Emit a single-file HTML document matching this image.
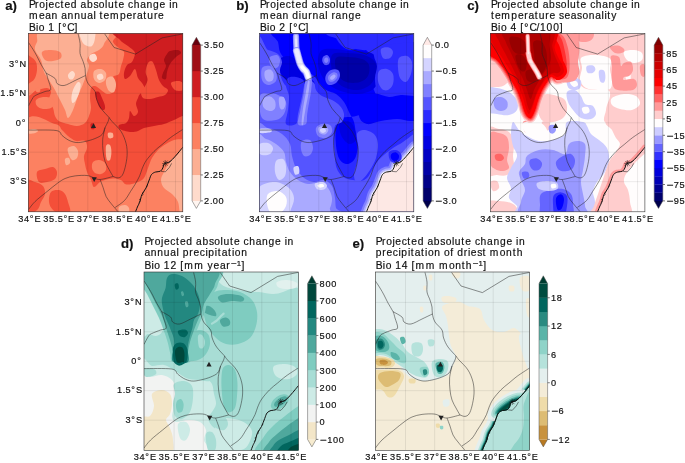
<!DOCTYPE html>
<html lang="en"><head><meta charset="utf-8"><title>Projected absolute change in bioclimatic variables</title>
<style>html,body{margin:0;padding:0;background:#fff}svg{display:block;will-change:transform}text{font-family:"Liberation Sans",Arial,Helvetica,sans-serif;fill:#111;stroke:#111;stroke-width:0.18px}.ttl{font-size:10.28px}.tk{font-size:9.2px}.lab{font-size:13.2px;font-weight:bold}.mn{font-family:"DejaVu Sans","Liberation Sans",sans-serif}</style></head><body>
<svg width="685" height="463" viewBox="0 0 685 463">
<defs><clipPath id="clipmap"><rect x="28.5" y="33.5" width="154.3" height="178.3"/></clipPath><filter id="b1" x="-10%" y="-10%" width="120%" height="120%"><feGaussianBlur stdDeviation="0.6"/></filter></defs>
<rect width="685" height="463" fill="#fff"/>
<g transform="translate(0.0,0.0)">
<g clip-path="url(#clipmap)">
<rect x="28" y="33" width="156" height="180" fill="#f44f39"/>
<path d="M25.0 30.0C39.3 19.7 96.3 28.0 111.0 30.0C125.7 32.0 111.7 39.0 113.0 42.0C114.3 45.0 117.2 46.3 119.0 48.0C120.8 49.7 123.3 50.0 124.0 52.0C124.7 54.0 123.5 57.7 123.0 60.0C122.5 62.3 121.7 63.7 121.0 66.0C120.3 68.3 120.3 72.2 119.0 74.0C117.7 75.8 113.7 75.3 113.0 77.0C112.3 78.7 115.0 81.5 115.0 84.0C115.0 86.5 114.3 90.3 113.0 92.0C111.7 93.7 109.0 94.3 107.0 94.0C105.0 93.7 103.0 91.3 101.0 90.0C99.0 88.7 96.7 86.3 95.0 86.0C93.3 85.7 91.8 86.0 91.0 88.0C90.2 90.0 90.0 94.7 90.0 98.0C90.0 101.3 91.2 105.0 91.0 108.0C90.8 111.0 90.0 113.5 89.0 116.0C88.0 118.5 87.0 121.3 85.0 123.0C83.0 124.7 79.8 125.8 77.0 126.0C74.2 126.2 71.0 124.8 68.0 124.0C65.0 123.2 61.2 122.3 59.0 121.0C56.8 119.7 56.0 118.2 55.0 116.0C54.0 113.8 54.0 110.7 53.0 108.0C52.0 105.3 49.3 102.7 49.0 100.0C48.7 97.3 51.3 94.0 51.0 92.0C50.7 90.0 49.3 88.3 47.0 88.0C44.7 87.7 40.7 89.3 37.0 90.0C33.3 90.7 27.0 102.0 25.0 92.0C23.0 82.0 10.7 40.3 25.0 30.0Z" fill="#fc8161"/>
<path d="M36.0 100.0C37.0 98.5 40.5 97.3 43.0 97.0C45.5 96.7 49.1 97.0 51.0 98.0C52.9 99.0 54.6 101.3 54.6 103.0C54.6 104.7 52.9 107.0 51.0 108.0C49.1 109.0 45.3 109.3 43.0 109.0C40.7 108.7 38.2 107.5 37.0 106.0C35.8 104.5 35.0 101.5 36.0 100.0Z" fill="#fc8161"/>
<ellipse cx="38.0" cy="90.0" rx="2.4" ry="2.4" fill="#fc8161"/>
<path d="M25.0 123.0C30.0 107.7 48.8 122.8 55.0 124.0C61.2 125.2 59.8 128.0 62.0 130.0C64.2 132.0 65.7 134.2 68.0 136.0C70.3 137.8 73.2 140.2 76.0 141.0C78.8 141.8 83.2 139.8 85.0 141.0C86.8 142.2 87.2 145.5 87.0 148.0C86.8 150.5 84.3 153.3 84.0 156.0C83.7 158.7 84.5 161.3 85.0 164.0C85.5 166.7 86.0 169.3 87.0 172.0C88.0 174.7 89.8 177.5 91.0 180.0C92.2 182.5 92.5 186.7 94.0 187.0C95.5 187.3 98.2 183.2 100.0 182.0C101.8 180.8 102.8 180.6 105.0 180.0C107.2 179.4 110.3 178.4 113.0 178.4C115.7 178.4 119.0 179.1 121.0 180.0C123.0 180.9 123.5 183.3 125.0 184.0C126.5 184.7 127.8 184.7 130.0 184.4C132.2 184.1 135.7 183.1 138.0 182.0C140.3 180.9 142.3 180.3 144.0 178.0C145.7 175.7 146.7 171.3 148.0 168.0C149.3 164.7 150.3 161.0 152.0 158.0C153.7 155.0 155.7 152.3 158.0 150.0C160.3 147.7 163.3 145.7 166.0 144.0C168.7 142.3 171.2 140.8 174.0 140.0C176.8 139.2 179.9 139.3 182.6 139.0C185.3 138.7 188.8 125.2 190.0 138.0C191.2 150.8 217.5 203.0 190.0 216.0C162.5 229.0 52.5 231.5 25.0 216.0C-2.5 200.5 20.0 138.3 25.0 123.0Z" fill="#fc8161"/>
<path d="M93.0 162.0C94.2 160.7 97.0 159.8 99.0 160.0C101.0 160.2 103.8 161.3 105.0 163.0C106.2 164.7 106.7 168.2 106.0 170.0C105.3 171.8 102.8 173.5 101.0 174.0C99.2 174.5 96.5 174.0 95.0 173.0C93.5 172.0 92.3 169.8 92.0 168.0C91.7 166.2 91.8 163.3 93.0 162.0Z" fill="#fc8161"/>
<path d="M25.0 56.0C26.0 51.7 29.2 56.0 31.0 57.0C32.8 58.0 35.0 59.8 36.0 62.0C37.0 64.2 37.2 67.3 37.0 70.0C36.8 72.7 36.0 76.0 35.0 78.0C34.0 80.0 32.7 81.2 31.0 82.0C29.3 82.8 26.0 87.3 25.0 83.0C24.0 78.7 24.0 60.3 25.0 56.0Z" fill="#f44f39"/>
<path d="M37.0 172.0C38.0 169.8 42.3 169.8 45.0 169.0C47.7 168.2 51.0 166.5 53.0 167.0C55.0 167.5 56.7 170.0 57.0 172.0C57.3 174.0 56.7 177.3 55.0 179.0C53.3 180.7 49.7 181.5 47.0 182.0C44.3 182.5 40.7 183.7 39.0 182.0C37.3 180.3 36.0 174.2 37.0 172.0Z" fill="#f44f39"/>
<path d="M25.0 182.0C26.7 176.7 32.0 181.3 35.0 182.0C38.0 182.7 41.3 184.0 43.0 186.0C44.7 188.0 45.3 191.3 45.0 194.0C44.7 196.7 42.3 199.3 41.0 202.0C39.7 204.7 39.7 208.0 37.0 210.0C34.3 212.0 27.0 218.7 25.0 214.0C23.0 209.3 23.3 187.3 25.0 182.0Z" fill="#f44f39"/>
<path d="M51.0 192.0C52.7 190.0 56.7 189.7 59.0 190.0C61.3 190.3 63.5 192.0 65.0 194.0C66.5 196.0 67.2 199.0 68.0 202.0C68.8 205.0 71.2 210.0 70.0 212.0C68.8 214.0 63.8 214.3 61.0 214.0C58.2 213.7 55.0 212.0 53.0 210.0C51.0 208.0 49.3 205.0 49.0 202.0C48.7 199.0 49.3 194.0 51.0 192.0Z" fill="#f44f39"/>
<path d="M44.0 30.0C32.7 32.0 38.5 38.7 37.0 42.0C35.5 45.3 34.3 47.0 35.0 50.0C35.7 53.0 39.5 56.3 41.0 60.0C42.5 63.7 42.7 68.7 44.0 72.0C45.3 75.3 47.2 77.0 49.0 80.0C50.8 83.0 53.3 87.0 55.0 90.0C56.7 93.0 57.3 94.7 59.0 98.0C60.7 101.3 63.5 106.7 65.0 110.0C66.5 113.3 66.7 118.0 68.0 118.0C69.3 118.0 71.3 113.7 73.0 110.0C74.7 106.3 76.3 100.3 78.0 96.0C79.7 91.7 81.7 87.3 83.0 84.0C84.3 80.7 85.0 79.0 86.0 76.0C87.0 73.0 88.8 68.7 89.0 66.0C89.2 63.3 86.7 62.0 87.0 60.0C87.3 58.0 89.0 55.7 91.0 54.0C93.0 52.3 96.8 51.7 99.0 50.0C101.2 48.3 103.0 47.3 104.0 44.0C105.0 40.7 115.0 32.3 105.0 30.0C95.0 27.7 55.3 28.0 44.0 30.0Z" fill="#fcaf93"/>
<path d="M42.0 52.0C43.0 50.3 48.0 50.0 51.0 50.0C54.0 50.0 58.3 50.7 60.0 52.0C61.7 53.3 62.2 56.5 61.0 58.0C59.8 59.5 55.7 60.7 53.0 61.0C50.3 61.3 46.8 61.5 45.0 60.0C43.2 58.5 41.0 53.7 42.0 52.0Z" fill="#fc8161"/>
<path d="M94.0 71.0C95.2 69.3 99.0 68.7 101.0 69.0C103.0 69.3 105.3 71.2 106.0 73.0C106.7 74.8 106.2 78.3 105.0 80.0C103.8 81.7 100.8 83.2 99.0 83.0C97.2 82.8 94.8 81.0 94.0 79.0C93.2 77.0 92.8 72.7 94.0 71.0Z" fill="#fcaf93"/>
<path d="M107.0 78.0C108.2 76.8 111.5 76.0 113.0 77.0C114.5 78.0 115.8 81.5 116.0 84.0C116.2 86.5 115.2 90.8 114.0 92.0C112.8 93.2 110.3 92.3 109.0 91.0C107.7 89.7 106.3 86.2 106.0 84.0C105.7 81.8 105.8 79.2 107.0 78.0Z" fill="#fcaf93"/>
<path d="M68.0 148.0C68.9 146.7 72.3 145.5 74.0 146.0C75.7 146.5 77.5 149.0 78.0 151.0C78.5 153.0 78.0 156.5 77.0 158.0C76.0 159.5 73.4 160.7 72.0 160.0C70.6 159.3 69.3 156.0 68.6 154.0C67.9 152.0 67.1 149.3 68.0 148.0Z" fill="#fcaf93"/>
<path d="M65.0 159.0C65.5 157.8 68.2 157.3 69.0 158.0C69.8 158.7 70.5 161.8 70.0 163.0C69.5 164.2 66.8 165.7 66.0 165.0C65.2 164.3 64.5 160.2 65.0 159.0Z" fill="#fcaf93"/>
<path d="M106.0 146.0C106.6 143.7 109.1 144.0 110.0 145.0C110.9 146.0 111.4 149.5 111.4 152.0C111.4 154.5 110.8 158.8 110.0 160.0C109.2 161.2 107.3 161.3 106.6 159.0C105.9 156.7 105.4 148.3 106.0 146.0Z" fill="#fcaf93"/>
<path d="M108.0 133.0C108.7 132.2 111.8 132.2 112.6 133.0C113.4 133.8 113.7 136.8 113.0 137.6C112.3 138.4 109.4 138.8 108.6 138.0C107.8 137.2 107.3 133.8 108.0 133.0Z" fill="#fcaf93"/>
<path d="M119.0 207.0C119.8 205.7 123.3 204.8 125.0 205.0C126.7 205.2 128.5 206.7 129.0 208.0C129.5 209.3 129.5 212.2 128.0 213.0C126.5 213.8 121.5 214.0 120.0 213.0C118.5 212.0 118.2 208.3 119.0 207.0Z" fill="#fcaf93"/>
<path d="M28.4 130.0C29.7 129.3 34.4 128.9 36.0 129.2C37.6 129.5 38.3 130.9 37.8 131.6C37.3 132.3 34.6 133.3 33.0 133.6C31.4 133.9 29.2 133.8 28.4 133.2C27.6 132.6 27.1 130.7 28.4 130.0Z" fill="#fcaf93"/>
<path d="M190.0 146.0C188.8 134.7 184.6 146.7 182.6 148.0C180.6 149.3 180.1 151.7 178.0 154.0C175.9 156.3 172.3 159.0 170.0 162.0C167.7 165.0 165.5 169.0 164.0 172.0C162.5 175.0 161.0 177.3 161.0 180.0C161.0 182.7 162.2 185.7 164.0 188.0C165.8 190.3 169.7 191.7 172.0 194.0C174.3 196.3 176.5 198.3 178.0 202.0C179.5 205.7 179.0 213.7 181.0 216.0C183.0 218.3 188.5 227.7 190.0 216.0C191.5 204.3 191.2 157.3 190.0 146.0Z" fill="#fcaf93"/>
<path d="M80.0 30.0C82.2 28.5 91.5 28.7 94.0 30.0C96.5 31.3 95.3 35.3 95.0 38.0C94.7 40.7 93.7 44.8 92.0 46.0C90.3 47.2 86.8 46.2 85.0 45.0C83.2 43.8 81.8 41.5 81.0 39.0C80.2 36.5 77.8 31.5 80.0 30.0Z" fill="#fedbcc"/>
<path d="M90.0 55.0C90.9 54.2 93.8 53.3 95.0 54.0C96.2 54.7 97.3 57.7 97.0 59.0C96.7 60.3 94.3 62.0 93.0 62.0C91.7 62.0 89.9 60.2 89.4 59.0C88.9 57.8 89.1 55.8 90.0 55.0Z" fill="#fedbcc"/>
<path d="M68.0 75.0C68.4 73.7 70.8 71.2 72.0 71.0C73.2 70.8 74.8 72.7 75.0 74.0C75.2 75.3 73.9 78.2 73.0 79.0C72.1 79.8 70.2 79.7 69.4 79.0C68.6 78.3 67.6 76.3 68.0 75.0Z" fill="#fedbcc"/>
<path d="M73.0 90.0C74.0 87.4 76.1 83.4 77.4 82.4C78.7 81.4 80.3 82.4 80.6 84.0C80.9 85.6 80.2 89.3 79.4 92.0C78.6 94.7 77.1 98.2 76.0 100.0C74.9 101.8 73.4 103.3 72.6 103.0C71.8 102.7 71.3 100.2 71.4 98.0C71.5 95.8 72.0 92.6 73.0 90.0Z" fill="#fedbcc"/>
<path d="M97.4 75.0C98.2 74.3 101.0 73.5 102.0 74.0C103.0 74.5 103.7 77.0 103.4 78.0C103.1 79.0 101.0 79.9 100.0 80.0C99.0 80.1 97.8 79.2 97.4 78.4C97.0 77.6 96.6 75.7 97.4 75.0Z" fill="#fedbcc"/>
<path d="M117.0 30.0C105.3 31.7 118.2 37.3 120.0 40.0C121.8 42.7 125.8 44.3 128.0 46.0C130.2 47.7 131.8 48.7 133.0 50.0C134.2 51.3 135.2 52.0 135.0 54.0C134.8 56.0 133.3 60.2 132.0 62.0C130.7 63.8 128.3 63.2 127.0 65.0C125.7 66.8 124.3 70.7 124.0 73.0C123.7 75.3 124.0 78.5 125.0 79.0C126.0 79.5 128.3 77.7 130.0 76.0C131.7 74.3 133.7 68.7 135.0 69.0C136.3 69.3 136.8 75.7 138.0 78.0C139.2 80.3 140.8 81.3 142.0 83.0C143.2 84.7 144.3 86.8 145.0 88.0C145.7 89.2 146.8 89.0 146.0 90.0C145.2 91.0 141.3 92.7 140.0 94.0C138.7 95.3 138.7 96.3 138.0 98.0C137.3 99.7 136.0 101.7 136.0 104.0C136.0 106.3 138.3 110.0 138.0 112.0C137.7 114.0 135.3 116.2 134.0 116.0C132.7 115.8 130.8 110.7 130.0 111.0C129.2 111.3 129.7 116.0 129.0 118.0C128.3 120.0 127.7 121.8 126.0 123.0C124.3 124.2 120.0 124.0 119.0 125.0C118.0 126.0 118.2 127.8 120.0 129.0C121.8 130.2 127.0 131.7 130.0 132.0C133.0 132.3 135.7 131.7 138.0 131.0C140.3 130.3 141.3 128.8 144.0 128.0C146.7 127.2 150.7 126.7 154.0 126.0C157.3 125.3 160.7 125.0 164.0 124.0C167.3 123.0 170.9 121.3 174.0 120.0C177.1 118.7 179.9 116.8 182.6 116.0C185.3 115.2 188.8 129.3 190.0 115.0C191.2 100.7 202.2 44.2 190.0 30.0C177.8 15.8 128.7 28.3 117.0 30.0Z" fill="#cf1d20"/>
<path d="M148.0 63.0C149.1 61.3 151.1 60.4 152.4 61.6C153.7 62.8 154.9 66.9 156.0 70.0C157.1 73.1 157.8 77.3 159.0 80.0C160.2 82.7 161.5 84.3 163.0 86.0C164.5 87.7 167.7 88.5 168.0 90.0C168.3 91.5 166.7 93.8 165.0 95.0C163.3 96.2 160.5 96.3 158.0 97.0C155.5 97.7 152.5 98.8 150.0 99.0C147.5 99.2 144.5 99.2 143.0 98.0C141.5 96.8 140.8 93.7 141.0 92.0C141.2 90.3 142.9 90.0 144.0 88.0C145.1 86.0 147.3 82.7 147.6 80.0C147.9 77.3 145.5 74.8 145.6 72.0C145.7 69.2 146.9 64.7 148.0 63.0Z" fill="#f44f39"/>
<path d="M171.0 83.0C171.5 81.5 176.1 81.0 178.0 81.0C179.9 81.0 181.8 81.5 182.6 83.0C183.4 84.5 183.9 88.8 182.6 90.0C181.3 91.2 176.9 91.2 175.0 90.0C173.1 88.8 170.5 84.5 171.0 83.0Z" fill="#f44f39"/>
<path d="M170.0 51.0C171.8 50.3 176.2 49.7 178.0 50.0C179.8 50.3 181.3 51.8 181.0 53.0C180.7 54.2 177.8 55.2 176.0 57.0C174.2 58.8 171.5 61.5 170.0 64.0C168.5 66.5 167.7 69.5 167.0 72.0C166.3 74.5 166.8 78.0 166.0 79.0C165.2 80.0 162.5 79.0 162.0 78.0C161.5 77.0 162.3 75.0 163.0 73.0C163.7 71.0 165.8 68.2 166.0 66.0C166.2 63.8 163.8 62.0 164.0 60.0C164.2 58.0 166.0 55.5 167.0 54.0C168.0 52.5 168.2 51.7 170.0 51.0Z" fill="#a50f15"/>
<path d="M95.0 93.0C95.3 91.5 97.8 91.2 99.0 92.0C100.2 92.8 101.0 95.7 102.0 98.0C103.0 100.3 104.7 104.0 105.0 106.0C105.3 108.0 104.8 109.7 104.0 110.0C103.2 110.3 101.2 109.5 100.0 108.0C98.8 106.5 97.8 103.5 97.0 101.0C96.2 98.5 94.7 94.5 95.0 93.0Z" fill="#cf1d20"/>
<path d="M90.6 124.0C91.0 123.1 93.3 122.9 94.0 123.6C94.7 124.3 95.0 127.5 94.6 128.4C94.2 129.3 92.1 129.7 91.4 129.0C90.7 128.3 90.2 124.9 90.6 124.0Z" fill="#cf1d20"/>
<line x1="58.6" y1="33.5" x2="58.6" y2="211.8" stroke="#000" stroke-opacity="0.16" stroke-width="0.5"/>
<line x1="87.8" y1="33.5" x2="87.8" y2="211.8" stroke="#000" stroke-opacity="0.16" stroke-width="0.5"/>
<line x1="117.0" y1="33.5" x2="117.0" y2="211.8" stroke="#000" stroke-opacity="0.16" stroke-width="0.5"/>
<line x1="146.3" y1="33.5" x2="146.3" y2="211.8" stroke="#000" stroke-opacity="0.16" stroke-width="0.5"/>
<line x1="175.5" y1="33.5" x2="175.5" y2="211.8" stroke="#000" stroke-opacity="0.16" stroke-width="0.5"/>
<line x1="28.5" y1="63.9" x2="182.8" y2="63.9" stroke="#000" stroke-opacity="0.16" stroke-width="0.5"/>
<line x1="28.5" y1="93.3" x2="182.8" y2="93.3" stroke="#000" stroke-opacity="0.16" stroke-width="0.5"/>
<line x1="28.5" y1="122.8" x2="182.8" y2="122.8" stroke="#000" stroke-opacity="0.16" stroke-width="0.5"/>
<line x1="28.5" y1="152.2" x2="182.8" y2="152.2" stroke="#000" stroke-opacity="0.16" stroke-width="0.5"/>
<line x1="28.5" y1="181.7" x2="182.8" y2="181.7" stroke="#000" stroke-opacity="0.16" stroke-width="0.5"/>
<path d="M28.5 42.5C29.3 43.7 31.7 47.2 33.1 49.5C34.5 51.8 35.8 54.0 37.1 56.5C38.4 59.0 39.6 61.7 41.1 64.5C42.6 67.3 44.9 70.6 46.1 73.1C47.3 75.6 47.3 76.8 48.1 79.5C48.9 82.2 51.2 87.5 50.7 89.5C50.2 91.5 47.5 90.6 45.1 91.5C42.7 92.4 38.1 94.1 36.1 95.1C34.1 96.1 34.4 95.7 33.1 97.5C31.8 99.3 29.3 104.5 28.5 105.9" fill="none" stroke="#222" stroke-width="0.5"/>
<path d="M46.1 73.1C47.6 74.0 53.3 76.8 55.1 78.5C56.9 80.2 55.6 82.3 57.1 83.5C58.6 84.7 61.1 86.0 64.1 85.5C67.1 85.0 71.5 82.2 75.1 80.5C78.7 78.8 83.8 76.3 85.5 75.5" fill="none" stroke="#222" stroke-width="0.5"/>
<path d="M78.1 33.9C78.4 35.5 79.8 40.2 80.1 43.5C80.4 46.8 79.6 50.5 80.1 53.5C80.6 56.5 82.3 59.0 83.1 61.5C83.9 64.0 84.7 66.2 85.1 68.5C85.5 70.8 85.0 73.0 85.5 75.5C86.0 78.0 86.5 80.8 88.1 83.5C89.7 86.2 93.7 88.8 95.1 91.5C96.5 94.2 95.7 96.7 96.7 99.5C97.7 102.3 99.0 105.5 101.1 108.5C103.2 111.5 107.8 116.0 109.1 117.5" fill="none" stroke="#222" stroke-width="0.5"/>
<path d="M109.1 117.5C108.9 118.2 108.8 119.8 108.1 121.5C107.4 123.2 106.1 125.3 105.1 127.5C104.1 129.7 103.8 132.7 102.1 134.5C100.4 136.3 97.9 137.3 95.1 138.5C92.3 139.7 88.3 140.8 85.1 141.5C81.9 142.2 78.9 142.8 76.1 142.5C73.3 142.2 70.4 141.1 68.1 139.9C65.8 138.7 64.1 137.1 62.1 135.5C60.1 133.9 61.7 131.4 56.1 130.5C50.5 129.6 33.1 130.2 28.5 130.1" fill="none" stroke="#222" stroke-width="0.5"/>
<path d="M109.1 117.5C109.6 118.2 110.1 119.2 112.1 121.5C114.1 123.8 118.8 127.8 121.1 131.5C123.4 135.2 125.1 139.5 126.1 143.5C127.1 147.5 127.3 151.5 127.1 155.5C126.9 159.5 125.9 164.2 125.1 167.5C124.3 170.8 123.3 173.8 122.1 175.5C120.9 177.2 119.6 177.7 118.1 177.9C116.6 178.1 113.9 176.7 113.1 176.5" fill="none" stroke="#222" stroke-width="0.5"/>
<path d="M105.1 127.5C104.7 129.5 103.0 135.5 102.7 139.5C102.4 143.5 102.7 147.8 103.1 151.5C103.5 155.2 104.1 158.5 105.1 161.5C106.1 164.5 107.8 167.0 109.1 169.5C110.4 172.0 112.4 175.3 113.1 176.5" fill="none" stroke="#222" stroke-width="0.5"/>
<path d="M28.5 209.5C29.6 208.2 32.0 204.5 35.1 201.5C38.2 198.5 43.4 194.5 47.1 191.5C50.8 188.5 54.1 185.7 57.1 183.5C60.1 181.3 62.1 179.8 65.1 178.5C68.1 177.2 71.4 176.4 75.1 175.9C78.8 175.4 83.9 175.2 87.1 175.5C90.3 175.8 91.9 177.2 94.1 177.9C96.3 178.6 96.9 179.7 100.1 179.5C103.3 179.3 110.9 177.0 113.1 176.5" fill="none" stroke="#222" stroke-width="0.5"/>
<path d="M100.1 179.5C100.6 180.8 102.1 184.7 103.1 187.5C104.1 190.3 104.8 193.8 106.1 196.5C107.4 199.2 109.4 201.3 111.1 203.5C112.8 205.7 114.9 208.1 116.1 209.5C117.3 210.9 117.8 211.5 118.1 211.9" fill="none" stroke="#222" stroke-width="0.5"/>
<path d="M115.1 207.5C116.7 206.3 121.9 203.2 124.5 200.5C127.1 197.8 128.8 194.2 130.5 191.5C132.2 188.8 133.5 187.1 135.0 184.5C136.5 181.9 138.4 178.7 139.6 176.0C140.8 173.3 141.1 171.2 142.2 168.6C143.3 166.0 144.2 163.5 146.2 160.6C148.2 157.7 151.4 154.1 154.0 151.4C156.6 148.7 159.2 146.9 162.0 144.6C164.8 142.3 167.1 140.1 170.5 137.6C173.9 135.1 180.7 130.8 182.7 129.5" fill="none" stroke="#222" stroke-width="0.5"/>
<path d="M104.7 33.9 L114.1 47.5 L135.5 54.1 L162.1 37.9 L182.7 33.9" fill="none" stroke="#222" stroke-width="0.5"/>
<path d="M135.2 212.5C135.6 211.6 136.7 208.7 137.4 207.0C138.1 205.3 138.8 204.5 139.6 202.4C140.4 200.3 140.9 196.8 142.0 194.4C143.1 192.0 144.8 190.4 146.0 188.0C147.2 185.6 148.3 182.3 149.2 180.0C150.1 177.7 150.5 175.7 151.6 174.4C152.7 173.1 154.1 172.5 155.6 172.0C157.1 171.5 159.2 171.9 160.4 171.2C161.6 170.5 162.1 169.2 162.8 168.0C163.5 166.8 163.2 165.1 164.4 164.0C165.6 162.9 168.3 162.8 170.0 161.6C171.7 160.4 173.2 158.5 174.8 156.8C176.4 155.1 178.2 152.9 179.6 151.2C181.0 149.5 182.6 147.5 183.2 146.8" fill="none" stroke="#111" stroke-width="1.0"/>
<path d="M162.6 165.8L167.6 160.6M163.4 161.2L167.4 165.6M162.2 163.6L168.6 162.8M165.2 160.2L165.4 166.4M168.6 162.8L170.6 161.0" fill="none" stroke="#111" stroke-width="0.55"/>
<path d="M138.6 203.4L140.4 200.6L139.4 199.4L141.2 198.2M141.6 196.0L143.0 194.6L142.6 193.0L144.0 191.4M146.6 187.0L147.6 185.4M161.0 171.4L165.4 171.8L169.4 167.4L171.6 163.4" fill="none" stroke="#111" stroke-width="0.5"/>
<polygon points="90.9,128.0 96.1,128.0 93.5,123.2" fill="#222"/>
<polygon points="91.6,177.3 96.8,177.3 94.2,182.1" fill="#222"/>
</g>
<rect x="28.5" y="33.5" width="154.3" height="178.3" fill="none" stroke="#333" stroke-width="0.6"/>
<text x="5.2" y="10.2" class="lab">a)</text>
<text x="28.90 35.10 39.33 45.62 48.47 54.80 60.45 64.48 70.80 77.33 80.60 86.90 93.42 98.78 105.07 107.92 114.44 118.47 124.79 128.06 133.71 140.23 146.53 153.04 159.57 165.89 169.16 172.02" y="7.9" class="ttl">Projected absolute change in</text>
<text x="28.90 38.91 45.24 51.54 58.05 61.32 67.62 74.14 80.65 87.17 93.47 96.32 99.59 103.62 109.95 119.96 126.48 132.81 137.04 143.34 147.37 153.88 158.11" y="19.2" class="ttl">mean annual temperature</text>
<text x="28.90 35.95 38.81 45.10 48.37 54.91 58.17 62.18 67.32 74.50" y="30.7" class="ttl">Bio 1 [°C]</text>
<text x="18.26 24.05 29.84 34.39" y="221.9" class="tk">34°E</text>
<text x="43.22 49.01 54.80 57.69 63.48 68.03" y="221.9" class="tk">35.5°E</text>
<text x="76.86 82.65 88.44 92.99" y="221.9" class="tk">37°E</text>
<text x="101.72 107.51 113.30 116.19 121.98 126.53" y="221.9" class="tk">38.5°E</text>
<text x="135.26 141.05 146.84 151.39" y="221.9" class="tk">40°E</text>
<text x="160.02 165.81 171.60 174.49 180.28 184.83" y="221.9" class="tk">41.5°E</text>
<text x="9.05 14.84 19.39" y="66.6" class="tk">3°N</text>
<text x="0.37 6.16 9.05 14.84 19.39" y="96.0" class="tk">1.5°N</text>
<text x="15.86 21.65" y="125.5" class="tk">0°</text>
<text x="1.40 7.19 10.08 15.87 20.42" y="154.9" class="tk">1.5°S</text>
<text x="10.08 15.87 20.42" y="184.3" class="tk">3°S</text>
<polygon points="192.1,45.1 200.7,45.1 196.4,37.3" fill="#67000d"/>
<polygon points="192.1,200.9 200.7,200.9 196.4,208.4" fill="#fff5f0"/>
<rect x="192.1" y="174.83" width="8.6" height="26.17" fill="#fedbcc"/>
<rect x="192.1" y="148.87" width="8.6" height="26.17" fill="#fcaf93"/>
<rect x="192.1" y="122.90" width="8.6" height="26.17" fill="#fc8161"/>
<rect x="192.1" y="96.93" width="8.6" height="26.17" fill="#f44f39"/>
<rect x="192.1" y="70.97" width="8.6" height="26.17" fill="#cf1d20"/>
<rect x="192.1" y="45.00" width="8.6" height="26.17" fill="#a00e15"/>
<polygon points="192.1,45.1 196.4,37.3 200.7,45.1 200.7,200.9 196.4,208.4 192.1,200.9" fill="none" stroke="#555" stroke-width="0.5"/>
<line x1="200.7" y1="200.90" x2="202.9" y2="200.90" stroke="#222" stroke-width="0.6"/>
<text x="204.10 209.89 212.78 218.57" y="204.2" class="tk">2.00</text>
<line x1="200.7" y1="174.93" x2="202.9" y2="174.93" stroke="#222" stroke-width="0.6"/>
<text x="204.10 209.89 212.78 218.57" y="178.2" class="tk">2.25</text>
<line x1="200.7" y1="148.97" x2="202.9" y2="148.97" stroke="#222" stroke-width="0.6"/>
<text x="204.10 209.89 212.78 218.57" y="152.3" class="tk">2.50</text>
<line x1="200.7" y1="123.00" x2="202.9" y2="123.00" stroke="#222" stroke-width="0.6"/>
<text x="204.10 209.89 212.78 218.57" y="126.3" class="tk">2.75</text>
<line x1="200.7" y1="97.03" x2="202.9" y2="97.03" stroke="#222" stroke-width="0.6"/>
<text x="204.10 209.89 212.78 218.57" y="100.3" class="tk">3.00</text>
<line x1="200.7" y1="71.07" x2="202.9" y2="71.07" stroke="#222" stroke-width="0.6"/>
<text x="204.10 209.89 212.78 218.57" y="74.4" class="tk">3.25</text>
<line x1="200.7" y1="45.10" x2="202.9" y2="45.10" stroke="#222" stroke-width="0.6"/>
<text x="204.10 209.89 212.78 218.57" y="48.4" class="tk">3.50</text>
</g>
<g transform="translate(231.0,0.0)">
<g clip-path="url(#clipmap)">
<rect x="28" y="33" width="156" height="180" fill="#2b2bff"/>
<path d="M43.0 30.0C33.7 32.0 46.0 38.3 47.0 42.0C48.0 45.7 47.7 49.0 49.0 52.0C50.3 55.0 52.7 57.7 55.0 60.0C57.3 62.3 60.0 64.3 63.0 66.0C66.0 67.7 69.7 68.3 73.0 70.0C76.3 71.7 80.3 73.7 83.0 76.0C85.7 78.3 87.0 81.7 89.0 84.0C91.0 86.3 92.3 88.3 95.0 90.0C97.7 91.7 102.0 92.0 105.0 94.0C108.0 96.0 110.7 98.7 113.0 102.0C115.3 105.3 117.3 110.7 119.0 114.0C120.7 117.3 122.0 118.7 123.0 122.0C124.0 125.3 124.4 130.0 125.0 134.0C125.6 138.0 126.6 142.3 126.6 146.0C126.6 149.7 125.9 153.3 125.0 156.0C124.1 158.7 122.7 160.7 121.0 162.0C119.3 163.3 117.0 164.3 115.0 164.0C113.0 163.7 110.5 162.0 109.0 160.0C107.5 158.0 106.7 155.3 106.0 152.0C105.3 148.7 104.8 144.0 104.6 140.0C104.4 136.0 104.6 131.0 105.0 128.0C105.4 125.0 106.3 123.7 107.0 122.0C107.7 120.3 106.0 119.0 109.0 118.0C112.0 117.0 120.3 117.3 125.0 116.0C129.7 114.7 133.7 112.7 137.0 110.0C140.3 107.3 144.0 103.3 145.0 100.0C146.0 96.7 144.3 93.3 143.0 90.0C141.7 86.7 137.7 84.0 137.0 80.0C136.3 76.0 139.0 70.7 139.0 66.0C139.0 61.3 138.7 55.0 137.0 52.0C135.3 49.0 132.0 48.3 129.0 48.0C126.0 47.7 122.0 50.3 119.0 50.0C116.0 49.7 113.3 48.0 111.0 46.0C108.7 44.0 106.3 40.7 105.0 38.0C103.7 35.3 113.3 31.3 103.0 30.0C92.7 28.7 52.3 28.0 43.0 30.0Z" fill="#0000ff"/>
<path d="M91.0 50.0C94.0 48.2 100.3 48.8 105.0 49.0C109.7 49.2 113.7 50.5 119.0 51.0C124.3 51.5 132.0 50.5 137.0 52.0C142.0 53.5 147.0 56.3 149.0 60.0C151.0 63.7 149.7 69.7 149.0 74.0C148.3 78.3 147.0 83.0 145.0 86.0C143.0 89.0 140.3 90.7 137.0 92.0C133.7 93.3 129.0 94.0 125.0 94.0C121.0 94.0 116.7 93.0 113.0 92.0C109.3 91.0 106.0 89.7 103.0 88.0C100.0 86.3 97.3 84.7 95.0 82.0C92.7 79.3 90.3 75.7 89.0 72.0C87.7 68.3 86.7 63.7 87.0 60.0C87.3 56.3 88.0 51.8 91.0 50.0Z" fill="#0000e1"/>
<path d="M47.0 60.0C48.5 57.7 54.0 56.0 57.0 56.0C60.0 56.0 63.2 58.0 65.0 60.0C66.8 62.0 66.7 65.3 68.0 68.0C69.3 70.7 70.8 74.0 73.0 76.0C75.2 78.0 79.3 78.7 81.0 80.0C82.7 81.3 84.3 83.2 83.0 84.0C81.7 84.8 76.7 85.0 73.0 85.0C69.3 85.0 64.3 85.2 61.0 84.0C57.7 82.8 55.2 80.3 53.0 78.0C50.8 75.7 49.0 73.0 48.0 70.0C47.0 67.0 45.5 62.3 47.0 60.0Z" fill="#0000e1"/>
<path d="M109.0 122.0C110.7 120.3 116.5 120.7 119.0 122.0C121.5 123.3 123.0 127.0 124.0 130.0C125.0 133.0 125.8 137.7 125.0 140.0C124.2 142.3 121.0 144.0 119.0 144.0C117.0 144.0 114.7 142.0 113.0 140.0C111.3 138.0 109.7 135.0 109.0 132.0C108.3 129.0 107.3 123.7 109.0 122.0Z" fill="#0000e1"/>
<path d="M102.0 54.0C104.5 52.3 109.8 52.8 115.0 53.0C120.2 53.2 128.2 53.5 133.0 55.0C137.8 56.5 142.0 58.8 144.0 62.0C146.0 65.2 145.8 70.2 145.0 74.0C144.2 77.8 142.0 82.3 139.0 85.0C136.0 87.7 131.0 89.5 127.0 90.0C123.0 90.5 118.3 89.2 115.0 88.0C111.7 86.8 109.2 85.3 107.0 83.0C104.8 80.7 103.2 77.3 102.0 74.0C100.8 70.7 100.0 66.3 100.0 63.0C100.0 59.7 99.5 55.7 102.0 54.0Z" fill="#0000c4"/>
<path d="M105.0 58.0C107.0 55.8 112.7 56.8 117.0 57.0C121.3 57.2 127.5 57.7 131.0 59.0C134.5 60.3 137.0 62.2 138.0 65.0C139.0 67.8 138.5 73.2 137.0 76.0C135.5 78.8 132.3 80.9 129.0 82.0C125.7 83.1 120.3 83.1 117.0 82.4C113.7 81.7 111.0 80.1 109.0 78.0C107.0 75.9 105.7 73.3 105.0 70.0C104.3 66.7 103.0 60.2 105.0 58.0Z" fill="#0000a6"/>
<path d="M96.0 35.0C98.0 36.7 106.0 37.9 110.0 40.0C114.0 42.1 115.7 45.9 120.0 47.6C124.3 49.3 131.0 50.6 136.0 50.0C141.0 49.4 146.3 46.0 150.0 44.0C153.7 42.0 156.0 40.3 158.0 38.0C160.0 35.7 166.7 31.3 162.0 30.0C157.3 28.7 138.7 30.0 130.0 30.0C121.3 30.0 115.3 30.0 110.0 30.0C104.7 30.0 100.3 29.2 98.0 30.0C95.7 30.8 94.0 33.3 96.0 35.0Z" fill="#2b2bff"/>
<path d="M144.0 46.0C147.2 44.0 155.6 44.7 162.0 44.0C168.4 43.3 177.9 42.3 182.6 42.0C187.3 41.7 188.8 33.0 190.0 42.0C191.2 51.0 192.0 87.0 190.0 96.0C188.0 105.0 182.0 96.3 178.0 96.0C174.0 95.7 170.0 94.0 166.0 94.0C162.0 94.0 157.3 96.7 154.0 96.0C150.7 95.3 147.7 93.0 146.0 90.0C144.3 87.0 144.0 82.0 144.0 78.0C144.0 74.0 146.2 69.7 146.0 66.0C145.8 62.3 143.3 59.3 143.0 56.0C142.7 52.7 140.8 48.0 144.0 46.0Z" fill="#2b2bff"/>
<path d="M130.0 96.0C132.7 92.3 139.3 93.4 144.0 93.6C148.7 93.8 153.7 96.8 158.0 97.0C162.3 97.2 165.9 95.2 170.0 95.0C174.1 94.8 179.3 95.8 182.6 96.0C185.9 96.2 188.8 92.3 190.0 96.0C191.2 99.7 191.7 113.8 190.0 118.0C188.3 122.2 184.0 120.8 180.0 121.0C176.0 121.2 171.0 119.0 166.0 119.0C161.0 119.0 155.0 120.2 150.0 121.0C145.0 121.8 139.7 124.8 136.0 124.0C132.3 123.2 129.0 120.7 128.0 116.0C127.0 111.3 127.3 99.7 130.0 96.0Z" fill="#0000ff"/>
<path d="M148.0 71.0C149.5 69.0 153.7 68.5 156.0 69.0C158.3 69.5 161.0 71.5 162.0 74.0C163.0 76.5 162.8 81.3 162.0 84.0C161.2 86.7 158.8 89.2 157.0 90.0C155.2 90.8 152.7 90.5 151.0 89.0C149.3 87.5 147.5 84.0 147.0 81.0C146.5 78.0 146.5 73.0 148.0 71.0Z" fill="#5555ff"/>
<path d="M168.0 58.0C169.5 56.0 173.8 55.3 176.0 56.0C178.2 56.7 180.3 59.0 181.0 62.0C181.7 65.0 181.0 70.7 180.0 74.0C179.0 77.3 176.8 81.3 175.0 82.0C173.2 82.7 170.3 80.3 169.0 78.0C167.7 75.7 167.2 71.3 167.0 68.0C166.8 64.7 166.5 60.0 168.0 58.0Z" fill="#5555ff"/>
<path d="M150.0 49.0C151.0 47.3 156.0 47.1 158.0 47.6C160.0 48.1 161.8 50.3 162.0 52.0C162.2 53.7 160.7 57.0 159.0 58.0C157.3 59.0 153.5 59.5 152.0 58.0C150.5 56.5 149.0 50.7 150.0 49.0Z" fill="#5555ff"/>
<path d="M92.0 57.0C92.8 55.9 94.8 54.7 96.0 55.0C97.2 55.3 98.7 57.5 99.0 59.0C99.3 60.5 98.8 63.0 98.0 64.0C97.2 65.0 95.1 65.4 94.0 65.0C92.9 64.6 91.7 62.9 91.4 61.6C91.1 60.3 91.2 58.1 92.0 57.0Z" fill="#5555ff"/>
<path d="M93.6 58.4C94.1 57.7 95.6 57.3 96.2 57.6C96.8 57.9 97.5 59.5 97.4 60.4C97.3 61.3 96.1 62.8 95.4 63.0C94.7 63.2 93.7 62.4 93.4 61.6C93.1 60.8 93.1 59.1 93.6 58.4Z" fill="#8080ff"/>
<path d="M95.0 75.0C95.9 73.2 98.0 70.8 100.0 70.0C102.0 69.2 105.5 69.0 107.0 70.0C108.5 71.0 109.3 73.8 109.0 76.0C108.7 78.2 106.8 81.5 105.0 83.0C103.2 84.5 99.7 85.3 98.0 85.0C96.3 84.7 95.1 82.7 94.6 81.0C94.1 79.3 94.1 76.8 95.0 75.0Z" fill="#5555ff"/>
<path d="M97.4 76.0C98.1 74.6 100.6 72.8 102.0 72.4C103.4 72.0 105.3 72.7 106.0 73.6C106.7 74.5 106.7 76.7 106.0 78.0C105.3 79.3 103.3 81.1 102.0 81.6C100.7 82.1 98.8 81.9 98.0 81.0C97.2 80.1 96.7 77.4 97.4 76.0Z" fill="#8080ff"/>
<path d="M99.4 77.0C100.0 76.2 102.1 74.5 103.0 74.4C103.9 74.3 104.8 75.5 104.6 76.4C104.4 77.3 102.8 79.1 102.0 79.6C101.2 80.1 100.0 79.8 99.6 79.4C99.2 79.0 98.8 77.8 99.4 77.0Z" fill="#aaaaff"/>
<path d="M25.0 48.0C27.0 20.3 33.3 49.0 37.0 50.0C40.7 51.0 44.7 52.0 47.0 54.0C49.3 56.0 50.7 59.3 51.0 62.0C51.3 64.7 49.0 67.0 49.0 70.0C49.0 73.0 49.7 77.0 51.0 80.0C52.3 83.0 54.7 86.0 57.0 88.0C59.3 90.0 62.7 92.0 65.0 92.0C67.3 92.0 69.2 90.0 71.0 88.0C72.8 86.0 74.0 80.8 76.0 80.0C78.0 79.2 81.5 81.3 83.0 83.0C84.5 84.7 83.7 87.8 85.0 90.0C86.3 92.2 88.3 94.3 91.0 96.0C93.7 97.7 98.0 98.3 101.0 100.0C104.0 101.7 107.0 103.7 109.0 106.0C111.0 108.3 112.7 111.3 113.0 114.0C113.3 116.7 112.5 120.0 111.0 122.0C109.5 124.0 105.4 123.0 104.0 126.0C102.6 129.0 102.6 135.3 102.6 140.0C102.6 144.7 103.6 149.7 104.0 154.0C104.4 158.3 104.2 162.7 105.0 166.0C105.8 169.3 107.3 171.9 109.0 174.0C110.7 176.1 112.8 177.4 115.0 178.4C117.2 179.4 119.5 179.6 122.0 180.0C124.5 180.4 127.7 181.3 130.0 181.0C132.3 180.7 134.3 179.5 136.0 178.0C137.7 176.5 138.3 174.7 140.0 172.0C141.7 169.3 143.7 165.0 146.0 162.0C148.3 159.0 151.3 156.3 154.0 154.0C156.7 151.7 159.0 150.0 162.0 148.0C165.0 146.0 168.6 144.3 172.0 142.0C175.4 139.7 179.6 136.0 182.6 134.0C185.6 132.0 188.8 116.3 190.0 130.0C191.2 143.7 217.5 201.7 190.0 216.0C162.5 230.3 52.5 244.0 25.0 216.0C-2.5 188.0 23.0 75.7 25.0 48.0Z" fill="#5555ff"/>
<path d="M25.0 130.0C27.0 115.3 32.7 127.3 37.0 128.0C41.3 128.7 47.3 131.3 51.0 134.0C54.7 136.7 57.3 140.3 59.0 144.0C60.7 147.7 60.0 152.0 61.0 156.0C62.0 160.0 63.0 164.3 65.0 168.0C67.0 171.7 70.0 175.7 73.0 178.0C76.0 180.3 79.7 181.7 83.0 182.0C86.3 182.3 90.0 179.3 93.0 180.0C96.0 180.7 99.2 183.0 101.0 186.0C102.8 189.0 103.3 194.3 104.0 198.0C104.7 201.7 104.2 205.0 105.0 208.0C105.8 211.0 122.3 214.7 109.0 216.0C95.7 217.3 39.0 230.3 25.0 216.0C11.0 201.7 23.0 144.7 25.0 130.0Z" fill="#8080ff"/>
<path d="M29.0 96.0C30.3 91.9 36.0 93.8 39.0 93.6C42.0 93.4 44.3 93.6 47.0 95.0C49.7 96.4 54.0 98.8 55.0 102.0C56.0 105.2 54.7 111.0 53.0 114.0C51.3 117.0 48.7 119.3 45.0 120.0C41.3 120.7 33.7 122.0 31.0 118.0C28.3 114.0 27.7 100.1 29.0 96.0Z" fill="#8080ff"/>
<path d="M31.0 68.0C32.3 65.7 36.7 65.3 39.0 66.0C41.3 66.7 44.0 69.5 45.0 72.0C46.0 74.5 46.3 78.8 45.0 81.0C43.7 83.2 39.3 85.2 37.0 85.0C34.7 84.8 32.0 82.8 31.0 80.0C30.0 77.2 29.7 70.3 31.0 68.0Z" fill="#8080ff"/>
<path d="M39.0 57.0C40.2 55.7 44.3 54.5 46.0 55.0C47.7 55.5 48.8 58.0 49.0 60.0C49.2 62.0 48.2 65.7 47.0 67.0C45.8 68.3 43.4 68.7 42.0 68.0C40.6 67.3 39.1 64.8 38.6 63.0C38.1 61.2 37.8 58.3 39.0 57.0Z" fill="#8080ff"/>
<path d="M71.0 141.0C72.5 139.5 77.2 138.8 79.0 140.0C80.8 141.2 82.0 145.5 82.0 148.0C82.0 150.5 80.5 153.7 79.0 155.0C77.5 156.3 74.5 157.0 73.0 156.0C71.5 155.0 70.3 151.5 70.0 149.0C69.7 146.5 69.5 142.5 71.0 141.0Z" fill="#8080ff"/>
<path d="M85.0 128.0C85.7 126.0 88.7 124.5 91.0 124.0C93.3 123.5 97.3 123.7 99.0 125.0C100.7 126.3 101.7 129.8 101.0 132.0C100.3 134.2 97.3 137.3 95.0 138.0C92.7 138.7 88.7 137.7 87.0 136.0C85.3 134.3 84.3 130.0 85.0 128.0Z" fill="#8080ff"/>
<path d="M25.0 140.0C26.7 127.2 31.7 138.3 35.0 139.0C38.3 139.7 42.0 141.8 45.0 144.0C48.0 146.2 51.3 149.0 53.0 152.0C54.7 155.0 54.0 158.7 55.0 162.0C56.0 165.3 57.0 169.0 59.0 172.0C61.0 175.0 64.0 178.0 67.0 180.0C70.0 182.0 73.3 183.5 77.0 184.0C80.7 184.5 85.7 182.3 89.0 183.0C92.3 183.7 95.0 185.5 97.0 188.0C99.0 190.5 100.7 194.7 101.0 198.0C101.3 201.3 100.3 205.0 99.0 208.0C97.7 211.0 105.3 214.7 93.0 216.0C80.7 217.3 36.3 228.7 25.0 216.0C13.7 203.3 23.3 152.8 25.0 140.0Z" fill="#aaaaff"/>
<path d="M32.0 99.0C33.1 97.1 37.0 96.1 39.0 96.4C41.0 96.7 43.2 99.0 44.0 101.0C44.8 103.0 44.9 106.7 44.0 108.4C43.1 110.1 40.5 111.1 38.6 111.0C36.7 110.9 33.7 109.6 32.6 107.6C31.5 105.6 30.9 100.9 32.0 99.0Z" fill="#aaaaff"/>
<path d="M48.0 98.0C48.6 96.2 51.5 96.2 52.6 97.0C53.7 97.8 54.6 101.0 54.6 103.0C54.6 105.0 53.5 108.2 52.6 109.0C51.7 109.8 49.8 109.8 49.0 108.0C48.2 106.2 47.4 99.8 48.0 98.0Z" fill="#aaaaff"/>
<path d="M34.0 71.0C34.9 69.7 38.0 69.1 39.4 69.6C40.8 70.1 42.2 72.3 42.6 74.0C43.0 75.7 42.7 78.7 41.8 80.0C40.9 81.3 38.3 82.0 37.0 81.6C35.7 81.2 34.3 79.4 33.8 77.6C33.3 75.8 33.1 72.3 34.0 71.0Z" fill="#aaaaff"/>
<path d="M87.4 127.6C88.3 126.5 92.3 126.0 94.0 126.4C95.7 126.8 97.4 128.7 97.4 130.0C97.4 131.3 95.5 133.9 94.0 134.4C92.5 134.9 89.7 134.1 88.6 133.0C87.5 131.9 86.5 128.7 87.4 127.6Z" fill="#aaaaff"/>
<path d="M89.4 129.0C90.1 128.5 92.5 128.1 93.4 128.4C94.3 128.7 95.2 130.2 95.0 131.0C94.8 131.8 92.9 132.9 92.0 133.0C91.1 133.1 89.8 132.3 89.4 131.6C89.0 130.9 88.7 129.5 89.4 129.0Z" fill="#d4d4ff"/>
<path d="M57.0 78.0C58.7 76.5 62.3 76.5 65.0 77.0C67.7 77.5 71.8 78.8 73.0 81.0C74.2 83.2 72.7 86.5 72.2 90.0C71.7 93.5 70.7 98.0 69.8 102.0C68.9 106.0 67.8 110.3 67.0 114.0C66.2 117.7 67.0 122.3 65.0 124.0C63.0 125.7 56.3 126.3 55.0 124.0C53.7 121.7 56.5 114.7 57.0 110.0C57.5 105.3 58.3 100.0 58.0 96.0C57.7 92.0 55.2 89.0 55.0 86.0C54.8 83.0 55.3 79.5 57.0 78.0Z" fill="#2b2bff"/>
<path d="M75.0 79.0C76.3 76.5 79.7 77.2 80.6 79.0C81.5 80.8 80.6 86.2 80.2 90.0C79.8 93.8 78.9 98.0 78.2 102.0C77.5 106.0 76.7 110.3 76.2 114.0C75.7 117.7 76.5 122.3 75.0 124.0C73.5 125.7 67.9 126.3 67.0 124.0C66.1 121.7 68.5 115.0 69.4 110.0C70.3 105.0 71.7 99.2 72.6 94.0C73.5 88.8 73.7 81.5 75.0 79.0Z" fill="#8080ff"/>
<path d="M77.0 81.6C77.7 79.5 78.5 79.5 78.6 81.6C78.7 83.7 78.0 89.9 77.4 94.0C76.8 98.1 75.7 102.0 75.0 106.0C74.3 110.0 73.5 115.0 73.0 118.0C72.5 121.0 72.6 123.0 72.2 124.0C71.8 125.0 70.7 126.3 70.6 124.0C70.5 121.7 71.1 115.0 71.8 110.0C72.5 105.0 73.7 98.7 74.6 94.0C75.5 89.3 76.3 83.7 77.0 81.6Z" fill="#aaaaff"/>
<path d="M28.4 144.0C30.1 142.7 34.7 142.3 37.0 143.0C39.3 143.7 41.7 146.2 42.0 148.0C42.3 149.8 40.8 152.8 39.0 154.0C37.2 155.2 33.0 155.5 31.0 155.0C29.0 154.5 27.4 152.8 27.0 151.0C26.6 149.2 26.7 145.3 28.4 144.0Z" fill="#d4d4ff"/>
<path d="M45.0 161.0C46.3 158.8 50.3 158.2 52.0 159.0C53.7 159.8 54.7 163.2 55.0 166.0C55.3 168.8 55.2 173.7 54.0 176.0C52.8 178.3 49.7 180.7 48.0 180.0C46.3 179.3 44.5 175.2 44.0 172.0C43.5 168.8 43.7 163.2 45.0 161.0Z" fill="#d4d4ff"/>
<path d="M31.0 185.0C33.8 183.3 40.5 181.5 45.0 182.0C49.5 182.5 55.0 185.3 58.0 188.0C61.0 190.7 62.7 194.5 63.0 198.0C63.3 201.5 61.3 206.0 60.0 209.0C58.7 212.0 60.2 214.8 55.0 216.0C49.8 217.2 33.4 220.0 29.0 216.0C24.6 212.0 28.1 197.2 28.4 192.0C28.7 186.8 28.2 186.7 31.0 185.0Z" fill="#d4d4ff"/>
<path d="M84.0 183.6C85.0 182.4 90.0 181.7 92.0 182.0C94.0 182.3 95.8 184.3 96.0 185.6C96.2 186.9 94.7 189.0 93.0 189.6C91.3 190.2 87.5 190.0 86.0 189.0C84.5 188.0 83.0 184.8 84.0 183.6Z" fill="#d4d4ff"/>
<path d="M62.6 167.6C63.2 166.3 66.5 165.5 67.4 166.4C68.3 167.3 68.8 171.7 68.2 173.0C67.6 174.3 64.9 175.3 64.0 174.4C63.1 173.5 62.0 168.9 62.6 167.6Z" fill="#d4d4ff"/>
<path d="M28.4 129.0C30.1 128.3 37.1 128.5 39.0 129.0C40.9 129.5 41.7 131.3 40.0 132.0C38.3 132.7 30.9 133.5 29.0 133.0C27.1 132.5 26.7 129.7 28.4 129.0Z" fill="#d4d4ff"/>
<path d="M37.0 194.0C38.8 191.8 44.0 190.5 47.0 191.0C50.0 191.5 53.7 194.5 55.0 197.0C56.3 199.5 56.0 203.3 55.0 206.0C54.0 208.7 51.5 211.8 49.0 213.0C46.5 214.2 42.2 214.5 40.0 213.0C37.8 211.5 36.5 207.2 36.0 204.0C35.5 200.8 35.2 196.2 37.0 194.0Z" fill="#fffdfd"/>
<path d="M86.6 185.0C87.1 184.4 90.3 183.8 91.4 184.0C92.5 184.2 93.5 185.8 93.0 186.4C92.5 187.0 89.7 187.8 88.6 187.6C87.5 187.4 86.1 185.6 86.6 185.0Z" fill="#fffdfd"/>
<path d="M126.0 134.0C126.9 131.0 130.2 130.0 133.0 130.0C135.8 130.0 140.7 131.7 143.0 134.0C145.3 136.3 146.7 140.0 147.0 144.0C147.3 148.0 146.3 153.7 145.0 158.0C143.7 162.3 141.3 166.3 139.0 170.0C136.7 173.7 133.3 178.0 131.0 180.0C128.7 182.0 126.3 183.0 125.0 182.0C123.7 181.0 122.8 177.3 123.0 174.0C123.2 170.7 125.3 166.3 126.0 162.0C126.7 157.7 127.4 152.7 127.4 148.0C127.4 143.3 125.1 137.0 126.0 134.0Z" fill="#5555ff"/>
<path d="M135.2 212.5C135.6 211.6 136.7 208.7 137.4 207.0C138.1 205.3 138.8 204.5 139.6 202.4C140.4 200.3 140.9 196.8 142.0 194.4C143.1 192.0 144.8 190.4 146.0 188.0C147.2 185.6 148.3 182.3 149.2 180.0C150.1 177.7 150.5 175.7 151.6 174.4C152.7 173.1 154.1 172.5 155.6 172.0C157.1 171.5 159.2 171.9 160.4 171.2C161.6 170.5 162.1 169.2 162.8 168.0C163.5 166.8 163.2 165.1 164.4 164.0C165.6 162.9 168.3 162.8 170.0 161.6C171.7 160.4 173.2 158.5 174.8 156.8C176.4 155.1 178.2 152.9 179.6 151.2C181.0 149.5 182.6 147.5 183.2 146.8" fill="none" stroke="#8080ff" stroke-width="11.00" stroke-linecap="round" stroke-linejoin="round"/>
<path d="M135.2 212.5C135.6 211.6 136.7 208.7 137.4 207.0C138.1 205.3 138.8 204.5 139.6 202.4C140.4 200.3 140.9 196.8 142.0 194.4C143.1 192.0 144.8 190.4 146.0 188.0C147.2 185.6 148.3 182.3 149.2 180.0C150.1 177.7 150.5 175.7 151.6 174.4C152.7 173.1 154.1 172.5 155.6 172.0C157.1 171.5 159.2 171.9 160.4 171.2C161.6 170.5 162.1 169.2 162.8 168.0C163.5 166.8 163.2 165.1 164.4 164.0C165.6 162.9 168.3 162.8 170.0 161.6C171.7 160.4 173.2 158.5 174.8 156.8C176.4 155.1 178.2 152.9 179.6 151.2C181.0 149.5 182.6 147.5 183.2 146.8" fill="none" stroke="#aaaaff" stroke-width="7.00" stroke-linecap="round" stroke-linejoin="round"/>
<path d="M135.2 212.5C135.6 211.6 136.7 208.7 137.4 207.0C138.1 205.3 138.8 204.5 139.6 202.4C140.4 200.3 140.9 196.8 142.0 194.4C143.1 192.0 144.8 190.4 146.0 188.0C147.2 185.6 148.3 182.3 149.2 180.0C150.1 177.7 150.5 175.7 151.6 174.4C152.7 173.1 154.1 172.5 155.6 172.0C157.1 171.5 159.2 171.9 160.4 171.2C161.6 170.5 162.1 169.2 162.8 168.0C163.5 166.8 163.2 165.1 164.4 164.0C165.6 162.9 168.3 162.8 170.0 161.6C171.7 160.4 173.2 158.5 174.8 156.8C176.4 155.1 178.2 152.9 179.6 151.2C181.0 149.5 182.6 147.5 183.2 146.8" fill="none" stroke="#d4d4ff" stroke-width="3.80" stroke-linecap="round" stroke-linejoin="round"/>
<path d="M135.2 212.5C135.6 211.6 136.7 208.7 137.4 207.0C138.1 205.3 138.8 204.5 139.6 202.4C140.4 200.3 140.9 196.8 142.0 194.4C143.1 192.0 144.8 190.4 146.0 188.0C147.2 185.6 148.3 182.3 149.2 180.0C150.1 177.7 150.5 175.7 151.6 174.4C152.7 173.1 154.1 172.5 155.6 172.0C157.1 171.5 159.2 171.9 160.4 171.2C161.6 170.5 162.1 169.2 162.8 168.0C163.5 166.8 163.2 165.1 164.4 164.0C165.6 162.9 168.3 162.8 170.0 161.6C171.7 160.4 173.2 158.5 174.8 156.8C176.4 155.1 178.2 152.9 179.6 151.2C181.0 149.5 182.6 147.5 183.2 146.8" fill="none" stroke="#fffdfd" stroke-width="1.80" stroke-linecap="round" stroke-linejoin="round"/>
<path d="M135.2 212.5C136.4 210.3 136.7 208.7 137.4 207.0C138.1 205.3 138.8 204.5 139.6 202.4C140.4 200.3 140.9 196.8 142.0 194.4C143.1 192.0 144.8 190.4 146.0 188.0C147.2 185.6 148.3 182.3 149.2 180.0C150.1 177.7 150.5 175.7 151.6 174.4C152.7 173.1 154.1 172.5 155.6 172.0C157.1 171.5 159.2 171.9 160.4 171.2C161.6 170.5 162.1 169.2 162.8 168.0C163.5 166.8 163.2 165.1 164.4 164.0C165.6 162.9 168.3 162.8 170.0 161.6C171.7 160.4 173.2 158.5 174.8 156.8C176.4 155.1 178.2 152.9 179.6 151.2C181.0 149.5 181.5 148.7 183.2 146.8C184.9 144.9 188.9 127.8 190.0 140.0C191.1 152.2 200.0 206.7 190.0 220.0C180.0 233.3 139.1 221.2 130.0 220.0C120.9 218.8 134.0 214.7 135.2 212.5Z" fill="#fde8e4"/>
<path d="M158.0 152.0C159.0 150.3 163.0 149.7 165.0 150.0C167.0 150.3 169.2 152.3 170.0 154.0C170.8 155.7 171.0 158.5 170.0 160.0C169.0 161.5 165.8 163.0 164.0 163.0C162.2 163.0 160.0 161.8 159.0 160.0C158.0 158.2 157.0 153.7 158.0 152.0Z" fill="#2b2bff"/>
<path d="M160.4 154.0C161.2 153.1 163.7 152.1 165.0 152.4C166.3 152.7 167.7 154.4 168.0 155.6C168.3 156.8 167.8 158.7 167.0 159.6C166.2 160.5 164.2 161.3 163.0 161.0C161.8 160.7 160.4 159.2 160.0 158.0C159.6 156.8 159.6 154.9 160.4 154.0Z" fill="#0000ff"/>
<path d="M65.0 36.4C65.0 37.7 65.1 41.5 65.2 44.0C65.3 46.5 65.5 50.3 65.6 51.6" fill="none" stroke="#8080ff" stroke-width="6.20" stroke-linecap="round" stroke-linejoin="round"/>
<path d="M65.0 36.4C65.0 37.7 65.1 41.5 65.2 44.0C65.3 46.5 65.5 50.3 65.6 51.6" fill="none" stroke="#aaaaff" stroke-width="4.60" stroke-linecap="round" stroke-linejoin="round"/>
<path d="M65.0 36.4C65.0 37.7 65.1 41.5 65.2 44.0C65.3 46.5 65.5 50.3 65.6 51.6" fill="none" stroke="#d4d4ff" stroke-width="2.80" stroke-linecap="round" stroke-linejoin="round"/>
<path d="M65.0 39.0 L65.4 50.0" fill="none" stroke="#ececff" stroke-width="1.20" stroke-linecap="round" stroke-linejoin="round"/>
<path d="M65.6 50.8C65.9 51.8 66.6 54.7 67.2 56.8C67.8 58.9 68.4 61.7 69.2 63.6C70.0 65.5 71.0 67.1 72.0 68.4C73.0 69.7 74.3 70.1 75.2 71.6C76.1 73.1 76.9 76.3 77.2 77.2" fill="none" stroke="#8080ff" stroke-width="7.40" stroke-linecap="round" stroke-linejoin="round"/>
<path d="M65.6 50.8C65.9 51.8 66.6 54.7 67.2 56.8C67.8 58.9 68.4 61.7 69.2 63.6C70.0 65.5 71.0 67.1 72.0 68.4C73.0 69.7 74.3 70.1 75.2 71.6C76.1 73.1 76.9 76.3 77.2 77.2" fill="none" stroke="#d4d4ff" stroke-width="6.00" stroke-linecap="round" stroke-linejoin="round"/>
<path d="M65.6 50.8C65.9 51.8 66.6 54.7 67.2 56.8C67.8 58.9 68.4 61.7 69.2 63.6C70.0 65.5 71.0 67.1 72.0 68.4C73.0 69.7 74.3 70.1 75.2 71.6C76.1 73.1 76.9 76.3 77.2 77.2" fill="none" stroke="#ececff" stroke-width="4.00" stroke-linecap="round" stroke-linejoin="round"/>
<path d="M71.0 67.0C71.7 67.8 74.2 70.0 75.2 71.6C76.2 73.2 76.9 75.9 77.2 76.8" fill="none" stroke="#ffffff" stroke-width="3.20" stroke-linecap="round" stroke-linejoin="round"/>
<line x1="58.6" y1="33.5" x2="58.6" y2="211.8" stroke="#000" stroke-opacity="0.16" stroke-width="0.5"/>
<line x1="87.8" y1="33.5" x2="87.8" y2="211.8" stroke="#000" stroke-opacity="0.16" stroke-width="0.5"/>
<line x1="117.0" y1="33.5" x2="117.0" y2="211.8" stroke="#000" stroke-opacity="0.16" stroke-width="0.5"/>
<line x1="146.3" y1="33.5" x2="146.3" y2="211.8" stroke="#000" stroke-opacity="0.16" stroke-width="0.5"/>
<line x1="175.5" y1="33.5" x2="175.5" y2="211.8" stroke="#000" stroke-opacity="0.16" stroke-width="0.5"/>
<line x1="28.5" y1="63.9" x2="182.8" y2="63.9" stroke="#000" stroke-opacity="0.16" stroke-width="0.5"/>
<line x1="28.5" y1="93.3" x2="182.8" y2="93.3" stroke="#000" stroke-opacity="0.16" stroke-width="0.5"/>
<line x1="28.5" y1="122.8" x2="182.8" y2="122.8" stroke="#000" stroke-opacity="0.16" stroke-width="0.5"/>
<line x1="28.5" y1="152.2" x2="182.8" y2="152.2" stroke="#000" stroke-opacity="0.16" stroke-width="0.5"/>
<line x1="28.5" y1="181.7" x2="182.8" y2="181.7" stroke="#000" stroke-opacity="0.16" stroke-width="0.5"/>
<path d="M28.5 42.5C29.3 43.7 31.7 47.2 33.1 49.5C34.5 51.8 35.8 54.0 37.1 56.5C38.4 59.0 39.6 61.7 41.1 64.5C42.6 67.3 44.9 70.6 46.1 73.1C47.3 75.6 47.3 76.8 48.1 79.5C48.9 82.2 51.2 87.5 50.7 89.5C50.2 91.5 47.5 90.6 45.1 91.5C42.7 92.4 38.1 94.1 36.1 95.1C34.1 96.1 34.4 95.7 33.1 97.5C31.8 99.3 29.3 104.5 28.5 105.9" fill="none" stroke="#222" stroke-width="0.5"/>
<path d="M46.1 73.1C47.6 74.0 53.3 76.8 55.1 78.5C56.9 80.2 55.6 82.3 57.1 83.5C58.6 84.7 61.1 86.0 64.1 85.5C67.1 85.0 71.5 82.2 75.1 80.5C78.7 78.8 83.8 76.3 85.5 75.5" fill="none" stroke="#222" stroke-width="0.5"/>
<path d="M78.1 33.9C78.4 35.5 79.8 40.2 80.1 43.5C80.4 46.8 79.6 50.5 80.1 53.5C80.6 56.5 82.3 59.0 83.1 61.5C83.9 64.0 84.7 66.2 85.1 68.5C85.5 70.8 85.0 73.0 85.5 75.5C86.0 78.0 86.5 80.8 88.1 83.5C89.7 86.2 93.7 88.8 95.1 91.5C96.5 94.2 95.7 96.7 96.7 99.5C97.7 102.3 99.0 105.5 101.1 108.5C103.2 111.5 107.8 116.0 109.1 117.5" fill="none" stroke="#222" stroke-width="0.5"/>
<path d="M109.1 117.5C108.9 118.2 108.8 119.8 108.1 121.5C107.4 123.2 106.1 125.3 105.1 127.5C104.1 129.7 103.8 132.7 102.1 134.5C100.4 136.3 97.9 137.3 95.1 138.5C92.3 139.7 88.3 140.8 85.1 141.5C81.9 142.2 78.9 142.8 76.1 142.5C73.3 142.2 70.4 141.1 68.1 139.9C65.8 138.7 64.1 137.1 62.1 135.5C60.1 133.9 61.7 131.4 56.1 130.5C50.5 129.6 33.1 130.2 28.5 130.1" fill="none" stroke="#222" stroke-width="0.5"/>
<path d="M109.1 117.5C109.6 118.2 110.1 119.2 112.1 121.5C114.1 123.8 118.8 127.8 121.1 131.5C123.4 135.2 125.1 139.5 126.1 143.5C127.1 147.5 127.3 151.5 127.1 155.5C126.9 159.5 125.9 164.2 125.1 167.5C124.3 170.8 123.3 173.8 122.1 175.5C120.9 177.2 119.6 177.7 118.1 177.9C116.6 178.1 113.9 176.7 113.1 176.5" fill="none" stroke="#222" stroke-width="0.5"/>
<path d="M105.1 127.5C104.7 129.5 103.0 135.5 102.7 139.5C102.4 143.5 102.7 147.8 103.1 151.5C103.5 155.2 104.1 158.5 105.1 161.5C106.1 164.5 107.8 167.0 109.1 169.5C110.4 172.0 112.4 175.3 113.1 176.5" fill="none" stroke="#222" stroke-width="0.5"/>
<path d="M28.5 209.5C29.6 208.2 32.0 204.5 35.1 201.5C38.2 198.5 43.4 194.5 47.1 191.5C50.8 188.5 54.1 185.7 57.1 183.5C60.1 181.3 62.1 179.8 65.1 178.5C68.1 177.2 71.4 176.4 75.1 175.9C78.8 175.4 83.9 175.2 87.1 175.5C90.3 175.8 91.9 177.2 94.1 177.9C96.3 178.6 96.9 179.7 100.1 179.5C103.3 179.3 110.9 177.0 113.1 176.5" fill="none" stroke="#222" stroke-width="0.5"/>
<path d="M100.1 179.5C100.6 180.8 102.1 184.7 103.1 187.5C104.1 190.3 104.8 193.8 106.1 196.5C107.4 199.2 109.4 201.3 111.1 203.5C112.8 205.7 114.9 208.1 116.1 209.5C117.3 210.9 117.8 211.5 118.1 211.9" fill="none" stroke="#222" stroke-width="0.5"/>
<path d="M115.1 207.5C116.7 206.3 121.9 203.2 124.5 200.5C127.1 197.8 128.8 194.2 130.5 191.5C132.2 188.8 133.5 187.1 135.0 184.5C136.5 181.9 138.4 178.7 139.6 176.0C140.8 173.3 141.1 171.2 142.2 168.6C143.3 166.0 144.2 163.5 146.2 160.6C148.2 157.7 151.4 154.1 154.0 151.4C156.6 148.7 159.2 146.9 162.0 144.6C164.8 142.3 167.1 140.1 170.5 137.6C173.9 135.1 180.7 130.8 182.7 129.5" fill="none" stroke="#222" stroke-width="0.5"/>
<path d="M104.7 33.9 L114.1 47.5 L135.5 54.1 L162.1 37.9 L182.7 33.9" fill="none" stroke="#222" stroke-width="0.5"/>
<path d="M135.2 212.5C135.6 211.6 136.7 208.7 137.4 207.0C138.1 205.3 138.8 204.5 139.6 202.4C140.4 200.3 140.9 196.8 142.0 194.4C143.1 192.0 144.8 190.4 146.0 188.0C147.2 185.6 148.3 182.3 149.2 180.0C150.1 177.7 150.5 175.7 151.6 174.4C152.7 173.1 154.1 172.5 155.6 172.0C157.1 171.5 159.2 171.9 160.4 171.2C161.6 170.5 162.1 169.2 162.8 168.0C163.5 166.8 163.2 165.1 164.4 164.0C165.6 162.9 168.3 162.8 170.0 161.6C171.7 160.4 173.2 158.5 174.8 156.8C176.4 155.1 178.2 152.9 179.6 151.2C181.0 149.5 182.6 147.5 183.2 146.8" fill="none" stroke="#111" stroke-width="1.0"/>
<path d="M162.6 165.8L167.6 160.6M163.4 161.2L167.4 165.6M162.2 163.6L168.6 162.8M165.2 160.2L165.4 166.4M168.6 162.8L170.6 161.0" fill="none" stroke="#111" stroke-width="0.55"/>
<path d="M138.6 203.4L140.4 200.6L139.4 199.4L141.2 198.2M141.6 196.0L143.0 194.6L142.6 193.0L144.0 191.4M146.6 187.0L147.6 185.4M161.0 171.4L165.4 171.8L169.4 167.4L171.6 163.4" fill="none" stroke="#111" stroke-width="0.5"/>
<polygon points="90.9,128.0 96.1,128.0 93.5,123.2" fill="#222"/>
<polygon points="91.6,177.3 96.8,177.3 94.2,182.1" fill="#222"/>
</g>
<rect x="28.5" y="33.5" width="154.3" height="178.3" fill="none" stroke="#333" stroke-width="0.6"/>
<text x="5.2" y="10.2" class="lab">b)</text>
<text x="28.90 35.10 39.33 45.62 48.47 54.80 60.45 64.48 70.80 77.33 80.60 86.90 93.42 98.78 105.07 107.92 114.44 118.47 124.79 128.06 133.71 140.23 146.53 153.04 159.57 165.89 169.16 172.02" y="7.9" class="ttl">Projected absolute change in</text>
<text x="28.90 38.91 45.24 51.54 58.05 61.32 67.85 70.70 77.22 81.44 87.96 94.26 97.12 100.38 104.61 110.91 117.42 123.95" y="19.2" class="ttl">mean diurnal range</text>
<text x="28.90 35.95 38.81 45.10 48.37 54.91 58.17 62.18 67.32 74.50" y="30.7" class="ttl">Bio 2 [°C]</text>
<text x="18.26 24.05 29.84 34.39" y="221.9" class="tk">34°E</text>
<text x="43.22 49.01 54.80 57.69 63.48 68.03" y="221.9" class="tk">35.5°E</text>
<text x="76.86 82.65 88.44 92.99" y="221.9" class="tk">37°E</text>
<text x="101.72 107.51 113.30 116.19 121.98 126.53" y="221.9" class="tk">38.5°E</text>
<text x="135.26 141.05 146.84 151.39" y="221.9" class="tk">40°E</text>
<text x="160.02 165.81 171.60 174.49 180.28 184.83" y="221.9" class="tk">41.5°E</text>
<polygon points="192.1,45.1 200.7,45.1 196.4,37.3" fill="#ffe9e6"/>
<polygon points="192.1,200.9 200.7,200.9 196.4,208.4" fill="#00004c"/>
<rect x="192.1" y="187.82" width="8.6" height="13.18" fill="#00006a"/>
<rect x="192.1" y="174.83" width="8.6" height="13.18" fill="#000088"/>
<rect x="192.1" y="161.85" width="8.6" height="13.18" fill="#0000a6"/>
<rect x="192.1" y="148.87" width="8.6" height="13.18" fill="#0000c4"/>
<rect x="192.1" y="135.88" width="8.6" height="13.18" fill="#0000e1"/>
<rect x="192.1" y="122.90" width="8.6" height="13.18" fill="#0000ff"/>
<rect x="192.1" y="109.92" width="8.6" height="13.18" fill="#2b2bff"/>
<rect x="192.1" y="96.93" width="8.6" height="13.18" fill="#5555ff"/>
<rect x="192.1" y="83.95" width="8.6" height="13.18" fill="#8080ff"/>
<rect x="192.1" y="70.97" width="8.6" height="13.18" fill="#aaaaff"/>
<rect x="192.1" y="57.98" width="8.6" height="13.18" fill="#d4d4ff"/>
<rect x="192.1" y="45.00" width="8.6" height="13.18" fill="#fffdfd"/>
<polygon points="192.1,45.1 196.4,37.3 200.7,45.1 200.7,200.9 196.4,208.4 192.1,200.9" fill="none" stroke="#555" stroke-width="0.5"/>
<line x1="200.7" y1="200.90" x2="202.9" y2="200.90" stroke="#222" stroke-width="0.6"/>
<text x="204.10 211.72 217.51 220.41" y="204.2" class="tk"><tspan class="mn">−</tspan>3.0</text>
<line x1="200.7" y1="174.93" x2="202.9" y2="174.93" stroke="#222" stroke-width="0.6"/>
<text x="204.10 211.72 217.51 220.41" y="178.2" class="tk"><tspan class="mn">−</tspan>2.5</text>
<line x1="200.7" y1="148.97" x2="202.9" y2="148.97" stroke="#222" stroke-width="0.6"/>
<text x="204.10 211.72 217.51 220.41" y="152.3" class="tk"><tspan class="mn">−</tspan>2.0</text>
<line x1="200.7" y1="123.00" x2="202.9" y2="123.00" stroke="#222" stroke-width="0.6"/>
<text x="204.10 211.72 217.51 220.41" y="126.3" class="tk"><tspan class="mn">−</tspan>1.5</text>
<line x1="200.7" y1="97.03" x2="202.9" y2="97.03" stroke="#222" stroke-width="0.6"/>
<text x="204.10 211.72 217.51 220.41" y="100.3" class="tk"><tspan class="mn">−</tspan>1.0</text>
<line x1="200.7" y1="71.07" x2="202.9" y2="71.07" stroke="#222" stroke-width="0.6"/>
<text x="204.10 211.72 217.51 220.41" y="74.4" class="tk"><tspan class="mn">−</tspan>0.5</text>
<line x1="200.7" y1="45.10" x2="202.9" y2="45.10" stroke="#222" stroke-width="0.6"/>
<text x="204.10 209.89 212.78" y="48.4" class="tk">0.0</text>
</g>
<g transform="translate(462.1,0.0)">
<g clip-path="url(#clipmap)">
<rect x="28" y="33" width="156" height="180" fill="#fffdfd"/>
<path d="M89.9 30.0C108.2 23.3 173.2 14.3 189.9 30.0C206.6 45.7 197.2 108.3 189.9 124.0C182.6 139.7 153.6 126.3 145.9 124.0C138.2 121.7 143.6 114.7 143.9 110.0C144.2 105.3 147.6 99.3 147.9 96.0C148.2 92.7 148.2 91.0 145.9 90.0C143.6 89.0 137.9 90.3 133.9 90.0C129.9 89.7 124.9 89.7 121.9 88.0C118.9 86.3 116.6 83.3 115.9 80.0C115.2 76.7 117.9 71.7 117.9 68.0C117.9 64.3 117.2 60.0 115.9 58.0C114.6 56.0 111.9 55.0 109.9 56.0C107.9 57.0 105.9 60.7 103.9 64.0C101.9 67.3 99.6 73.0 97.9 76.0C96.2 79.0 95.9 81.3 93.9 82.0C91.9 82.7 88.2 82.0 85.9 80.0C83.6 78.0 79.2 78.3 79.9 70.0C80.6 61.7 71.6 36.7 89.9 30.0Z" fill="#ffcdcd"/>
<path d="M118.9 58.0C120.6 55.8 126.1 55.3 129.9 55.0C133.7 54.7 138.7 55.2 141.9 56.0C145.1 56.8 147.9 57.7 148.9 60.0C149.9 62.3 147.7 66.7 147.9 70.0C148.1 73.3 149.9 76.8 149.9 80.0C149.9 83.2 150.2 87.3 147.9 89.0C145.6 90.7 139.9 90.2 135.9 90.0C131.9 89.8 126.9 89.7 123.9 88.0C120.9 86.3 118.6 83.3 117.9 80.0C117.2 76.7 119.7 71.7 119.9 68.0C120.1 64.3 117.2 60.2 118.9 58.0Z" fill="#fffdfd"/>
<path d="M161.9 52.0C163.1 50.3 168.9 49.8 171.9 50.0C174.9 50.2 178.6 51.3 179.9 53.0C181.2 54.7 181.2 58.3 179.9 60.0C178.6 61.7 174.4 63.0 171.9 63.0C169.4 63.0 166.6 61.8 164.9 60.0C163.2 58.2 160.7 53.7 161.9 52.0Z" fill="#fffdfd"/>
<path d="M163.5 73.0C164.1 71.7 167.1 71.3 167.9 72.4C168.7 73.5 168.9 78.3 168.3 79.6C167.7 80.9 165.1 81.1 164.3 80.0C163.5 78.9 162.9 74.3 163.5 73.0Z" fill="#fffdfd"/>
<path d="M149.9 98.0C151.9 96.2 157.9 94.3 161.9 94.0C165.9 93.7 171.2 94.3 173.9 96.0C176.6 97.7 178.6 101.7 177.9 104.0C177.2 106.3 173.2 109.2 169.9 110.0C166.6 110.8 161.2 109.8 157.9 109.0C154.6 108.2 151.2 106.8 149.9 105.0C148.6 103.2 147.9 99.8 149.9 98.0Z" fill="#fffdfd"/>
<path d="M111.9 30.0C114.4 28.3 126.7 28.7 129.9 30.0C133.1 31.3 131.9 36.0 130.9 38.0C129.9 40.0 126.6 41.7 123.9 42.0C121.2 42.3 116.9 42.0 114.9 40.0C112.9 38.0 109.4 31.7 111.9 30.0Z" fill="#ff9999"/>
<path d="M147.9 47.0C148.4 45.8 153.6 45.3 155.9 45.6C158.2 45.9 161.1 47.9 161.9 49.0C162.7 50.1 162.4 51.7 160.9 52.4C159.4 53.1 155.1 53.9 152.9 53.0C150.7 52.1 147.4 48.2 147.9 47.0Z" fill="#ff9999"/>
<path d="M148.9 56.0C150.1 54.5 155.2 55.3 156.9 57.0C158.6 58.7 158.1 65.0 158.9 66.0C159.7 67.0 160.2 63.7 161.9 63.0C163.6 62.3 167.4 60.8 168.9 62.0C170.4 63.2 171.2 67.7 170.9 70.0C170.6 72.3 168.4 74.8 166.9 76.0C165.4 77.2 162.7 76.3 161.9 77.0C161.1 77.7 160.2 79.7 161.9 80.0C163.6 80.3 169.7 78.2 171.9 79.0C174.1 79.8 175.1 83.2 174.9 85.0C174.7 86.8 173.6 89.1 170.9 90.0C168.2 90.9 162.1 90.7 158.9 90.4C155.7 90.1 153.5 90.1 151.9 88.0C150.3 85.9 149.8 81.7 149.5 78.0C149.2 74.3 150.0 69.7 149.9 66.0C149.8 62.3 147.7 57.5 148.9 56.0Z" fill="#ff9999"/>
<path d="M177.9 66.0C178.5 64.3 181.7 63.3 182.5 65.0C183.3 66.7 183.1 74.3 182.5 76.0C181.9 77.7 179.7 76.7 178.9 75.0C178.1 73.3 177.3 67.7 177.9 66.0Z" fill="#ff9999"/>
<path d="M24.9 50.0C26.2 44.3 30.6 50.3 32.9 52.0C35.2 53.7 36.9 57.0 38.9 60.0C40.9 63.0 43.6 66.7 44.9 70.0C46.2 73.3 47.6 77.3 46.9 80.0C46.2 82.7 43.2 84.8 40.9 86.0C38.6 87.2 35.6 87.0 32.9 87.0C30.2 87.0 26.2 92.2 24.9 86.0C23.6 79.8 23.6 55.7 24.9 50.0Z" fill="#ffcdcd"/>
<path d="M24.9 130.0C26.9 122.8 33.2 128.7 36.9 129.0C40.6 129.3 44.4 129.8 46.9 132.0C49.4 134.2 51.2 138.0 51.9 142.0C52.6 146.0 50.9 151.7 50.9 156.0C50.9 160.3 52.9 164.8 51.9 168.0C50.9 171.2 47.7 173.8 44.9 175.0C42.1 176.2 38.2 175.5 34.9 175.0C31.6 174.5 26.6 179.5 24.9 172.0C23.2 164.5 22.9 137.2 24.9 130.0Z" fill="#ffcdcd"/>
<path d="M27.9 134.0C29.4 129.2 34.1 132.5 36.9 133.0C39.7 133.5 43.2 134.5 44.9 137.0C46.6 139.5 46.9 144.2 46.9 148.0C46.9 151.8 44.9 156.7 44.9 160.0C44.9 163.3 47.6 166.2 46.9 168.0C46.2 169.8 43.2 170.8 40.9 171.0C38.6 171.2 35.1 170.5 32.9 169.0C30.7 167.5 28.7 167.8 27.9 162.0C27.1 156.2 26.4 138.8 27.9 134.0Z" fill="#ff9999"/>
<path d="M32.9 155.0C33.7 154.0 37.4 153.5 38.9 154.0C40.4 154.5 41.9 156.8 41.9 158.0C41.9 159.2 40.2 160.7 38.9 161.0C37.6 161.3 34.9 161.0 33.9 160.0C32.9 159.0 32.1 156.0 32.9 155.0Z" fill="#ff6565"/>
<path d="M24.9 202.0C26.9 199.5 32.9 200.8 36.9 201.0C40.9 201.2 45.9 201.8 48.9 203.0C51.9 204.2 53.6 205.8 54.9 208.0C56.2 210.2 61.9 214.7 56.9 216.0C51.9 217.3 30.2 218.3 24.9 216.0C19.6 213.7 22.9 204.5 24.9 202.0Z" fill="#ffcdcd"/>
<path d="M28.3 182.0C29.0 180.3 33.5 180.0 34.9 181.0C36.3 182.0 37.6 186.3 36.9 188.0C36.2 189.7 32.3 192.0 30.9 191.0C29.5 190.0 27.6 183.7 28.3 182.0Z" fill="#ffcdcd"/>
<path d="M74.9 98.0C76.4 95.0 81.6 94.3 84.9 94.0C88.2 93.7 91.9 95.0 94.9 96.0C97.9 97.0 101.2 97.7 102.9 100.0C104.6 102.3 105.2 107.0 104.9 110.0C104.6 113.0 103.2 116.0 100.9 118.0C98.6 120.0 94.2 121.5 90.9 122.0C87.6 122.5 83.4 122.7 80.9 121.0C78.4 119.3 76.9 115.8 75.9 112.0C74.9 108.2 73.4 101.0 74.9 98.0Z" fill="#ffcdcd"/>
<path d="M60.9 122.0C61.6 120.3 66.1 120.5 67.3 122.0C68.5 123.5 68.6 129.3 67.9 131.0C67.2 132.7 64.1 133.5 62.9 132.0C61.7 130.5 60.2 123.7 60.9 122.0Z" fill="#ff9999"/>
<path d="M79.9 122.0C80.9 120.7 86.1 120.7 87.3 122.0C88.5 123.3 87.9 128.3 86.9 129.6C85.9 130.9 82.5 131.3 81.3 130.0C80.1 128.7 78.9 123.3 79.9 122.0Z" fill="#ffcdcd"/>
<path d="M124.5 66.4C125.4 65.3 129.4 65.1 130.9 65.6C132.4 66.1 133.4 68.4 133.3 69.6C133.2 70.8 131.8 72.5 130.5 73.0C129.2 73.5 126.3 73.5 125.3 72.4C124.3 71.3 123.6 67.5 124.5 66.4Z" fill="#cdcdff"/>
<path d="M136.9 71.0C137.6 69.3 140.8 69.6 141.9 70.6C143.0 71.6 143.3 75.0 143.3 77.0C143.3 79.0 142.8 81.7 141.9 82.4C141.0 83.1 138.7 82.9 137.9 81.0C137.1 79.1 136.2 72.7 136.9 71.0Z" fill="#cdcdff"/>
<path d="M104.9 80.0C106.0 78.3 110.6 77.4 112.9 77.6C115.2 77.8 118.1 79.3 118.9 81.0C119.7 82.7 118.9 86.5 117.9 88.0C116.9 89.5 114.8 90.0 112.9 90.0C111.0 90.0 107.8 89.7 106.5 88.0C105.2 86.3 103.8 81.7 104.9 80.0Z" fill="#cdcdff"/>
<path d="M107.9 82.4C108.2 81.4 112.6 80.6 113.9 81.0C115.2 81.4 116.2 84.0 115.9 85.0C115.6 86.0 113.2 87.4 111.9 87.0C110.6 86.6 107.6 83.4 107.9 82.4Z" fill="#fffdfd"/>
<path d="M104.9 92.0C106.1 90.0 110.6 89.3 112.9 90.0C115.2 90.7 117.2 93.7 118.9 96.0C120.6 98.3 120.9 102.3 122.9 104.0C124.9 105.7 129.1 104.3 130.9 106.0C132.7 107.7 134.2 111.8 133.9 114.0C133.6 116.2 131.4 118.3 128.9 119.0C126.4 119.7 121.9 119.5 118.9 118.0C115.9 116.5 113.1 112.7 110.9 110.0C108.7 107.3 106.9 105.0 105.9 102.0C104.9 99.0 103.7 94.0 104.9 92.0Z" fill="#cdcdff"/>
<path d="M119.9 108.0C120.6 106.9 124.7 106.3 125.9 107.0C127.1 107.7 128.0 110.9 127.3 112.0C126.6 113.1 123.1 114.3 121.9 113.6C120.7 112.9 119.2 109.1 119.9 108.0Z" fill="#fffdfd"/>
<path d="M24.9 89.0C26.6 85.3 31.2 87.5 34.9 88.0C38.6 88.5 43.6 90.0 46.9 92.0C50.2 94.0 53.6 97.0 54.9 100.0C56.2 103.0 56.2 107.5 54.9 110.0C53.6 112.5 50.2 114.3 46.9 115.0C43.6 115.7 38.6 114.8 34.9 114.0C31.2 113.2 26.6 114.2 24.9 110.0C23.2 105.8 23.2 92.7 24.9 89.0Z" fill="#cdcdff"/>
<path d="M31.9 99.0C32.9 97.2 36.7 96.7 38.9 97.0C41.1 97.3 43.9 99.2 44.9 101.0C45.9 102.8 45.9 106.3 44.9 108.0C43.9 109.7 40.9 111.0 38.9 111.0C36.9 111.0 34.1 110.0 32.9 108.0C31.7 106.0 30.9 100.8 31.9 99.0Z" fill="#9999ff"/>
<path d="M50.9 122.0C49.6 122.7 48.9 130.0 48.9 134.0C48.9 138.0 49.9 142.3 50.9 146.0C51.9 149.7 55.2 152.3 54.9 156.0C54.6 159.7 50.6 164.3 48.9 168.0C47.2 171.7 44.9 174.7 44.9 178.0C44.9 181.3 48.6 184.7 48.9 188.0C49.2 191.3 45.9 195.0 46.9 198.0C47.9 201.0 52.9 203.0 54.9 206.0C56.9 209.0 46.2 214.3 58.9 216.0C71.6 217.7 118.6 218.3 130.9 216.0C143.2 213.7 132.9 206.0 132.9 202.0C132.9 198.0 130.6 195.3 130.9 192.0C131.2 188.7 132.9 185.3 134.9 182.0C136.9 178.7 140.9 175.7 142.9 172.0C144.9 168.3 146.6 164.0 146.9 160.0C147.2 156.0 146.6 151.3 144.9 148.0C143.2 144.7 139.6 142.3 136.9 140.0C134.2 137.7 130.9 136.3 128.9 134.0C126.9 131.7 126.2 128.0 124.9 126.0C123.6 124.0 124.2 122.7 120.9 122.0C117.6 121.3 107.9 120.0 104.9 122.0C101.9 124.0 105.2 131.0 102.9 134.0C100.6 137.0 95.2 138.8 90.9 140.0C86.6 141.2 81.2 141.7 76.9 141.0C72.6 140.3 68.2 137.8 64.9 136.0C61.6 134.2 59.2 132.3 56.9 130.0C54.6 127.7 52.2 121.3 50.9 122.0Z" fill="#cdcdff"/>
<path d="M60.9 123.0C63.2 121.3 72.9 120.8 76.9 122.0C80.9 123.2 84.2 127.5 84.9 130.0C85.6 132.5 83.2 135.7 80.9 137.0C78.6 138.3 73.9 138.8 70.9 138.0C67.9 137.2 64.6 134.5 62.9 132.0C61.2 129.5 58.6 124.7 60.9 123.0Z" fill="#fffdfd"/>
<path d="M64.9 156.0C67.2 153.7 72.6 151.0 76.9 150.0C81.2 149.0 86.6 149.3 90.9 150.0C95.2 150.7 100.2 155.0 102.9 154.0C105.6 153.0 104.9 146.2 106.9 144.0C108.9 141.8 112.2 141.0 114.9 141.0C117.6 141.0 121.6 141.5 122.9 144.0C124.2 146.5 123.2 151.7 122.9 156.0C122.6 160.3 121.6 165.7 120.9 170.0C120.2 174.3 118.9 178.0 118.9 182.0C118.9 186.0 120.2 190.0 120.9 194.0C121.6 198.0 122.9 202.3 122.9 206.0C122.9 209.7 131.2 214.3 120.9 216.0C110.6 217.7 71.2 218.3 60.9 216.0C50.6 213.7 58.6 206.3 58.9 202.0C59.2 197.7 62.9 193.7 62.9 190.0C62.9 186.3 59.9 183.0 58.9 180.0C57.9 177.0 56.2 174.7 56.9 172.0C57.6 169.3 61.6 166.7 62.9 164.0C64.2 161.3 62.6 158.3 64.9 156.0Z" fill="#9999ff"/>
<path d="M86.9 126.0C87.7 124.8 90.7 124.3 91.9 125.0C93.1 125.7 94.1 128.6 93.9 130.0C93.7 131.4 92.0 133.3 90.9 133.6C89.8 133.9 88.0 133.3 87.3 132.0C86.6 130.7 86.1 127.2 86.9 126.0Z" fill="#9999ff"/>
<path d="M67.9 160.0C69.1 158.7 72.9 157.9 74.9 158.4C76.9 158.9 79.4 161.2 79.9 163.0C80.4 164.8 79.2 167.8 77.9 169.0C76.6 170.2 73.6 170.9 71.9 170.4C70.2 169.9 68.6 167.7 67.9 166.0C67.2 164.3 66.7 161.3 67.9 160.0Z" fill="#6565ff"/>
<path d="M93.9 162.0C94.6 159.7 98.4 157.3 100.9 156.0C103.4 154.7 106.9 153.3 108.9 154.0C110.9 154.7 112.6 157.7 112.9 160.0C113.2 162.3 112.2 166.2 110.9 168.0C109.6 169.8 107.2 170.7 104.9 171.0C102.6 171.3 98.7 171.5 96.9 170.0C95.1 168.5 93.2 164.3 93.9 162.0Z" fill="#6565ff"/>
<path d="M59.9 172.4C60.6 171.3 64.7 171.2 65.9 172.0C67.1 172.8 67.6 175.9 66.9 177.0C66.2 178.1 63.1 179.2 61.9 178.4C60.7 177.6 59.2 173.5 59.9 172.4Z" fill="#6565ff"/>
<path d="M78.9 194.0C80.7 191.7 85.2 190.8 88.9 190.0C92.6 189.2 97.6 188.3 100.9 189.0C104.2 189.7 107.2 191.5 108.9 194.0C110.6 196.5 110.9 200.3 110.9 204.0C110.9 207.7 113.9 214.0 108.9 216.0C103.9 218.0 86.1 218.0 80.9 216.0C75.7 214.0 78.2 207.7 77.9 204.0C77.6 200.3 77.1 196.3 78.9 194.0Z" fill="#6565ff"/>
<path d="M91.9 195.0C93.2 193.1 96.7 192.2 98.9 192.4C101.1 192.6 103.9 193.7 104.9 196.0C105.9 198.3 105.4 202.7 104.9 206.0C104.4 209.3 103.9 214.3 101.9 216.0C99.9 217.7 94.7 218.0 92.9 216.0C91.1 214.0 91.1 207.5 90.9 204.0C90.7 200.5 90.6 196.9 91.9 195.0Z" fill="#3131ff"/>
<path d="M94.5 197.0C95.4 195.6 98.1 194.1 99.3 194.4C100.5 194.7 101.8 196.7 101.9 199.0C102.0 201.3 100.9 206.2 99.9 208.0C98.9 209.8 96.9 210.8 95.9 210.0C94.9 209.2 94.1 205.2 93.9 203.0C93.7 200.8 93.6 198.4 94.5 197.0Z" fill="#0101ff"/>
<path d="M74.9 183.0C76.2 181.7 81.6 181.0 84.9 181.0C88.2 181.0 93.2 181.7 94.9 183.0C96.6 184.3 96.6 187.7 95.3 189.0C94.0 190.3 90.0 191.0 86.9 191.0C83.8 191.0 78.9 190.3 76.9 189.0C74.9 187.7 73.6 184.3 74.9 183.0Z" fill="#cdcdff"/>
<path d="M88.9 184.4C89.5 183.7 92.4 183.5 93.3 184.0C94.2 184.5 94.7 186.9 94.1 187.6C93.5 188.3 90.6 188.7 89.7 188.2C88.8 187.7 88.3 185.1 88.9 184.4Z" fill="#fffdfd"/>
<path d="M145.9 122.0C139.2 123.3 148.6 127.3 149.9 130.0C151.2 132.7 152.6 135.7 153.9 138.0C155.2 140.3 157.9 141.7 157.9 144.0C157.9 146.3 155.6 149.3 153.9 152.0C152.2 154.7 149.6 157.0 147.9 160.0C146.2 163.0 145.2 166.3 143.9 170.0C142.6 173.7 141.2 178.0 139.9 182.0C138.6 186.0 137.2 190.0 135.9 194.0C134.6 198.0 132.9 202.3 131.9 206.0C130.9 209.7 124.1 214.3 129.9 216.0C135.7 217.7 160.6 218.3 166.9 216.0C173.2 213.7 168.1 206.3 167.9 202.0C167.7 197.7 166.9 193.3 165.9 190.0C164.9 186.7 162.2 184.7 161.9 182.0C161.6 179.3 162.2 177.0 163.9 174.0C165.6 171.0 168.8 167.3 171.9 164.0C175.0 160.7 179.5 156.0 182.5 154.0C185.5 152.0 188.7 157.3 189.9 152.0C191.1 146.7 197.2 127.0 189.9 122.0C182.6 117.0 152.6 120.7 145.9 122.0Z" fill="#ffcdcd"/>
<path d="M134.0 211.7C134.4 210.8 135.5 207.9 136.2 206.2C136.9 204.5 137.6 203.7 138.4 201.6C139.2 199.5 139.7 196.0 140.8 193.6C141.9 191.2 143.6 189.6 144.8 187.2C146.0 184.8 147.1 181.5 148.0 179.2C148.9 176.9 149.3 174.9 150.4 173.6C151.5 172.3 152.9 171.7 154.4 171.2C155.9 170.7 158.0 171.1 159.2 170.4C160.4 169.7 160.9 168.4 161.6 167.2C162.3 166.0 162.0 164.3 163.2 163.2C164.4 162.1 167.1 162.0 168.8 160.8C170.5 159.6 172.0 157.7 173.6 156.0C175.2 154.3 177.0 152.1 178.4 150.4C179.8 148.7 181.4 146.7 182.0 146.0" fill="none" stroke="#ff9999" stroke-width="2.80" stroke-linecap="round" stroke-linejoin="round"/>
<path d="M24.9 30.0C13.9 33.7 23.2 47.0 24.9 52.0C26.6 57.0 31.9 57.0 34.9 60.0C37.9 63.0 40.6 66.7 42.9 70.0C45.2 73.3 46.9 76.7 48.9 80.0C50.9 83.3 53.2 86.7 54.9 90.0C56.6 93.3 57.7 96.7 58.9 100.0C60.1 103.3 60.9 107.3 61.9 110.0C62.9 112.7 63.7 114.7 64.9 116.0C66.1 117.3 67.6 119.0 68.9 118.0C70.2 117.0 71.7 113.0 72.9 110.0C74.1 107.0 74.7 103.3 75.9 100.0C77.1 96.7 78.4 93.0 79.9 90.0C81.4 87.0 83.4 84.3 84.9 82.0C86.4 79.7 87.2 76.7 88.9 76.4C90.6 76.1 92.9 79.7 94.9 80.0C96.9 80.3 99.2 79.3 100.9 78.0C102.6 76.7 104.6 74.3 104.9 72.0C105.2 69.7 103.9 66.3 102.9 64.0C101.9 61.7 100.2 60.3 98.9 58.0C97.6 55.7 95.9 52.7 94.9 50.0C93.9 47.3 93.6 45.3 92.9 42.0C92.2 38.7 102.2 32.0 90.9 30.0C79.6 28.0 35.9 26.3 24.9 30.0Z" fill="#ffcdcd" stroke="#ffcdcd" stroke-width="9.0" stroke-linejoin="round"/>
<path d="M24.9 30.0C13.9 33.7 23.2 47.0 24.9 52.0C26.6 57.0 31.9 57.0 34.9 60.0C37.9 63.0 40.6 66.7 42.9 70.0C45.2 73.3 46.9 76.7 48.9 80.0C50.9 83.3 53.2 86.7 54.9 90.0C56.6 93.3 57.7 96.7 58.9 100.0C60.1 103.3 60.9 107.3 61.9 110.0C62.9 112.7 63.7 114.7 64.9 116.0C66.1 117.3 67.6 119.0 68.9 118.0C70.2 117.0 71.7 113.0 72.9 110.0C74.1 107.0 74.7 103.3 75.9 100.0C77.1 96.7 78.4 93.0 79.9 90.0C81.4 87.0 83.4 84.3 84.9 82.0C86.4 79.7 87.2 76.7 88.9 76.4C90.6 76.1 92.9 79.7 94.9 80.0C96.9 80.3 99.2 79.3 100.9 78.0C102.6 76.7 104.6 74.3 104.9 72.0C105.2 69.7 103.9 66.3 102.9 64.0C101.9 61.7 100.2 60.3 98.9 58.0C97.6 55.7 95.9 52.7 94.9 50.0C93.9 47.3 93.6 45.3 92.9 42.0C92.2 38.7 102.2 32.0 90.9 30.0C79.6 28.0 35.9 26.3 24.9 30.0Z" fill="#ff9999" stroke="#ff9999" stroke-width="6.6" stroke-linejoin="round"/>
<path d="M24.9 30.0C13.9 33.7 23.2 47.0 24.9 52.0C26.6 57.0 31.9 57.0 34.9 60.0C37.9 63.0 40.6 66.7 42.9 70.0C45.2 73.3 46.9 76.7 48.9 80.0C50.9 83.3 53.2 86.7 54.9 90.0C56.6 93.3 57.7 96.7 58.9 100.0C60.1 103.3 60.9 107.3 61.9 110.0C62.9 112.7 63.7 114.7 64.9 116.0C66.1 117.3 67.6 119.0 68.9 118.0C70.2 117.0 71.7 113.0 72.9 110.0C74.1 107.0 74.7 103.3 75.9 100.0C77.1 96.7 78.4 93.0 79.9 90.0C81.4 87.0 83.4 84.3 84.9 82.0C86.4 79.7 87.2 76.7 88.9 76.4C90.6 76.1 92.9 79.7 94.9 80.0C96.9 80.3 99.2 79.3 100.9 78.0C102.6 76.7 104.6 74.3 104.9 72.0C105.2 69.7 103.9 66.3 102.9 64.0C101.9 61.7 100.2 60.3 98.9 58.0C97.6 55.7 95.9 52.7 94.9 50.0C93.9 47.3 93.6 45.3 92.9 42.0C92.2 38.7 102.2 32.0 90.9 30.0C79.6 28.0 35.9 26.3 24.9 30.0Z" fill="#ff6565" stroke="#ff6565" stroke-width="4.4" stroke-linejoin="round"/>
<path d="M24.9 30.0C13.9 33.7 23.2 47.0 24.9 52.0C26.6 57.0 31.9 57.0 34.9 60.0C37.9 63.0 40.6 66.7 42.9 70.0C45.2 73.3 46.9 76.7 48.9 80.0C50.9 83.3 53.2 86.7 54.9 90.0C56.6 93.3 57.7 96.7 58.9 100.0C60.1 103.3 60.9 107.3 61.9 110.0C62.9 112.7 63.7 114.7 64.9 116.0C66.1 117.3 67.6 119.0 68.9 118.0C70.2 117.0 71.7 113.0 72.9 110.0C74.1 107.0 74.7 103.3 75.9 100.0C77.1 96.7 78.4 93.0 79.9 90.0C81.4 87.0 83.4 84.3 84.9 82.0C86.4 79.7 87.2 76.7 88.9 76.4C90.6 76.1 92.9 79.7 94.9 80.0C96.9 80.3 99.2 79.3 100.9 78.0C102.6 76.7 104.6 74.3 104.9 72.0C105.2 69.7 103.9 66.3 102.9 64.0C101.9 61.7 100.2 60.3 98.9 58.0C97.6 55.7 95.9 52.7 94.9 50.0C93.9 47.3 93.6 45.3 92.9 42.0C92.2 38.7 102.2 32.0 90.9 30.0C79.6 28.0 35.9 26.3 24.9 30.0Z" fill="#ff3131" stroke="#ff3131" stroke-width="2.2" stroke-linejoin="round"/>
<path d="M24.9 30.0C13.9 33.7 23.2 47.0 24.9 52.0C26.6 57.0 31.9 57.0 34.9 60.0C37.9 63.0 40.6 66.7 42.9 70.0C45.2 73.3 46.9 76.7 48.9 80.0C50.9 83.3 53.2 86.7 54.9 90.0C56.6 93.3 57.7 96.7 58.9 100.0C60.1 103.3 60.9 107.3 61.9 110.0C62.9 112.7 63.7 114.7 64.9 116.0C66.1 117.3 67.6 119.0 68.9 118.0C70.2 117.0 71.7 113.0 72.9 110.0C74.1 107.0 74.7 103.3 75.9 100.0C77.1 96.7 78.4 93.0 79.9 90.0C81.4 87.0 83.4 84.3 84.9 82.0C86.4 79.7 87.2 76.7 88.9 76.4C90.6 76.1 92.9 79.7 94.9 80.0C96.9 80.3 99.2 79.3 100.9 78.0C102.6 76.7 104.6 74.3 104.9 72.0C105.2 69.7 103.9 66.3 102.9 64.0C101.9 61.7 100.2 60.3 98.9 58.0C97.6 55.7 95.9 52.7 94.9 50.0C93.9 47.3 93.6 45.3 92.9 42.0C92.2 38.7 102.2 32.0 90.9 30.0C79.6 28.0 35.9 26.3 24.9 30.0Z" fill="#fe0000"/>
<path d="M90.9 30.0C94.2 25.0 106.7 28.7 110.9 30.0C115.1 31.3 114.8 34.7 115.9 38.0C117.0 41.3 117.3 46.0 117.3 50.0C117.3 54.0 115.9 58.3 115.9 62.0C115.9 65.7 117.6 69.1 117.3 72.0C117.0 74.9 115.5 77.9 113.9 79.6C112.3 81.3 110.1 81.5 107.9 82.0C105.7 82.5 103.4 82.7 100.9 82.4C98.4 82.1 94.6 83.7 92.9 80.0C91.2 76.3 91.2 68.3 90.9 60.0C90.6 51.7 87.6 35.0 90.9 30.0Z" fill="#ff9999"/>
<path d="M91.9 34.0C93.4 30.0 98.7 34.0 100.9 36.0C103.1 38.0 104.2 42.3 105.3 46.0C106.4 49.7 107.0 54.0 107.3 58.0C107.6 62.0 107.7 66.7 107.3 70.0C106.9 73.3 106.1 76.0 104.9 77.6C103.7 79.2 101.7 79.5 99.9 79.6C98.1 79.7 95.2 81.3 93.9 78.0C92.6 74.7 92.2 67.3 91.9 60.0C91.6 52.7 90.4 38.0 91.9 34.0Z" fill="#ff6565"/>
<path d="M91.9 34.0C93.1 29.7 97.1 35.3 98.9 38.0C100.7 40.7 101.6 46.0 102.5 50.0C103.4 54.0 104.2 58.3 104.5 62.0C104.8 65.7 104.7 69.8 104.1 72.4C103.5 75.0 102.4 76.6 100.9 77.6C99.4 78.6 96.4 80.9 94.9 78.6C93.4 76.3 92.4 71.4 91.9 64.0C91.4 56.6 90.7 38.3 91.9 34.0Z" fill="#ff3131"/>
<path d="M91.9 40.0C92.7 36.7 95.3 41.8 96.5 44.0C97.7 46.2 98.5 49.8 99.3 53.0C100.1 56.2 101.0 59.9 101.3 63.0C101.6 66.1 101.4 69.4 100.9 71.6C100.4 73.8 99.2 75.1 98.1 76.0C97.0 76.9 95.5 78.8 94.5 76.8C93.5 74.8 92.3 70.1 91.9 64.0C91.5 57.9 91.1 43.3 91.9 40.0Z" fill="#fe0000"/>
<path d="M24.9 30.0C13.9 33.7 23.2 47.0 24.9 52.0C26.6 57.0 31.9 57.0 34.9 60.0C37.9 63.0 40.6 66.7 42.9 70.0C45.2 73.3 46.9 76.7 48.9 80.0C50.9 83.3 53.2 86.7 54.9 90.0C56.6 93.3 57.7 96.7 58.9 100.0C60.1 103.3 60.9 107.3 61.9 110.0C62.9 112.7 63.7 114.7 64.9 116.0C66.1 117.3 67.6 119.0 68.9 118.0C70.2 117.0 71.7 113.0 72.9 110.0C74.1 107.0 74.7 103.3 75.9 100.0C77.1 96.7 78.4 93.0 79.9 90.0C81.4 87.0 83.4 84.3 84.9 82.0C86.4 79.7 87.2 76.7 88.9 76.4C90.6 76.1 92.9 79.7 94.9 80.0C96.9 80.3 99.2 79.3 100.9 78.0C102.6 76.7 104.6 74.3 104.9 72.0C105.2 69.7 103.9 66.3 102.9 64.0C101.9 61.7 100.2 60.3 98.9 58.0C97.6 55.7 95.9 52.7 94.9 50.0C93.9 47.3 93.6 45.3 92.9 42.0C92.2 38.7 102.2 32.0 90.9 30.0C79.6 28.0 35.9 26.3 24.9 30.0Z" fill="#fe0000"/>
<path d="M30.9 30.0C21.1 32.7 30.6 41.7 31.9 46.0C33.2 50.3 36.6 52.5 38.9 56.0C41.2 59.5 43.7 63.4 45.9 67.0C48.1 70.6 50.1 74.2 51.9 77.6C53.7 81.0 55.4 84.2 56.9 87.6C58.4 91.0 59.8 94.6 60.9 98.0C62.0 101.4 62.7 105.3 63.7 108.0C64.7 110.7 65.8 114.2 66.9 114.0C68.0 113.8 69.3 110.0 70.5 107.0C71.7 104.0 72.6 99.3 73.9 96.0C75.2 92.7 76.8 89.8 78.5 87.0C80.2 84.2 82.1 81.1 83.9 79.0C85.7 76.9 87.5 74.7 89.3 74.4C91.1 74.1 93.2 76.9 94.9 77.0C96.6 77.1 98.1 76.0 99.3 75.0C100.5 74.0 101.8 72.8 101.9 71.0C102.0 69.2 100.9 66.3 99.9 64.0C98.9 61.7 97.1 59.7 95.9 57.0C94.7 54.3 93.4 52.5 92.5 48.0C91.6 43.5 100.8 33.0 90.5 30.0C80.2 27.0 40.7 27.3 30.9 30.0Z" fill="#e60000"/>
<path d="M36.9 30.0C28.4 32.0 36.3 38.2 37.3 42.0C38.3 45.8 41.0 49.3 42.9 53.0C44.8 56.7 46.7 60.3 48.5 64.0C50.3 67.7 52.2 71.5 53.9 75.0C55.6 78.5 57.4 81.5 58.9 85.0C60.4 88.5 61.8 92.5 62.9 96.0C64.0 99.5 64.7 103.7 65.5 106.0C66.3 108.3 66.9 110.7 67.9 110.0C68.9 109.3 70.1 105.0 71.3 102.0C72.5 99.0 73.5 95.2 74.9 92.0C76.3 88.8 78.2 85.7 79.9 83.0C81.6 80.3 83.1 77.7 84.9 76.0C86.7 74.3 89.1 73.5 90.9 73.0C92.7 72.5 94.6 73.5 95.9 73.0C97.2 72.5 98.4 71.5 98.5 70.0C98.6 68.5 97.4 66.3 96.5 64.0C95.6 61.7 94.0 59.0 92.9 56.0C91.8 53.0 90.8 50.3 90.1 46.0C89.4 41.7 97.4 32.7 88.5 30.0C79.6 27.3 45.4 28.0 36.9 30.0Z" fill="#cc0000"/>
<path d="M42.9 32.0C36.1 33.8 42.5 37.8 43.3 41.0C44.1 44.2 46.4 47.7 47.9 51.0C49.4 54.3 51.0 57.7 52.5 61.0C54.0 64.3 55.4 67.8 56.9 71.0C58.4 74.2 60.0 76.8 61.3 80.0C62.6 83.2 63.7 86.8 64.9 90.0C66.1 93.2 67.3 99.0 68.5 99.0C69.7 99.0 70.7 92.8 71.9 90.0C73.1 87.2 74.4 85.1 75.9 82.4C77.4 79.7 79.2 76.6 80.9 74.0C82.6 71.4 84.6 69.7 85.9 67.0C87.2 64.3 88.7 61.5 88.9 58.0C89.1 54.5 88.1 50.7 87.3 46.0C86.5 41.3 91.3 32.3 83.9 30.0C76.5 27.7 49.7 30.2 42.9 32.0Z" fill="#b20000"/>
<path d="M47.3 38.0C48.0 35.8 52.3 36.3 54.9 37.0C57.5 37.7 61.4 39.5 62.9 42.0C64.4 44.5 64.9 50.0 63.9 52.0C62.9 54.0 59.1 54.3 56.9 54.0C54.7 53.7 52.1 52.7 50.5 50.0C48.9 47.3 46.6 40.2 47.3 38.0Z" fill="#980000"/>
<path d="M71.3 42.0C72.4 39.8 76.8 39.7 78.9 41.0C81.0 42.3 82.9 46.5 83.9 50.0C84.9 53.5 85.2 58.5 84.9 62.0C84.6 65.5 83.4 68.7 81.9 71.0C80.4 73.3 77.4 76.5 75.9 76.0C74.4 75.5 73.5 71.7 72.9 68.0C72.3 64.3 72.4 58.3 72.1 54.0C71.8 49.7 70.2 44.2 71.3 42.0Z" fill="#980000"/>
<path d="M63.9 71.0C65.1 69.3 69.9 69.0 71.9 70.0C73.9 71.0 76.1 74.9 75.9 77.0C75.7 79.1 72.7 81.9 70.9 82.4C69.1 82.9 66.1 81.9 64.9 80.0C63.7 78.1 62.7 72.7 63.9 71.0Z" fill="#980000"/>
<path d="M53.3 56.0C53.7 53.7 58.0 54.0 59.9 55.0C61.8 56.0 64.0 59.3 64.5 62.0C65.0 64.7 64.1 69.8 62.9 71.0C61.7 72.2 58.9 71.5 57.3 69.0C55.7 66.5 52.9 58.3 53.3 56.0Z" fill="#980000"/>
<path d="M65.5 36.0C65.6 37.7 65.8 43.0 65.9 46.0C66.0 49.0 66.2 52.7 66.3 54.0" fill="none" stroke="#ff6565" stroke-width="4.40" stroke-linecap="round" stroke-linejoin="round"/>
<path d="M66.3 53.6C66.5 54.7 67.1 58.2 67.7 60.0C68.3 61.8 69.2 62.9 70.1 64.4C71.0 65.9 72.0 67.6 72.9 69.0C73.8 70.4 74.6 71.6 75.3 73.0C76.0 74.4 77.0 76.5 77.3 77.2" fill="none" stroke="#ff6565" stroke-width="5.60" stroke-linecap="round" stroke-linejoin="round"/>
<path d="M65.5 36.0C65.6 37.7 65.8 43.0 65.9 46.0C66.0 49.0 66.2 52.7 66.3 54.0" fill="none" stroke="#ffcdcd" stroke-width="3.00" stroke-linecap="round" stroke-linejoin="round"/>
<path d="M66.3 53.6C66.5 54.7 67.1 58.2 67.7 60.0C68.3 61.8 69.2 62.9 70.1 64.4C71.0 65.9 72.0 67.6 72.9 69.0C73.8 70.4 74.6 71.6 75.3 73.0C76.0 74.4 77.0 76.5 77.3 77.2" fill="none" stroke="#ffcdcd" stroke-width="4.20" stroke-linecap="round" stroke-linejoin="round"/>
<path d="M65.5 37.2C65.6 38.7 65.8 43.3 65.9 46.0C66.0 48.7 66.2 52.3 66.3 53.6" fill="none" stroke="#ffeaea" stroke-width="1.30" stroke-linecap="round" stroke-linejoin="round"/>
<path d="M68.1 60.4C68.5 61.2 69.7 63.5 70.5 65.0C71.3 66.5 72.3 68.0 73.1 69.4C73.9 70.8 74.8 72.2 75.5 73.4C76.2 74.6 76.8 76.1 77.1 76.6" fill="none" stroke="#ffe6e6" stroke-width="2.40" stroke-linecap="round" stroke-linejoin="round"/>
<path d="M73.5 70.0C73.8 70.6 74.9 72.3 75.5 73.4C76.1 74.5 76.7 75.9 76.9 76.4" fill="none" stroke="#fffafa" stroke-width="1.40" stroke-linecap="round" stroke-linejoin="round"/>
<line x1="58.6" y1="33.5" x2="58.6" y2="211.8" stroke="#000" stroke-opacity="0.16" stroke-width="0.5"/>
<line x1="87.8" y1="33.5" x2="87.8" y2="211.8" stroke="#000" stroke-opacity="0.16" stroke-width="0.5"/>
<line x1="117.0" y1="33.5" x2="117.0" y2="211.8" stroke="#000" stroke-opacity="0.16" stroke-width="0.5"/>
<line x1="146.3" y1="33.5" x2="146.3" y2="211.8" stroke="#000" stroke-opacity="0.16" stroke-width="0.5"/>
<line x1="175.5" y1="33.5" x2="175.5" y2="211.8" stroke="#000" stroke-opacity="0.16" stroke-width="0.5"/>
<line x1="28.5" y1="63.9" x2="182.8" y2="63.9" stroke="#000" stroke-opacity="0.16" stroke-width="0.5"/>
<line x1="28.5" y1="93.3" x2="182.8" y2="93.3" stroke="#000" stroke-opacity="0.16" stroke-width="0.5"/>
<line x1="28.5" y1="122.8" x2="182.8" y2="122.8" stroke="#000" stroke-opacity="0.16" stroke-width="0.5"/>
<line x1="28.5" y1="152.2" x2="182.8" y2="152.2" stroke="#000" stroke-opacity="0.16" stroke-width="0.5"/>
<line x1="28.5" y1="181.7" x2="182.8" y2="181.7" stroke="#000" stroke-opacity="0.16" stroke-width="0.5"/>
<path d="M28.5 42.5C29.3 43.7 31.7 47.2 33.1 49.5C34.5 51.8 35.8 54.0 37.1 56.5C38.4 59.0 39.6 61.7 41.1 64.5C42.6 67.3 44.9 70.6 46.1 73.1C47.3 75.6 47.3 76.8 48.1 79.5C48.9 82.2 51.2 87.5 50.7 89.5C50.2 91.5 47.5 90.6 45.1 91.5C42.7 92.4 38.1 94.1 36.1 95.1C34.1 96.1 34.4 95.7 33.1 97.5C31.8 99.3 29.3 104.5 28.5 105.9" fill="none" stroke="#222" stroke-width="0.5"/>
<path d="M46.1 73.1C47.6 74.0 53.3 76.8 55.1 78.5C56.9 80.2 55.6 82.3 57.1 83.5C58.6 84.7 61.1 86.0 64.1 85.5C67.1 85.0 71.5 82.2 75.1 80.5C78.7 78.8 83.8 76.3 85.5 75.5" fill="none" stroke="#222" stroke-width="0.5"/>
<path d="M78.1 33.9C78.4 35.5 79.8 40.2 80.1 43.5C80.4 46.8 79.6 50.5 80.1 53.5C80.6 56.5 82.3 59.0 83.1 61.5C83.9 64.0 84.7 66.2 85.1 68.5C85.5 70.8 85.0 73.0 85.5 75.5C86.0 78.0 86.5 80.8 88.1 83.5C89.7 86.2 93.7 88.8 95.1 91.5C96.5 94.2 95.7 96.7 96.7 99.5C97.7 102.3 99.0 105.5 101.1 108.5C103.2 111.5 107.8 116.0 109.1 117.5" fill="none" stroke="#222" stroke-width="0.5"/>
<path d="M109.1 117.5C108.9 118.2 108.8 119.8 108.1 121.5C107.4 123.2 106.1 125.3 105.1 127.5C104.1 129.7 103.8 132.7 102.1 134.5C100.4 136.3 97.9 137.3 95.1 138.5C92.3 139.7 88.3 140.8 85.1 141.5C81.9 142.2 78.9 142.8 76.1 142.5C73.3 142.2 70.4 141.1 68.1 139.9C65.8 138.7 64.1 137.1 62.1 135.5C60.1 133.9 61.7 131.4 56.1 130.5C50.5 129.6 33.1 130.2 28.5 130.1" fill="none" stroke="#222" stroke-width="0.5"/>
<path d="M109.1 117.5C109.6 118.2 110.1 119.2 112.1 121.5C114.1 123.8 118.8 127.8 121.1 131.5C123.4 135.2 125.1 139.5 126.1 143.5C127.1 147.5 127.3 151.5 127.1 155.5C126.9 159.5 125.9 164.2 125.1 167.5C124.3 170.8 123.3 173.8 122.1 175.5C120.9 177.2 119.6 177.7 118.1 177.9C116.6 178.1 113.9 176.7 113.1 176.5" fill="none" stroke="#222" stroke-width="0.5"/>
<path d="M105.1 127.5C104.7 129.5 103.0 135.5 102.7 139.5C102.4 143.5 102.7 147.8 103.1 151.5C103.5 155.2 104.1 158.5 105.1 161.5C106.1 164.5 107.8 167.0 109.1 169.5C110.4 172.0 112.4 175.3 113.1 176.5" fill="none" stroke="#222" stroke-width="0.5"/>
<path d="M28.5 209.5C29.6 208.2 32.0 204.5 35.1 201.5C38.2 198.5 43.4 194.5 47.1 191.5C50.8 188.5 54.1 185.7 57.1 183.5C60.1 181.3 62.1 179.8 65.1 178.5C68.1 177.2 71.4 176.4 75.1 175.9C78.8 175.4 83.9 175.2 87.1 175.5C90.3 175.8 91.9 177.2 94.1 177.9C96.3 178.6 96.9 179.7 100.1 179.5C103.3 179.3 110.9 177.0 113.1 176.5" fill="none" stroke="#222" stroke-width="0.5"/>
<path d="M100.1 179.5C100.6 180.8 102.1 184.7 103.1 187.5C104.1 190.3 104.8 193.8 106.1 196.5C107.4 199.2 109.4 201.3 111.1 203.5C112.8 205.7 114.9 208.1 116.1 209.5C117.3 210.9 117.8 211.5 118.1 211.9" fill="none" stroke="#222" stroke-width="0.5"/>
<path d="M115.1 207.5C116.7 206.3 121.9 203.2 124.5 200.5C127.1 197.8 128.8 194.2 130.5 191.5C132.2 188.8 133.5 187.1 135.0 184.5C136.5 181.9 138.4 178.7 139.6 176.0C140.8 173.3 141.1 171.2 142.2 168.6C143.3 166.0 144.2 163.5 146.2 160.6C148.2 157.7 151.4 154.1 154.0 151.4C156.6 148.7 159.2 146.9 162.0 144.6C164.8 142.3 167.1 140.1 170.5 137.6C173.9 135.1 180.7 130.8 182.7 129.5" fill="none" stroke="#222" stroke-width="0.5"/>
<path d="M104.7 33.9 L114.1 47.5 L135.5 54.1 L162.1 37.9 L182.7 33.9" fill="none" stroke="#222" stroke-width="0.5"/>
<path d="M135.2 212.5C135.6 211.6 136.7 208.7 137.4 207.0C138.1 205.3 138.8 204.5 139.6 202.4C140.4 200.3 140.9 196.8 142.0 194.4C143.1 192.0 144.8 190.4 146.0 188.0C147.2 185.6 148.3 182.3 149.2 180.0C150.1 177.7 150.5 175.7 151.6 174.4C152.7 173.1 154.1 172.5 155.6 172.0C157.1 171.5 159.2 171.9 160.4 171.2C161.6 170.5 162.1 169.2 162.8 168.0C163.5 166.8 163.2 165.1 164.4 164.0C165.6 162.9 168.3 162.8 170.0 161.6C171.7 160.4 173.2 158.5 174.8 156.8C176.4 155.1 178.2 152.9 179.6 151.2C181.0 149.5 182.6 147.5 183.2 146.8" fill="none" stroke="#111" stroke-width="1.0"/>
<path d="M162.6 165.8L167.6 160.6M163.4 161.2L167.4 165.6M162.2 163.6L168.6 162.8M165.2 160.2L165.4 166.4M168.6 162.8L170.6 161.0" fill="none" stroke="#111" stroke-width="0.55"/>
<path d="M138.6 203.4L140.4 200.6L139.4 199.4L141.2 198.2M141.6 196.0L143.0 194.6L142.6 193.0L144.0 191.4M146.6 187.0L147.6 185.4M161.0 171.4L165.4 171.8L169.4 167.4L171.6 163.4" fill="none" stroke="#111" stroke-width="0.5"/>
<polygon points="90.9,128.0 96.1,128.0 93.5,123.2" fill="#222"/>
<polygon points="91.6,177.3 96.8,177.3 94.2,182.1" fill="#222"/>
</g>
<rect x="28.5" y="33.5" width="154.3" height="178.3" fill="none" stroke="#333" stroke-width="0.6"/>
<text x="5.2" y="10.2" class="lab">c)</text>
<text x="28.90 35.10 39.33 45.62 48.47 54.80 60.45 64.48 70.80 77.33 80.60 86.90 93.42 98.78 105.07 107.92 114.44 118.47 124.79 128.06 133.71 140.23 146.53 153.04 159.57 165.89 169.16 172.02" y="7.9" class="ttl">Projected absolute change in</text>
<text x="28.90 32.93 39.26 49.27 55.79 62.12 66.35 72.65 76.68 83.19 87.42 93.74 97.01 102.37 108.69 114.99 120.35 126.64 133.15 139.45 142.31 145.16 149.19" y="19.2" class="ttl">temperature seasonality</text>
<text x="28.90 35.95 38.81 45.10 48.37 54.91 58.17 62.18 67.32 74.50 77.97 84.51 91.05 97.59" y="30.7" class="ttl">Bio 4 [°C/100]</text>
<text x="18.26 24.05 29.84 34.39" y="221.9" class="tk">34°E</text>
<text x="43.22 49.01 54.80 57.69 63.48 68.03" y="221.9" class="tk">35.5°E</text>
<text x="76.86 82.65 88.44 92.99" y="221.9" class="tk">37°E</text>
<text x="101.72 107.51 113.30 116.19 121.98 126.53" y="221.9" class="tk">38.5°E</text>
<text x="135.26 141.05 146.84 151.39" y="221.9" class="tk">40°E</text>
<text x="160.02 165.81 171.60 174.49 180.28 184.83" y="221.9" class="tk">41.5°E</text>
<polygon points="192.1,45.1 200.7,45.1 196.4,37.3" fill="#800000"/>
<polygon points="192.1,200.9 200.7,200.9 196.4,208.4" fill="#00004c"/>
<rect x="192.1" y="192.60" width="8.6" height="8.40" fill="#00006e"/>
<rect x="192.1" y="184.40" width="8.6" height="8.40" fill="#000092"/>
<rect x="192.1" y="176.20" width="8.6" height="8.40" fill="#0000b7"/>
<rect x="192.1" y="168.00" width="8.6" height="8.40" fill="#0000db"/>
<rect x="192.1" y="159.80" width="8.6" height="8.40" fill="#0101ff"/>
<rect x="192.1" y="151.60" width="8.6" height="8.40" fill="#3131ff"/>
<rect x="192.1" y="143.40" width="8.6" height="8.40" fill="#6565ff"/>
<rect x="192.1" y="135.20" width="8.6" height="8.40" fill="#9999ff"/>
<rect x="192.1" y="127.00" width="8.6" height="8.40" fill="#cdcdff"/>
<rect x="192.1" y="118.80" width="8.6" height="8.40" fill="#fffdfd"/>
<rect x="192.1" y="110.60" width="8.6" height="8.40" fill="#ffcdcd"/>
<rect x="192.1" y="102.40" width="8.6" height="8.40" fill="#ff9999"/>
<rect x="192.1" y="94.20" width="8.6" height="8.40" fill="#ff6565"/>
<rect x="192.1" y="86.00" width="8.6" height="8.40" fill="#ff3131"/>
<rect x="192.1" y="77.80" width="8.6" height="8.40" fill="#fe0000"/>
<rect x="192.1" y="69.60" width="8.6" height="8.40" fill="#e60000"/>
<rect x="192.1" y="61.40" width="8.6" height="8.40" fill="#cc0000"/>
<rect x="192.1" y="53.20" width="8.6" height="8.40" fill="#b20000"/>
<rect x="192.1" y="45.00" width="8.6" height="8.40" fill="#980000"/>
<polygon points="192.1,45.1 196.4,37.3 200.7,45.1 200.7,200.9 196.4,208.4 192.1,200.9" fill="none" stroke="#555" stroke-width="0.5"/>
<line x1="200.7" y1="200.90" x2="202.9" y2="200.90" stroke="#222" stroke-width="0.6"/>
<text x="204.10 211.72 217.51" y="204.2" class="tk"><tspan class="mn">−</tspan>95</text>
<line x1="200.7" y1="184.50" x2="202.9" y2="184.50" stroke="#222" stroke-width="0.6"/>
<text x="204.10 211.72 217.51" y="187.8" class="tk"><tspan class="mn">−</tspan>75</text>
<line x1="200.7" y1="168.10" x2="202.9" y2="168.10" stroke="#222" stroke-width="0.6"/>
<text x="204.10 211.72 217.51" y="171.4" class="tk"><tspan class="mn">−</tspan>55</text>
<line x1="200.7" y1="151.70" x2="202.9" y2="151.70" stroke="#222" stroke-width="0.6"/>
<text x="204.10 211.72 217.51" y="155.0" class="tk"><tspan class="mn">−</tspan>35</text>
<line x1="200.7" y1="135.30" x2="202.9" y2="135.30" stroke="#222" stroke-width="0.6"/>
<text x="204.10 211.72 217.51" y="138.6" class="tk"><tspan class="mn">−</tspan>15</text>
<line x1="200.7" y1="118.90" x2="202.9" y2="118.90" stroke="#222" stroke-width="0.6"/>
<text x="204.10" y="122.2" class="tk">5</text>
<line x1="200.7" y1="102.50" x2="202.9" y2="102.50" stroke="#222" stroke-width="0.6"/>
<text x="204.10 209.89" y="105.8" class="tk">25</text>
<line x1="200.7" y1="86.10" x2="202.9" y2="86.10" stroke="#222" stroke-width="0.6"/>
<text x="204.10 209.89" y="89.4" class="tk">45</text>
<line x1="200.7" y1="69.70" x2="202.9" y2="69.70" stroke="#222" stroke-width="0.6"/>
<text x="204.10 209.89" y="73.0" class="tk">65</text>
<line x1="200.7" y1="53.30" x2="202.9" y2="53.30" stroke="#222" stroke-width="0.6"/>
<text x="204.10 209.89" y="56.6" class="tk">85</text>
</g>
<g transform="translate(115.5,238.5)">
<g clip-path="url(#clipmap)">
<rect x="28" y="33" width="156" height="180" fill="#a8ddd5"/>
<path d="M100.5 29.5C86.2 31.8 101.3 40.2 103.5 43.5C105.7 46.8 109.2 48.0 113.5 49.5C117.8 51.0 124.5 51.8 129.5 52.5C134.5 53.2 138.8 53.0 143.5 53.5C148.2 54.0 153.5 55.5 157.5 55.5C161.5 55.5 164.2 54.5 167.5 53.5C170.8 52.5 173.8 50.5 177.5 49.5C181.2 48.5 187.5 50.8 189.5 47.5C191.5 44.2 204.3 32.5 189.5 29.5C174.7 26.5 114.8 27.2 100.5 29.5Z" fill="#cdebe6"/>
<path d="M161.5 43.5C163.0 42.3 168.2 41.3 171.5 41.5C174.8 41.7 180.2 43.2 181.5 44.5C182.8 45.8 181.5 48.5 179.5 49.5C177.5 50.5 172.3 50.7 169.5 50.5C166.7 50.3 163.8 49.7 162.5 48.5C161.2 47.3 160.0 44.7 161.5 43.5Z" fill="#e2f1ee"/>
<path d="M24.5 47.5C25.8 39.5 30.2 47.5 32.5 49.5C34.8 51.5 36.5 55.8 38.5 59.5C40.5 63.2 42.8 67.5 44.5 71.5C46.2 75.5 48.2 79.8 48.5 83.5C48.8 87.2 47.8 91.2 46.5 93.5C45.2 95.8 42.8 97.2 40.5 97.5C38.2 97.8 35.2 95.5 32.5 95.5C29.8 95.5 25.8 105.5 24.5 97.5C23.2 89.5 23.2 55.5 24.5 47.5Z" fill="#cdebe6"/>
<path d="M24.5 125.5C26.5 110.8 32.5 127.3 36.5 127.5C40.5 127.7 44.8 125.8 48.5 126.5C52.2 127.2 54.8 129.3 58.5 131.5C62.2 133.7 66.5 137.8 70.5 139.5C74.5 141.2 79.2 141.3 82.5 141.5C85.8 141.7 88.2 139.8 90.5 140.5C92.8 141.2 95.2 143.0 96.5 145.5C97.8 148.0 97.8 152.2 98.5 155.5C99.2 158.8 100.8 162.5 100.5 165.5C100.2 168.5 97.8 171.2 96.5 173.5C95.2 175.8 92.5 177.2 92.5 179.5C92.5 181.8 94.5 185.2 96.5 187.5C98.5 189.8 101.8 191.2 104.5 193.5C107.2 195.8 110.2 197.8 112.5 201.5C114.8 205.2 133.2 213.2 118.5 215.5C103.8 217.8 40.2 230.5 24.5 215.5C8.8 200.5 22.5 140.2 24.5 125.5Z" fill="#cdebe6"/>
<path d="M158.5 127.5C160.3 126.0 166.0 125.3 169.5 125.5C173.0 125.7 177.5 126.8 179.5 128.5C181.5 130.2 182.5 133.5 181.5 135.5C180.5 137.5 176.5 139.8 173.5 140.5C170.5 141.2 166.0 140.5 163.5 139.5C161.0 138.5 159.3 136.5 158.5 134.5C157.7 132.5 156.7 129.0 158.5 127.5Z" fill="#cdebe6"/>
<path d="M100.5 181.5C102.0 178.2 106.0 179.6 109.5 179.5C113.0 179.4 118.0 180.2 121.5 181.1C125.0 182.0 128.0 183.2 130.5 185.1C133.0 187.0 135.8 189.6 136.5 192.5C137.2 195.4 135.8 199.5 134.5 202.5C133.2 205.5 131.7 208.8 128.5 210.5C125.3 212.2 119.2 212.7 115.5 212.5C111.8 212.3 109.0 211.7 106.5 209.5C104.0 207.3 101.5 204.2 100.5 199.5C99.5 194.8 99.0 184.8 100.5 181.5Z" fill="#cdebe6"/>
<path d="M24.5 137.5C26.2 124.7 30.8 138.7 34.5 138.5C38.2 138.3 42.8 136.0 46.5 136.5C50.2 137.0 54.2 139.0 56.5 141.5C58.8 144.0 60.0 147.5 60.5 151.5C61.0 155.5 60.2 161.2 59.5 165.5C58.8 169.8 56.3 174.5 56.5 177.5C56.7 180.5 57.8 182.8 60.5 183.5C63.2 184.2 68.5 181.5 72.5 181.5C76.5 181.5 81.5 181.8 84.5 183.5C87.5 185.2 89.8 188.5 90.5 191.5C91.2 194.5 88.5 197.5 88.5 201.5C88.5 205.5 101.2 213.2 90.5 215.5C79.8 217.8 35.5 228.5 24.5 215.5C13.5 202.5 22.8 150.3 24.5 137.5Z" fill="#f2f3f2"/>
<path d="M62.5 185.5C63.5 182.8 68.5 182.5 70.5 183.5C72.5 184.5 74.5 188.5 74.5 191.5C74.5 194.5 72.2 200.2 70.5 201.5C68.8 202.8 65.8 202.2 64.5 199.5C63.2 196.8 61.5 188.2 62.5 185.5Z" fill="#cdebe6"/>
<path d="M36.5 155.5C37.8 152.8 43.5 151.5 46.5 151.5C49.5 151.5 52.8 153.2 54.5 155.5C56.2 157.8 56.5 162.2 56.5 165.5C56.5 168.8 55.5 172.8 54.5 175.5C53.5 178.2 50.5 179.2 50.5 181.5C50.5 183.8 53.3 186.2 54.5 189.5C55.7 192.8 57.5 197.2 57.5 201.5C57.5 205.8 60.0 213.2 54.5 215.5C49.0 217.8 29.5 221.2 24.5 215.5C19.5 209.8 22.8 187.8 24.5 181.5C26.2 175.2 32.2 179.8 34.5 177.5C36.8 175.2 38.2 171.2 38.5 167.5C38.8 163.8 35.2 158.2 36.5 155.5Z" fill="#f3e6c8"/>
<path d="M58.5 145.5C60.0 143.3 65.5 142.2 68.5 142.5C71.5 142.8 75.0 144.7 76.5 147.5C78.0 150.3 77.8 155.2 77.5 159.5C77.2 163.8 76.3 170.0 74.5 173.5C72.7 177.0 69.0 179.8 66.5 180.5C64.0 181.2 61.0 180.0 59.5 177.5C58.0 175.0 57.5 169.2 57.5 165.5C57.5 161.8 59.3 158.8 59.5 155.5C59.7 152.2 57.0 147.7 58.5 145.5Z" fill="#a8ddd5"/>
<path d="M61.5 162.5C62.3 161.2 64.4 160.0 65.5 160.5C66.6 161.0 67.9 163.5 68.1 165.5C68.3 167.5 67.8 171.1 66.9 172.5C66.0 173.9 63.6 174.6 62.5 173.9C61.4 173.2 60.7 170.4 60.5 168.5C60.3 166.6 60.7 163.8 61.5 162.5Z" fill="#7fccc0"/>
<path d="M80.5 128.5C82.0 126.2 88.7 126.3 92.5 126.5C96.3 126.7 101.5 127.7 103.5 129.5C105.5 131.3 106.0 135.3 104.5 137.5C103.0 139.7 98.0 142.0 94.5 142.5C91.0 143.0 85.8 142.8 83.5 140.5C81.2 138.2 79.0 130.8 80.5 128.5Z" fill="#a8ddd5"/>
<path d="M28.5 130.5C30.2 129.5 36.5 129.7 38.5 130.5C40.5 131.3 41.5 134.2 40.5 135.5C39.5 136.8 34.5 138.3 32.5 138.5C30.5 138.7 29.2 137.8 28.5 136.5C27.8 135.2 26.8 131.5 28.5 130.5Z" fill="#a8ddd5"/>
<path d="M94.5 177.5C96.8 176.7 105.5 177.2 108.5 178.5C111.5 179.8 112.5 183.3 112.5 185.5C112.5 187.7 110.5 190.8 108.5 191.5C106.5 192.2 102.8 190.8 100.5 189.5C98.2 188.2 95.5 185.5 94.5 183.5C93.5 181.5 92.2 178.3 94.5 177.5Z" fill="#a8ddd5"/>
<path d="M90.5 195.5C91.2 192.5 94.8 192.5 96.5 193.5C98.2 194.5 100.0 198.5 100.5 201.5C101.0 204.5 100.8 209.8 99.5 211.5C98.2 213.2 94.0 214.2 92.5 211.5C91.0 208.8 89.8 198.5 90.5 195.5Z" fill="#a8ddd5"/>
<path d="M98.5 53.5C101.5 52.2 104.2 51.5 108.5 51.5C112.8 51.5 119.8 51.8 124.5 53.5C129.2 55.2 133.7 58.2 136.5 61.5C139.3 64.8 140.8 69.2 141.5 73.5C142.2 77.8 141.7 83.2 140.5 87.5C139.3 91.8 137.5 96.5 134.5 99.5C131.5 102.5 126.5 104.5 122.5 105.5C118.5 106.5 114.2 106.5 110.5 105.5C106.8 104.5 103.5 102.2 100.5 99.5C97.5 96.8 94.5 93.2 92.5 89.5C90.5 85.8 89.5 80.8 88.5 77.5C87.5 74.2 86.2 72.5 86.5 69.5C86.8 66.5 88.5 62.2 90.5 59.5C92.5 56.8 95.5 54.8 98.5 53.5Z" fill="#7fccc0"/>
<path d="M102.5 58.5C103.2 57.1 107.2 55.8 110.5 55.5C113.8 55.2 119.5 55.8 122.5 56.5C125.5 57.2 127.8 58.4 128.5 59.5C129.2 60.6 128.5 62.6 126.5 63.1C124.5 63.6 119.8 62.4 116.5 62.5C113.2 62.6 108.8 64.6 106.5 63.9C104.2 63.2 101.8 59.9 102.5 58.5Z" fill="#4fa89d"/>
<path d="M87.5 68.5C88.3 67.5 91.5 66.8 93.5 67.5C95.5 68.2 98.3 70.8 99.5 72.5C100.7 74.2 101.3 76.8 100.5 77.5C99.7 78.2 96.5 77.2 94.5 76.5C92.5 75.8 89.7 74.8 88.5 73.5C87.3 72.2 86.7 69.5 87.5 68.5Z" fill="#4fa89d"/>
<path d="M104.5 81.9C105.0 80.4 108.8 79.0 110.5 79.1C112.2 79.2 114.0 81.2 114.5 82.5C115.0 83.8 114.7 86.2 113.5 87.1C112.3 88.0 109.0 88.8 107.5 87.9C106.0 87.0 104.0 83.4 104.5 81.9Z" fill="#4fa89d"/>
<path d="M96.5 85.1C97.3 84.6 100.0 83.2 101.5 81.9C103.0 80.6 104.4 78.6 105.5 77.5C106.6 76.4 107.7 75.5 108.1 75.1" fill="none" stroke="#a8ddd5" stroke-width="2.20" stroke-linecap="round" stroke-linejoin="round"/>
<path d="M74.5 95.5C76.7 92.5 81.5 91.5 84.5 91.5C87.5 91.5 90.8 93.2 92.5 95.5C94.2 97.8 94.8 102.2 94.5 105.5C94.2 108.8 92.5 112.8 90.5 115.5C88.5 118.2 85.5 120.5 82.5 121.5C79.5 122.5 74.3 123.5 72.5 121.5C70.7 119.5 71.2 113.8 71.5 109.5C71.8 105.2 72.3 98.5 74.5 95.5Z" fill="#7fccc0"/>
<path d="M82.5 97.5C83.0 95.5 85.3 95.5 86.5 96.5C87.7 97.5 89.3 101.3 89.5 103.5C89.7 105.7 88.5 108.7 87.5 109.5C86.5 110.3 84.3 110.5 83.5 108.5C82.7 106.5 82.0 99.5 82.5 97.5Z" fill="#a8ddd5"/>
<path d="M107.5 129.5C108.8 127.0 111.5 126.2 113.5 126.5C115.5 126.8 118.1 128.7 119.5 131.5C120.9 134.3 121.6 139.2 121.9 143.5C122.2 147.8 121.9 153.2 121.5 157.5C121.1 161.8 120.8 166.8 119.5 169.5C118.2 172.2 115.3 174.1 113.5 173.9C111.7 173.7 109.7 171.6 108.5 168.5C107.3 165.4 106.9 160.0 106.5 155.5C106.1 151.0 105.7 145.8 105.9 141.5C106.1 137.2 106.2 132.0 107.5 129.5Z" fill="#7fccc0"/>
<path d="M24.5 29.5C11.7 31.8 23.3 39.2 24.5 43.5C25.7 47.8 29.3 51.5 31.5 55.5C33.7 59.5 35.5 63.5 37.5 67.5C39.5 71.5 41.7 75.5 43.5 79.5C45.3 83.5 46.7 87.5 48.1 91.5C49.5 95.5 51.0 99.5 52.1 103.5C53.2 107.5 54.0 112.2 54.9 115.5C55.8 118.8 54.2 122.2 57.5 123.5C60.8 124.8 71.5 125.2 74.5 123.5C77.5 121.8 75.0 116.8 75.5 113.5C76.0 110.2 76.5 107.2 77.5 103.5C78.5 99.8 80.2 95.2 81.5 91.5C82.8 87.8 84.2 84.5 85.5 81.5C86.8 78.5 88.5 76.2 89.5 73.5C90.5 70.8 90.2 68.5 91.5 65.5C92.8 62.5 95.7 58.8 97.5 55.5C99.3 52.2 101.8 49.8 102.5 45.5C103.2 41.2 114.5 32.2 101.5 29.5C88.5 26.8 37.3 27.2 24.5 29.5Z" fill="#7fccc0"/>
<path d="M28.5 29.5C16.8 31.5 27.5 37.5 28.5 41.5C29.5 45.5 32.5 49.5 34.5 53.5C36.5 57.5 38.5 61.5 40.5 65.5C42.5 69.5 44.8 73.5 46.5 77.5C48.2 81.5 49.2 85.5 50.5 89.5C51.8 93.5 53.3 97.5 54.5 101.5C55.7 105.5 56.7 109.8 57.5 113.5C58.3 117.2 57.2 121.8 59.5 123.5C61.8 125.2 69.3 125.2 71.5 123.5C73.7 121.8 72.0 116.8 72.5 113.5C73.0 110.2 73.5 107.2 74.5 103.5C75.5 99.8 77.2 95.2 78.5 91.5C79.8 87.8 81.2 84.5 82.5 81.5C83.8 78.5 85.5 76.2 86.5 73.5C87.5 70.8 87.2 68.5 88.5 65.5C89.8 62.5 92.7 58.8 94.5 55.5C96.3 52.2 98.8 49.8 99.5 45.5C100.2 41.2 110.3 32.2 98.5 29.5C86.7 26.8 40.2 27.5 28.5 29.5Z" fill="#4fa89d"/>
<path d="M51.5 39.5C52.6 37.2 54.0 35.8 56.5 35.5C59.0 35.2 63.2 35.8 66.5 37.5C69.8 39.2 73.8 42.5 76.5 45.5C79.2 48.5 81.2 52.2 82.5 55.5C83.8 58.8 84.5 62.2 84.5 65.5C84.5 68.8 83.5 72.8 82.5 75.5C81.5 78.2 79.4 79.2 78.5 81.5C77.6 83.8 77.6 86.8 76.9 89.5C76.2 92.2 75.3 94.2 74.5 97.5C73.7 100.8 72.4 105.2 72.1 109.5C71.8 113.8 74.8 121.2 72.5 123.5C70.2 125.8 61.2 124.5 58.5 123.5C55.8 122.5 56.5 119.8 56.5 117.5C56.5 115.2 58.2 112.5 58.5 109.5C58.8 106.5 58.8 102.8 58.1 99.5C57.4 96.2 55.9 93.2 54.5 89.5C53.1 85.8 50.8 81.2 49.5 77.5C48.2 73.8 47.4 70.5 46.9 67.5C46.4 64.5 46.0 62.5 46.5 59.5C47.0 56.5 49.3 52.8 50.1 49.5C50.9 46.2 50.4 41.8 51.5 39.5Z" fill="#238880"/>
<path d="M59.3 45.9C59.6 44.9 61.8 44.5 62.5 45.1C63.2 45.7 63.6 48.5 63.3 49.5C63.0 50.5 61.2 51.7 60.5 51.1C59.8 50.5 59.0 46.9 59.3 45.9Z" fill="#01665e"/>
<path d="M65.5 53.5C65.7 52.8 67.0 52.6 67.5 53.1C68.0 53.6 68.7 55.8 68.5 56.5C68.3 57.2 67.0 58.0 66.5 57.5C66.0 57.0 65.3 54.2 65.5 53.5Z" fill="#4fa89d"/>
<path d="M69.5 63.5C69.8 62.6 71.5 62.4 72.1 63.1C72.7 63.8 73.2 66.6 72.9 67.5C72.6 68.4 71.1 69.2 70.5 68.5C69.9 67.8 69.2 64.4 69.5 63.5Z" fill="#4fa89d"/>
<path d="M62.5 92.5C63.3 91.4 67.8 90.8 69.5 91.1C71.2 91.4 72.5 93.3 72.5 94.5C72.5 95.7 70.8 98.0 69.5 98.5C68.2 99.0 65.7 98.5 64.5 97.5C63.3 96.5 61.7 93.6 62.5 92.5Z" fill="#01665e"/>
<path d="M57.5 109.5C58.1 106.7 59.8 105.3 61.5 104.5C63.2 103.7 65.8 103.7 67.5 104.5C69.2 105.3 70.7 107.3 71.5 109.5C72.3 111.7 72.2 115.2 72.1 117.5C72.0 119.8 71.3 122.3 70.9 123.5C70.5 124.7 70.6 123.9 69.5 124.5C68.4 125.1 66.1 126.9 64.5 127.1C62.9 127.3 61.2 126.4 60.1 125.5C59.0 124.6 58.5 124.2 58.1 121.5C57.7 118.8 56.9 112.3 57.5 109.5Z" fill="#01665e"/>
<path d="M59.5 112.5C59.8 110.2 61.7 109.1 62.9 108.5C64.1 107.9 65.9 108.1 66.9 109.1C67.9 110.1 68.6 112.1 68.9 114.5C69.2 116.9 68.8 122.0 68.5 123.5C68.2 125.0 67.7 123.3 66.9 123.5C66.1 123.7 64.5 124.7 63.5 124.5C62.5 124.3 61.6 124.5 60.9 122.5C60.2 120.5 59.2 114.8 59.5 112.5Z" fill="#00483c"/>
<path d="M189.5 164.5C188.4 156.5 186.2 165.3 182.9 167.5C179.6 169.7 173.7 174.2 169.5 177.5C165.3 180.8 161.2 183.8 157.5 187.5C153.8 191.2 150.2 194.8 147.5 199.5C144.8 204.2 134.5 212.8 141.5 215.5C148.5 218.2 181.5 224.0 189.5 215.5C197.5 207.0 190.6 172.5 189.5 164.5Z" fill="#7fccc0"/>
<path d="M189.5 176.5C188.4 170.5 185.9 177.7 182.9 179.5C179.9 181.3 175.1 184.8 171.5 187.5C167.9 190.2 164.5 192.8 161.5 195.5C158.5 198.2 155.5 200.2 153.5 203.5C151.5 206.8 143.5 213.5 149.5 215.5C155.5 217.5 182.8 222.0 189.5 215.5C196.2 209.0 190.6 182.5 189.5 176.5Z" fill="#4fa89d"/>
<path d="M189.5 188.5C188.4 184.5 185.6 190.2 182.9 191.5C180.2 192.8 176.7 194.8 173.5 196.5C170.3 198.2 166.2 199.7 163.5 201.5C160.8 203.3 158.8 205.2 157.5 207.5C156.2 209.8 150.2 214.2 155.5 215.5C160.8 216.8 183.8 220.0 189.5 215.5C195.2 211.0 190.6 192.5 189.5 188.5Z" fill="#238880"/>
<path d="M189.5 197.5C188.4 194.8 185.6 198.5 182.9 199.5C180.2 200.5 176.4 202.2 173.5 203.5C170.6 204.8 167.3 205.5 165.5 207.5C163.7 209.5 158.5 214.2 162.5 215.5C166.5 216.8 185.0 218.5 189.5 215.5C194.0 212.5 190.6 200.2 189.5 197.5Z" fill="#01665e"/>
<path d="M189.5 203.5C188.4 201.8 185.2 204.7 182.9 205.5C180.6 206.3 177.4 206.8 175.5 208.5C173.6 210.2 169.2 214.3 171.5 215.5C173.8 216.7 186.5 217.5 189.5 215.5C192.5 213.5 190.6 205.2 189.5 203.5Z" fill="#00483c"/>
<ellipse cx="164.5" cy="163.5" rx="10.4" ry="6.0" fill="#7fccc0" transform="rotate(-35 164.5 163.5)"/>
<ellipse cx="165.1" cy="163.1" rx="7.6" ry="3.6" fill="#4fa89d" transform="rotate(-35 165.1 163.1)"/>
<line x1="58.6" y1="33.5" x2="58.6" y2="211.8" stroke="#000" stroke-opacity="0.16" stroke-width="0.5"/>
<line x1="87.8" y1="33.5" x2="87.8" y2="211.8" stroke="#000" stroke-opacity="0.16" stroke-width="0.5"/>
<line x1="117.0" y1="33.5" x2="117.0" y2="211.8" stroke="#000" stroke-opacity="0.16" stroke-width="0.5"/>
<line x1="146.3" y1="33.5" x2="146.3" y2="211.8" stroke="#000" stroke-opacity="0.16" stroke-width="0.5"/>
<line x1="175.5" y1="33.5" x2="175.5" y2="211.8" stroke="#000" stroke-opacity="0.16" stroke-width="0.5"/>
<line x1="28.5" y1="63.9" x2="182.8" y2="63.9" stroke="#000" stroke-opacity="0.16" stroke-width="0.5"/>
<line x1="28.5" y1="93.3" x2="182.8" y2="93.3" stroke="#000" stroke-opacity="0.16" stroke-width="0.5"/>
<line x1="28.5" y1="122.8" x2="182.8" y2="122.8" stroke="#000" stroke-opacity="0.16" stroke-width="0.5"/>
<line x1="28.5" y1="152.2" x2="182.8" y2="152.2" stroke="#000" stroke-opacity="0.16" stroke-width="0.5"/>
<line x1="28.5" y1="181.7" x2="182.8" y2="181.7" stroke="#000" stroke-opacity="0.16" stroke-width="0.5"/>
<path d="M28.5 42.5C29.3 43.7 31.7 47.2 33.1 49.5C34.5 51.8 35.8 54.0 37.1 56.5C38.4 59.0 39.6 61.7 41.1 64.5C42.6 67.3 44.9 70.6 46.1 73.1C47.3 75.6 47.3 76.8 48.1 79.5C48.9 82.2 51.2 87.5 50.7 89.5C50.2 91.5 47.5 90.6 45.1 91.5C42.7 92.4 38.1 94.1 36.1 95.1C34.1 96.1 34.4 95.7 33.1 97.5C31.8 99.3 29.3 104.5 28.5 105.9" fill="none" stroke="#222" stroke-width="0.5"/>
<path d="M46.1 73.1C47.6 74.0 53.3 76.8 55.1 78.5C56.9 80.2 55.6 82.3 57.1 83.5C58.6 84.7 61.1 86.0 64.1 85.5C67.1 85.0 71.5 82.2 75.1 80.5C78.7 78.8 83.8 76.3 85.5 75.5" fill="none" stroke="#222" stroke-width="0.5"/>
<path d="M78.1 33.9C78.4 35.5 79.8 40.2 80.1 43.5C80.4 46.8 79.6 50.5 80.1 53.5C80.6 56.5 82.3 59.0 83.1 61.5C83.9 64.0 84.7 66.2 85.1 68.5C85.5 70.8 85.0 73.0 85.5 75.5C86.0 78.0 86.5 80.8 88.1 83.5C89.7 86.2 93.7 88.8 95.1 91.5C96.5 94.2 95.7 96.7 96.7 99.5C97.7 102.3 99.0 105.5 101.1 108.5C103.2 111.5 107.8 116.0 109.1 117.5" fill="none" stroke="#222" stroke-width="0.5"/>
<path d="M109.1 117.5C108.9 118.2 108.8 119.8 108.1 121.5C107.4 123.2 106.1 125.3 105.1 127.5C104.1 129.7 103.8 132.7 102.1 134.5C100.4 136.3 97.9 137.3 95.1 138.5C92.3 139.7 88.3 140.8 85.1 141.5C81.9 142.2 78.9 142.8 76.1 142.5C73.3 142.2 70.4 141.1 68.1 139.9C65.8 138.7 64.1 137.1 62.1 135.5C60.1 133.9 61.7 131.4 56.1 130.5C50.5 129.6 33.1 130.2 28.5 130.1" fill="none" stroke="#222" stroke-width="0.5"/>
<path d="M109.1 117.5C109.6 118.2 110.1 119.2 112.1 121.5C114.1 123.8 118.8 127.8 121.1 131.5C123.4 135.2 125.1 139.5 126.1 143.5C127.1 147.5 127.3 151.5 127.1 155.5C126.9 159.5 125.9 164.2 125.1 167.5C124.3 170.8 123.3 173.8 122.1 175.5C120.9 177.2 119.6 177.7 118.1 177.9C116.6 178.1 113.9 176.7 113.1 176.5" fill="none" stroke="#222" stroke-width="0.5"/>
<path d="M105.1 127.5C104.7 129.5 103.0 135.5 102.7 139.5C102.4 143.5 102.7 147.8 103.1 151.5C103.5 155.2 104.1 158.5 105.1 161.5C106.1 164.5 107.8 167.0 109.1 169.5C110.4 172.0 112.4 175.3 113.1 176.5" fill="none" stroke="#222" stroke-width="0.5"/>
<path d="M28.5 209.5C29.6 208.2 32.0 204.5 35.1 201.5C38.2 198.5 43.4 194.5 47.1 191.5C50.8 188.5 54.1 185.7 57.1 183.5C60.1 181.3 62.1 179.8 65.1 178.5C68.1 177.2 71.4 176.4 75.1 175.9C78.8 175.4 83.9 175.2 87.1 175.5C90.3 175.8 91.9 177.2 94.1 177.9C96.3 178.6 96.9 179.7 100.1 179.5C103.3 179.3 110.9 177.0 113.1 176.5" fill="none" stroke="#222" stroke-width="0.5"/>
<path d="M100.1 179.5C100.6 180.8 102.1 184.7 103.1 187.5C104.1 190.3 104.8 193.8 106.1 196.5C107.4 199.2 109.4 201.3 111.1 203.5C112.8 205.7 114.9 208.1 116.1 209.5C117.3 210.9 117.8 211.5 118.1 211.9" fill="none" stroke="#222" stroke-width="0.5"/>
<path d="M115.1 207.5C116.7 206.3 121.9 203.2 124.5 200.5C127.1 197.8 128.8 194.2 130.5 191.5C132.2 188.8 133.5 187.1 135.0 184.5C136.5 181.9 138.4 178.7 139.6 176.0C140.8 173.3 141.1 171.2 142.2 168.6C143.3 166.0 144.2 163.5 146.2 160.6C148.2 157.7 151.4 154.1 154.0 151.4C156.6 148.7 159.2 146.9 162.0 144.6C164.8 142.3 167.1 140.1 170.5 137.6C173.9 135.1 180.7 130.8 182.7 129.5" fill="none" stroke="#222" stroke-width="0.5"/>
<path d="M104.7 33.9 L114.1 47.5 L135.5 54.1 L162.1 37.9 L182.7 33.9" fill="none" stroke="#222" stroke-width="0.5"/>
<path d="M135.2 212.5C135.6 211.6 136.7 208.7 137.4 207.0C138.1 205.3 138.8 204.5 139.6 202.4C140.4 200.3 140.9 196.8 142.0 194.4C143.1 192.0 144.8 190.4 146.0 188.0C147.2 185.6 148.3 182.3 149.2 180.0C150.1 177.7 150.5 175.7 151.6 174.4C152.7 173.1 154.1 172.5 155.6 172.0C157.1 171.5 159.2 171.9 160.4 171.2C161.6 170.5 162.1 169.2 162.8 168.0C163.5 166.8 163.2 165.1 164.4 164.0C165.6 162.9 168.3 162.8 170.0 161.6C171.7 160.4 173.2 158.5 174.8 156.8C176.4 155.1 178.2 152.9 179.6 151.2C181.0 149.5 182.6 147.5 183.2 146.8" fill="none" stroke="#111" stroke-width="1.0"/>
<path d="M162.6 165.8L167.6 160.6M163.4 161.2L167.4 165.6M162.2 163.6L168.6 162.8M165.2 160.2L165.4 166.4M168.6 162.8L170.6 161.0" fill="none" stroke="#111" stroke-width="0.55"/>
<path d="M138.6 203.4L140.4 200.6L139.4 199.4L141.2 198.2M141.6 196.0L143.0 194.6L142.6 193.0L144.0 191.4M146.6 187.0L147.6 185.4M161.0 171.4L165.4 171.8L169.4 167.4L171.6 163.4" fill="none" stroke="#111" stroke-width="0.5"/>
<polygon points="90.9,128.0 96.1,128.0 93.5,123.2" fill="#222"/>
<polygon points="91.6,177.3 96.8,177.3 94.2,182.1" fill="#222"/>
</g>
<rect x="28.5" y="33.5" width="154.3" height="178.3" fill="none" stroke="#333" stroke-width="0.6"/>
<text x="5.5" y="9.7" class="lab">d)</text>
<text x="28.90 35.10 39.33 45.62 48.47 54.80 60.45 64.48 70.80 77.33 80.60 86.90 93.42 98.78 105.07 107.92 114.44 118.47 124.79 128.06 133.71 140.23 146.53 153.04 159.57 165.89 169.16 172.02" y="6.6" class="ttl">Projected absolute change in</text>
<text x="28.90 35.20 41.71 48.23 54.75 61.05 63.90 67.17 73.69 77.92 84.25 89.90 92.75 99.28 102.13 106.17 112.47 116.50 119.35 125.64" y="17.6" class="ttl">annual precipitation</text>
<text x="28.90 35.95 38.81 45.10 48.37 54.91 61.45 64.71 68.72 78.74 88.75 92.02 98.10 104.43 110.73" y="30.7" class="ttl">Bio 12 [mm year</text><text x="114.95 121.24" y="27.2" class="ttl" style="font-size:7.8px"><tspan class="mn">−</tspan>1</text><text x="126.02" y="30.7" class="ttl">]</text>
<text x="18.26 24.05 29.84 34.39" y="221.9" class="tk">34°E</text>
<text x="43.22 49.01 54.80 57.69 63.48 68.03" y="221.9" class="tk">35.5°E</text>
<text x="76.86 82.65 88.44 92.99" y="221.9" class="tk">37°E</text>
<text x="101.72 107.51 113.30 116.19 121.98 126.53" y="221.9" class="tk">38.5°E</text>
<text x="135.26 141.05 146.84 151.39" y="221.9" class="tk">40°E</text>
<text x="160.02 165.81 171.60 174.49 180.28 184.83" y="221.9" class="tk">41.5°E</text>
<text x="9.05 14.84 19.39" y="66.6" class="tk">3°N</text>
<text x="0.37 6.16 9.05 14.84 19.39" y="96.0" class="tk">1.5°N</text>
<text x="15.86 21.65" y="125.5" class="tk">0°</text>
<text x="1.40 7.19 10.08 15.87 20.42" y="154.9" class="tk">1.5°S</text>
<text x="10.08 15.87 20.42" y="184.3" class="tk">3°S</text>
<polygon points="192.1,45.1 200.7,45.1 196.4,37.3" fill="#003c30"/>
<polygon points="192.1,200.9 200.7,200.9 196.4,208.4" fill="#f7ecd0"/>
<rect x="192.1" y="183.49" width="8.6" height="17.51" fill="#f3e6c8"/>
<rect x="192.1" y="166.18" width="8.6" height="17.51" fill="#f2f3f2"/>
<rect x="192.1" y="148.87" width="8.6" height="17.51" fill="#cdebe6"/>
<rect x="192.1" y="131.56" width="8.6" height="17.51" fill="#a8ddd5"/>
<rect x="192.1" y="114.24" width="8.6" height="17.51" fill="#7fccc0"/>
<rect x="192.1" y="96.93" width="8.6" height="17.51" fill="#4fa89d"/>
<rect x="192.1" y="79.62" width="8.6" height="17.51" fill="#238880"/>
<rect x="192.1" y="62.31" width="8.6" height="17.51" fill="#01665e"/>
<rect x="192.1" y="45.00" width="8.6" height="17.51" fill="#00483c"/>
<polygon points="192.1,45.1 196.4,37.3 200.7,45.1 200.7,200.9 196.4,208.4 192.1,200.9" fill="none" stroke="#555" stroke-width="0.5"/>
<line x1="200.7" y1="200.90" x2="202.9" y2="200.90" stroke="#222" stroke-width="0.6"/>
<text x="204.10 211.72 217.51 223.30" y="204.2" class="tk"><tspan class="mn">−</tspan>100</text>
<line x1="200.7" y1="183.59" x2="202.9" y2="183.59" stroke="#222" stroke-width="0.6"/>
<text x="204.10" y="186.9" class="tk">0</text>
<line x1="200.7" y1="166.28" x2="202.9" y2="166.28" stroke="#222" stroke-width="0.6"/>
<text x="204.10 209.89 215.68" y="169.6" class="tk">100</text>
<line x1="200.7" y1="148.97" x2="202.9" y2="148.97" stroke="#222" stroke-width="0.6"/>
<text x="204.10 209.89 215.68" y="152.3" class="tk">200</text>
<line x1="200.7" y1="131.66" x2="202.9" y2="131.66" stroke="#222" stroke-width="0.6"/>
<text x="204.10 209.89 215.68" y="135.0" class="tk">300</text>
<line x1="200.7" y1="114.34" x2="202.9" y2="114.34" stroke="#222" stroke-width="0.6"/>
<text x="204.10 209.89 215.68" y="117.6" class="tk">400</text>
<line x1="200.7" y1="97.03" x2="202.9" y2="97.03" stroke="#222" stroke-width="0.6"/>
<text x="204.10 209.89 215.68" y="100.3" class="tk">500</text>
<line x1="200.7" y1="79.72" x2="202.9" y2="79.72" stroke="#222" stroke-width="0.6"/>
<text x="204.10 209.89 215.68" y="83.0" class="tk">600</text>
<line x1="200.7" y1="62.41" x2="202.9" y2="62.41" stroke="#222" stroke-width="0.6"/>
<text x="204.10 209.89 215.68" y="65.7" class="tk">700</text>
<line x1="200.7" y1="45.10" x2="202.9" y2="45.10" stroke="#222" stroke-width="0.6"/>
<text x="204.10 209.89 215.68" y="48.4" class="tk">800</text>
</g>
<g transform="translate(346.9,238.5)">
<g clip-path="url(#clipmap)">
<rect x="28" y="33" width="156" height="180" fill="#f4ecd8"/>
<path d="M25.1 31.5C48.4 16.8 137.1 31.5 165.1 31.5C193.1 31.5 188.4 20.2 193.1 31.5C197.8 42.8 194.8 88.5 193.1 99.5C191.4 110.5 185.7 98.2 182.7 97.5C179.7 96.8 177.7 96.8 175.1 95.5C172.5 94.2 170.1 89.8 167.1 89.5C164.1 89.2 160.8 93.2 157.1 93.5C153.4 93.8 148.4 93.5 145.1 91.5C141.8 89.5 139.1 85.0 137.1 81.5C135.1 78.0 135.8 72.8 133.1 70.5C130.4 68.2 124.4 68.7 121.1 67.5C117.8 66.3 116.1 64.0 113.1 63.5C110.1 63.0 106.1 63.7 103.1 64.5C100.1 65.3 95.8 66.3 95.1 68.5C94.4 70.7 98.1 74.3 99.1 77.5C100.1 80.7 100.6 84.2 101.1 87.5C101.6 90.8 101.6 94.2 102.1 97.5C102.6 100.8 103.1 104.5 104.1 107.5C105.1 110.5 107.3 113.5 108.1 115.5C108.9 117.5 109.6 117.2 109.1 119.5C108.6 121.8 106.4 126.7 105.1 129.5C103.8 132.3 103.4 134.7 101.1 136.5C98.8 138.3 95.1 139.5 91.1 140.5C87.1 141.5 81.4 142.7 77.1 142.5C72.8 142.3 68.4 141.0 65.1 139.5C61.8 138.0 59.1 135.5 57.1 133.5C55.1 131.5 55.1 129.5 53.1 127.5C51.1 125.5 49.8 122.8 45.1 121.5C40.4 120.2 28.4 134.5 25.1 119.5C21.8 104.5 1.8 46.2 25.1 31.5Z" fill="#e4efee"/>
<path d="M173.1 95.5C170.1 98.5 174.1 108.5 175.1 113.5C176.1 118.5 177.8 122.5 179.1 125.5C180.4 128.5 180.4 130.2 182.7 131.5C185.0 132.8 191.4 139.5 193.1 133.5C194.8 127.5 196.4 101.8 193.1 95.5C189.8 89.2 176.1 92.5 173.1 95.5Z" fill="#e4efee"/>
<path d="M82.1 36.5C82.6 35.7 84.6 35.7 85.1 36.5C85.6 37.3 85.6 40.7 85.1 41.5C84.6 42.3 82.8 42.3 82.3 41.5C81.8 40.7 81.6 37.3 82.1 36.5Z" fill="#f4ecd8"/>
<path d="M105.1 33.9C106.1 33.0 111.9 33.0 113.1 33.9C114.3 34.8 113.1 38.6 112.1 39.5C111.1 40.4 108.3 40.0 107.1 39.1C105.9 38.2 104.1 34.8 105.1 33.9Z" fill="#f4ecd8"/>
<path d="M76.7 47.5C77.1 46.8 78.7 46.8 79.1 47.5C79.5 48.2 79.5 50.8 79.1 51.5C78.7 52.2 77.1 52.2 76.7 51.5C76.3 50.8 76.3 48.2 76.7 47.5Z" fill="#f4ecd8"/>
<path d="M73.1 68.5C73.5 67.7 75.6 67.7 76.1 68.5C76.6 69.3 76.5 72.7 76.1 73.5C75.7 74.3 74.0 74.3 73.5 73.5C73.0 72.7 72.7 69.3 73.1 68.5Z" fill="#f4ecd8"/>
<path d="M95.1 58.5C96.1 57.7 98.8 57.3 101.1 57.5C103.4 57.7 107.9 58.5 109.1 59.5C110.3 60.5 109.8 62.7 108.1 63.5C106.4 64.3 101.3 64.7 99.1 64.5C96.9 64.3 95.8 63.5 95.1 62.5C94.4 61.5 94.1 59.3 95.1 58.5Z" fill="#f4ecd8"/>
<path d="M173.1 39.5C174.4 37.3 181.1 36.5 182.7 38.5C184.3 40.5 184.0 49.3 182.7 51.5C181.4 53.7 176.7 53.5 175.1 51.5C173.5 49.5 171.8 41.7 173.1 39.5Z" fill="#f4ecd8"/>
<path d="M162.1 47.5C162.8 46.7 166.3 46.7 167.1 47.5C167.9 48.3 167.8 51.7 167.1 52.5C166.4 53.3 163.5 53.3 162.7 52.5C161.9 51.7 161.4 48.3 162.1 47.5Z" fill="#f4ecd8"/>
<path d="M179.1 61.5C179.6 59.0 182.4 58.8 183.1 61.5C183.8 64.2 183.6 75.0 183.1 77.5C182.6 80.0 180.8 79.2 180.1 76.5C179.4 73.8 178.6 64.0 179.1 61.5Z" fill="#f4ecd8"/>
<path d="M25.1 93.5C27.1 89.2 33.4 90.8 37.1 91.5C40.8 92.2 44.1 95.2 47.1 97.5C50.1 99.8 52.8 102.8 55.1 105.5C57.4 108.2 58.4 111.2 61.1 113.5C63.8 115.8 68.4 117.8 71.1 119.5C73.8 121.2 75.7 121.5 77.5 123.5C79.3 125.5 81.7 129.0 82.1 131.5C82.5 134.0 81.6 137.3 80.1 138.5C78.6 139.7 75.6 139.0 73.1 138.5C70.6 138.0 67.8 137.0 65.1 135.5C62.4 134.0 59.8 131.3 57.1 129.5C54.4 127.7 51.8 126.3 49.1 124.5C46.4 122.7 43.8 119.8 41.1 118.5C38.4 117.2 35.8 116.7 33.1 116.5C30.4 116.3 26.4 121.3 25.1 117.5C23.8 113.7 23.1 97.8 25.1 93.5Z" fill="#b5e2db"/>
<path d="M65.1 105.5C66.4 103.5 72.3 103.5 74.1 104.5C75.9 105.5 76.3 109.3 76.1 111.5C75.9 113.7 74.8 116.7 73.1 117.5C71.4 118.3 67.4 118.5 66.1 116.5C64.8 114.5 63.8 107.5 65.1 105.5Z" fill="#b5e2db"/>
<path d="M25.1 95.5C26.8 92.3 32.1 93.5 35.1 94.5C38.1 95.5 40.4 99.0 43.1 101.5C45.8 104.0 48.6 107.2 51.1 109.5C53.6 111.8 56.8 113.2 58.1 115.5C59.4 117.8 59.6 122.0 59.1 123.5C58.6 125.0 57.1 125.0 55.1 124.5C53.1 124.0 49.8 122.0 47.1 120.5C44.4 119.0 41.8 116.5 39.1 115.5C36.4 114.5 33.4 114.8 31.1 114.5C28.8 114.2 26.1 116.7 25.1 113.5C24.1 110.3 23.4 98.7 25.1 95.5Z" fill="#8fd3c8"/>
<path d="M27.1 98.5C28.4 96.8 32.8 96.7 35.1 97.5C37.4 98.3 39.9 101.3 41.1 103.5C42.3 105.7 42.8 108.8 42.1 110.5C41.4 112.2 39.1 113.2 37.1 113.5C35.1 113.8 31.8 113.5 30.1 112.5C28.4 111.5 27.6 109.8 27.1 107.5C26.6 105.2 25.8 100.2 27.1 98.5Z" fill="#5ab4a8"/>
<path d="M29.5 101.5C30.2 99.8 33.7 99.8 35.1 100.5C36.5 101.2 37.9 103.8 38.1 105.5C38.3 107.2 37.3 109.7 36.1 110.5C34.9 111.3 32.2 112.0 31.1 110.5C30.0 109.0 28.8 103.2 29.5 101.5Z" fill="#2a8a80"/>
<path d="M31.1 103.1C31.7 102.0 34.2 101.9 35.1 102.5C36.0 103.1 36.8 105.3 36.7 106.5C36.6 107.7 35.6 109.5 34.7 109.9C33.8 110.3 32.1 110.2 31.5 109.1C30.9 108.0 30.5 104.2 31.1 103.1Z" fill="#01665e"/>
<path d="M53.1 99.5C53.4 98.3 56.2 97.8 57.1 98.5C58.0 99.2 59.0 102.3 58.7 103.5C58.4 104.7 56.0 106.2 55.1 105.5C54.2 104.8 52.8 100.7 53.1 99.5Z" fill="#5ab4a8"/>
<path d="M44.1 113.5C45.0 113.0 48.6 114.3 50.1 115.5C51.6 116.7 53.3 119.5 53.1 120.5C52.9 121.5 50.5 121.8 49.1 121.5C47.7 121.2 45.5 119.8 44.7 118.5C43.9 117.2 43.2 114.0 44.1 113.5Z" fill="#5ab4a8"/>
<path d="M73.1 129.5C74.1 128.3 78.6 127.7 80.1 128.5C81.6 129.3 82.4 132.8 82.1 134.5C81.8 136.2 79.4 138.3 78.1 138.5C76.8 138.7 74.9 137.0 74.1 135.5C73.3 134.0 72.1 130.7 73.1 129.5Z" fill="#8fd3c8"/>
<path d="M76.1 131.5C76.5 130.6 78.8 130.5 79.5 131.1C80.2 131.7 80.7 134.2 80.3 135.1C79.9 136.0 77.8 137.3 77.1 136.7C76.4 136.1 75.7 132.4 76.1 131.5Z" fill="#2a8a80"/>
<path d="M81.1 101.5C81.9 100.5 86.2 100.6 87.1 101.5C88.0 102.4 87.5 106.1 86.7 107.1C85.9 108.1 83.0 108.4 82.1 107.5C81.2 106.6 80.3 102.5 81.1 101.5Z" fill="#b5e2db"/>
<path d="M85.1 123.5C86.3 120.8 91.4 120.5 94.1 120.5C96.8 120.5 100.1 121.3 101.1 123.5C102.1 125.7 101.3 131.0 100.1 133.5C98.9 136.0 96.3 138.0 94.1 138.5C91.9 139.0 88.6 139.0 87.1 136.5C85.6 134.0 83.9 126.2 85.1 123.5Z" fill="#b5e2db"/>
<path d="M88.7 125.1C89.4 123.3 93.6 122.9 95.1 123.5C96.6 124.1 97.4 126.7 97.5 128.5C97.6 130.3 96.6 133.5 95.5 134.5C94.4 135.5 91.8 136.1 90.7 134.5C89.6 132.9 88.0 126.9 88.7 125.1Z" fill="#5ab4a8"/>
<path d="M90.1 127.1C90.8 126.0 93.7 125.4 94.7 125.9C95.7 126.4 96.2 128.6 96.1 129.9C96.0 131.2 95.0 133.1 94.1 133.5C93.2 133.9 91.4 133.6 90.7 132.5C90.0 131.4 89.4 128.2 90.1 127.1Z" fill="#01665e"/>
<path d="M25.1 118.5C26.8 116.7 31.8 117.6 35.1 117.9C38.4 118.2 42.9 119.3 45.1 120.5C47.3 121.7 48.3 123.7 48.1 125.1C47.9 126.5 46.6 128.4 44.1 129.1C41.6 129.8 36.3 129.2 33.1 129.1C29.9 129.0 26.4 130.3 25.1 128.5C23.8 126.7 23.4 120.3 25.1 118.5Z" fill="#efdcaa"/>
<path d="M29.1 120.5C30.4 119.5 34.6 119.6 37.1 119.9C39.6 120.2 43.1 121.3 44.1 122.5C45.1 123.7 44.6 126.3 43.1 127.1C41.6 127.9 37.4 127.7 35.1 127.5C32.8 127.3 30.5 127.1 29.5 125.9C28.5 124.7 27.8 121.5 29.1 120.5Z" fill="#ddbc73"/>
<path d="M33.1 121.9C33.9 121.2 36.8 121.2 38.1 121.5C39.4 121.8 41.1 123.1 41.1 123.9C41.1 124.7 39.4 126.0 38.1 126.3C36.8 126.6 34.3 126.2 33.5 125.5C32.7 124.8 32.3 122.6 33.1 121.9Z" fill="#c8923e"/>
<path d="M25.1 133.5C27.1 130.5 32.8 131.8 37.1 131.5C41.4 131.2 47.8 130.5 51.1 131.5C54.4 132.5 56.8 134.8 57.1 137.5C57.4 140.2 54.8 144.2 53.1 147.5C51.4 150.8 49.1 155.7 47.1 157.5C45.1 159.3 43.1 159.5 41.1 158.5C39.1 157.5 37.8 153.0 35.1 151.5C32.4 150.0 26.8 152.5 25.1 149.5C23.4 146.5 23.1 136.5 25.1 133.5Z" fill="#efdcaa"/>
<path d="M33.1 134.5C35.1 133.3 39.8 132.5 43.1 132.5C46.4 132.5 51.6 133.0 53.1 134.5C54.6 136.0 53.4 139.5 52.1 141.5C50.8 143.5 47.3 145.3 45.1 146.5C42.9 147.7 40.9 148.8 39.1 148.5C37.3 148.2 35.4 146.0 34.1 144.5C32.8 143.0 31.3 141.2 31.1 139.5C30.9 137.8 31.1 135.7 33.1 134.5Z" fill="#ddbc73"/>
<path d="M62.1 140.5C63.0 139.8 67.1 139.8 68.1 140.5C69.1 141.2 69.0 143.8 68.1 144.5C67.2 145.2 63.7 145.2 62.7 144.5C61.7 143.8 61.2 141.2 62.1 140.5Z" fill="#efdcaa"/>
<path d="M96.1 161.9C96.9 160.8 101.1 160.2 102.1 161.1C103.1 162.0 102.9 166.0 102.1 167.1C101.3 168.2 98.1 168.8 97.1 167.9C96.1 167.0 95.3 163.0 96.1 161.9Z" fill="#e4efee"/>
<path d="M89.1 185.5C89.6 184.9 92.1 184.9 92.7 185.5C93.3 186.1 93.2 188.5 92.7 189.1C92.2 189.7 90.1 189.7 89.5 189.1C88.9 188.5 88.6 186.1 89.1 185.5Z" fill="#efdcaa"/>
<path d="M93.1 187.5C93.5 187.0 95.6 187.0 96.1 187.5C96.6 188.0 96.5 190.0 96.1 190.5C95.7 191.0 94.0 191.0 93.5 190.5C93.0 190.0 92.7 188.0 93.1 187.5Z" fill="#8fd3c8"/>
<path d="M135.2 212.5C135.6 211.6 136.7 208.7 137.4 207.0C138.1 205.3 138.8 204.5 139.6 202.4C140.4 200.3 140.9 196.8 142.0 194.4C143.1 192.0 144.8 190.4 146.0 188.0C147.2 185.6 148.3 182.3 149.2 180.0C150.1 177.7 150.5 175.7 151.6 174.4C152.7 173.1 154.1 172.5 155.6 172.0C157.1 171.5 159.2 171.9 160.4 171.2C161.6 170.5 162.1 169.2 162.8 168.0C163.5 166.8 163.2 165.1 164.4 164.0C165.6 162.9 168.3 162.8 170.0 161.6C171.7 160.4 173.2 158.5 174.8 156.8C176.4 155.1 178.2 152.9 179.6 151.2C181.0 149.5 182.6 147.5 183.2 146.8" fill="none" stroke="#e4efee" stroke-width="15.00" stroke-linecap="round" stroke-linejoin="round"/>
<path d="M135.2 212.5C135.6 211.6 136.7 208.7 137.4 207.0C138.1 205.3 138.8 204.5 139.6 202.4C140.4 200.3 140.9 196.8 142.0 194.4C143.1 192.0 144.8 190.4 146.0 188.0C147.2 185.6 148.3 182.3 149.2 180.0C150.1 177.7 150.5 175.7 151.6 174.4C152.7 173.1 154.1 172.5 155.6 172.0C157.1 171.5 159.2 171.9 160.4 171.2C161.6 170.5 162.1 169.2 162.8 168.0C163.5 166.8 163.2 165.1 164.4 164.0C165.6 162.9 168.3 162.8 170.0 161.6C171.7 160.4 173.2 158.5 174.8 156.8C176.4 155.1 178.2 152.9 179.6 151.2C181.0 149.5 182.6 147.5 183.2 146.8" fill="none" stroke="#b5e2db" stroke-width="8.50" stroke-linecap="round" stroke-linejoin="round"/>
<path d="M135.2 212.5C135.6 211.6 136.7 208.7 137.4 207.0C138.1 205.3 138.8 204.5 139.6 202.4C140.4 200.3 140.9 196.8 142.0 194.4C143.1 192.0 144.8 190.4 146.0 188.0C147.2 185.6 148.3 182.3 149.2 180.0C150.1 177.7 150.5 175.7 151.6 174.4C152.7 173.1 154.1 172.5 155.6 172.0C157.1 171.5 159.2 171.9 160.4 171.2C161.6 170.5 162.1 169.2 162.8 168.0C163.5 166.8 163.2 165.1 164.4 164.0C165.6 162.9 168.3 162.8 170.0 161.6C171.7 160.4 173.2 158.5 174.8 156.8C176.4 155.1 178.2 152.9 179.6 151.2C181.0 149.5 182.6 147.5 183.2 146.8" fill="none" stroke="#8fd3c8" stroke-width="6.00" stroke-linecap="round" stroke-linejoin="round"/>
<path d="M135.2 212.5C135.6 211.6 136.7 208.7 137.4 207.0C138.1 205.3 138.8 204.5 139.6 202.4C140.4 200.3 140.9 196.8 142.0 194.4C143.1 192.0 144.8 190.4 146.0 188.0C147.2 185.6 148.3 182.3 149.2 180.0C150.1 177.7 150.5 175.7 151.6 174.4C152.7 173.1 154.1 172.5 155.6 172.0C157.1 171.5 159.2 171.9 160.4 171.2C161.6 170.5 162.1 169.2 162.8 168.0C163.5 166.8 163.2 165.1 164.4 164.0C165.6 162.9 168.3 162.8 170.0 161.6C171.7 160.4 173.2 158.5 174.8 156.8C176.4 155.1 178.2 152.9 179.6 151.2C181.0 149.5 182.6 147.5 183.2 146.8" fill="none" stroke="#5ab4a8" stroke-width="4.40" stroke-linecap="round" stroke-linejoin="round"/>
<path d="M135.2 212.5C135.6 211.6 136.7 208.7 137.4 207.0C138.1 205.3 138.8 204.5 139.6 202.4C140.4 200.3 140.9 196.8 142.0 194.4C143.1 192.0 144.8 190.4 146.0 188.0C147.2 185.6 148.3 182.3 149.2 180.0C150.1 177.7 150.5 175.7 151.6 174.4C152.7 173.1 154.1 172.5 155.6 172.0C157.1 171.5 159.2 171.9 160.4 171.2C161.6 170.5 162.1 169.2 162.8 168.0C163.5 166.8 163.2 165.1 164.4 164.0C165.6 162.9 168.3 162.8 170.0 161.6C171.7 160.4 173.2 158.5 174.8 156.8C176.4 155.1 178.2 152.9 179.6 151.2C181.0 149.5 182.6 147.5 183.2 146.8" fill="none" stroke="#2a8a80" stroke-width="3.20" stroke-linecap="round" stroke-linejoin="round"/>
<path d="M135.2 212.5C135.6 211.6 136.7 208.7 137.4 207.0C138.1 205.3 138.8 204.5 139.6 202.4C140.4 200.3 140.9 196.8 142.0 194.4C143.1 192.0 144.8 190.4 146.0 188.0C147.2 185.6 148.3 182.3 149.2 180.0C150.1 177.7 150.5 175.7 151.6 174.4C152.7 173.1 154.1 172.5 155.6 172.0C157.1 171.5 159.2 171.9 160.4 171.2C161.6 170.5 162.1 169.2 162.8 168.0C163.5 166.8 163.2 165.1 164.4 164.0C165.6 162.9 168.3 162.8 170.0 161.6C171.7 160.4 173.2 158.5 174.8 156.8C176.4 155.1 178.2 152.9 179.6 151.2C181.0 149.5 182.6 147.5 183.2 146.8" fill="none" stroke="#01665e" stroke-width="2.30" stroke-linecap="round" stroke-linejoin="round"/>
<path d="M135.2 212.5C135.6 211.6 136.7 208.7 137.4 207.0C138.1 205.3 138.8 204.5 139.6 202.4C140.4 200.3 140.9 196.8 142.0 194.4C143.1 192.0 144.8 190.4 146.0 188.0C147.2 185.6 148.3 182.3 149.2 180.0C150.1 177.7 150.5 175.7 151.6 174.4C152.7 173.1 154.1 172.5 155.6 172.0C157.1 171.5 159.2 171.9 160.4 171.2C161.6 170.5 162.1 169.2 162.8 168.0C163.5 166.8 163.2 165.1 164.4 164.0C165.6 162.9 168.3 162.8 170.0 161.6C171.7 160.4 173.2 158.5 174.8 156.8C176.4 155.1 178.2 152.9 179.6 151.2C181.0 149.5 182.6 147.5 183.2 146.8" fill="none" stroke="#004c3f" stroke-width="1.40" stroke-linecap="round" stroke-linejoin="round"/>
<ellipse cx="161.6" cy="166.9" rx="24.0" ry="11.0" fill="#e4efee" transform="rotate(-33 161.6 166.9)"/>
<ellipse cx="161.6" cy="166.9" rx="20.0" ry="8.4" fill="#b5e2db" transform="rotate(-33 161.6 166.9)"/>
<ellipse cx="161.6" cy="166.9" rx="17.5" ry="6.4" fill="#8fd3c8" transform="rotate(-33 161.6 166.9)"/>
<ellipse cx="161.6" cy="166.9" rx="16.0" ry="4.8" fill="#5ab4a8" transform="rotate(-33 161.6 166.9)"/>
<ellipse cx="161.6" cy="166.9" rx="14.5" ry="3.6" fill="#2a8a80" transform="rotate(-33 161.6 166.9)"/>
<ellipse cx="161.6" cy="166.9" rx="13.0" ry="2.6" fill="#01665e" transform="rotate(-33 161.6 166.9)"/>
<ellipse cx="161.6" cy="166.9" rx="11.0" ry="1.6" fill="#004c3f" transform="rotate(-33 161.6 166.9)"/>
<path d="M135.2 212.5C136.4 210.3 136.7 208.7 137.4 207.0C138.1 205.3 138.8 204.5 139.6 202.4C140.4 200.3 140.9 196.8 142.0 194.4C143.1 192.0 144.8 190.4 146.0 188.0C147.2 185.6 148.3 182.3 149.2 180.0C150.1 177.7 150.5 175.7 151.6 174.4C152.7 173.1 154.1 172.5 155.6 172.0C157.1 171.5 159.2 171.9 160.4 171.2C161.6 170.5 162.1 169.2 162.8 168.0C163.5 166.8 163.2 165.1 164.4 164.0C165.6 162.9 168.3 162.8 170.0 161.6C171.7 160.4 173.2 158.5 174.8 156.8C176.4 155.1 178.2 152.9 179.6 151.2C181.0 149.5 181.5 148.7 183.2 146.8C184.9 144.9 188.9 127.8 190.0 140.0C191.1 152.2 200.0 206.7 190.0 220.0C180.0 233.3 139.1 221.2 130.0 220.0C120.9 218.8 134.0 214.7 135.2 212.5Z" fill="#b5e2db"/>
<path d="M190.0 150.0C188.8 138.7 184.8 150.3 183.0 152.0C181.2 153.7 180.1 157.3 179.0 160.0C177.9 162.7 176.8 165.0 176.5 168.0C176.2 171.0 177.1 174.3 177.0 178.0C176.9 181.7 176.8 186.3 176.0 190.0C175.2 193.7 173.7 197.0 172.0 200.0C170.3 203.0 167.7 204.7 166.0 208.0C164.3 211.3 158.0 218.0 162.0 220.0C166.0 222.0 185.3 231.7 190.0 220.0C194.7 208.3 191.2 161.3 190.0 150.0Z" fill="#8fd3c8"/>
<path d="M135.2 212.5C135.6 211.6 136.7 208.7 137.4 207.0C138.1 205.3 138.8 204.5 139.6 202.4C140.4 200.3 140.9 196.8 142.0 194.4C143.1 192.0 144.8 190.4 146.0 188.0C147.2 185.6 148.3 182.3 149.2 180.0C150.1 177.7 150.5 175.7 151.6 174.4C152.7 173.1 154.1 172.5 155.6 172.0C157.1 171.5 159.2 171.9 160.4 171.2C161.6 170.5 162.1 169.2 162.8 168.0C163.5 166.8 163.2 165.1 164.4 164.0C165.6 162.9 168.3 162.8 170.0 161.6C171.7 160.4 173.2 158.5 174.8 156.8C176.4 155.1 178.2 152.9 179.6 151.2C181.0 149.5 182.6 147.5 183.2 146.8" fill="none" stroke="#004c3f" stroke-width="1.00" stroke-linecap="round" stroke-linejoin="round"/>
<line x1="58.6" y1="33.5" x2="58.6" y2="211.8" stroke="#000" stroke-opacity="0.16" stroke-width="0.5"/>
<line x1="87.8" y1="33.5" x2="87.8" y2="211.8" stroke="#000" stroke-opacity="0.16" stroke-width="0.5"/>
<line x1="117.0" y1="33.5" x2="117.0" y2="211.8" stroke="#000" stroke-opacity="0.16" stroke-width="0.5"/>
<line x1="146.3" y1="33.5" x2="146.3" y2="211.8" stroke="#000" stroke-opacity="0.16" stroke-width="0.5"/>
<line x1="175.5" y1="33.5" x2="175.5" y2="211.8" stroke="#000" stroke-opacity="0.16" stroke-width="0.5"/>
<line x1="28.5" y1="63.9" x2="182.8" y2="63.9" stroke="#000" stroke-opacity="0.16" stroke-width="0.5"/>
<line x1="28.5" y1="93.3" x2="182.8" y2="93.3" stroke="#000" stroke-opacity="0.16" stroke-width="0.5"/>
<line x1="28.5" y1="122.8" x2="182.8" y2="122.8" stroke="#000" stroke-opacity="0.16" stroke-width="0.5"/>
<line x1="28.5" y1="152.2" x2="182.8" y2="152.2" stroke="#000" stroke-opacity="0.16" stroke-width="0.5"/>
<line x1="28.5" y1="181.7" x2="182.8" y2="181.7" stroke="#000" stroke-opacity="0.16" stroke-width="0.5"/>
<path d="M28.5 42.5C29.3 43.7 31.7 47.2 33.1 49.5C34.5 51.8 35.8 54.0 37.1 56.5C38.4 59.0 39.6 61.7 41.1 64.5C42.6 67.3 44.9 70.6 46.1 73.1C47.3 75.6 47.3 76.8 48.1 79.5C48.9 82.2 51.2 87.5 50.7 89.5C50.2 91.5 47.5 90.6 45.1 91.5C42.7 92.4 38.1 94.1 36.1 95.1C34.1 96.1 34.4 95.7 33.1 97.5C31.8 99.3 29.3 104.5 28.5 105.9" fill="none" stroke="#222" stroke-width="0.5"/>
<path d="M46.1 73.1C47.6 74.0 53.3 76.8 55.1 78.5C56.9 80.2 55.6 82.3 57.1 83.5C58.6 84.7 61.1 86.0 64.1 85.5C67.1 85.0 71.5 82.2 75.1 80.5C78.7 78.8 83.8 76.3 85.5 75.5" fill="none" stroke="#222" stroke-width="0.5"/>
<path d="M78.1 33.9C78.4 35.5 79.8 40.2 80.1 43.5C80.4 46.8 79.6 50.5 80.1 53.5C80.6 56.5 82.3 59.0 83.1 61.5C83.9 64.0 84.7 66.2 85.1 68.5C85.5 70.8 85.0 73.0 85.5 75.5C86.0 78.0 86.5 80.8 88.1 83.5C89.7 86.2 93.7 88.8 95.1 91.5C96.5 94.2 95.7 96.7 96.7 99.5C97.7 102.3 99.0 105.5 101.1 108.5C103.2 111.5 107.8 116.0 109.1 117.5" fill="none" stroke="#222" stroke-width="0.5"/>
<path d="M109.1 117.5C108.9 118.2 108.8 119.8 108.1 121.5C107.4 123.2 106.1 125.3 105.1 127.5C104.1 129.7 103.8 132.7 102.1 134.5C100.4 136.3 97.9 137.3 95.1 138.5C92.3 139.7 88.3 140.8 85.1 141.5C81.9 142.2 78.9 142.8 76.1 142.5C73.3 142.2 70.4 141.1 68.1 139.9C65.8 138.7 64.1 137.1 62.1 135.5C60.1 133.9 61.7 131.4 56.1 130.5C50.5 129.6 33.1 130.2 28.5 130.1" fill="none" stroke="#222" stroke-width="0.5"/>
<path d="M109.1 117.5C109.6 118.2 110.1 119.2 112.1 121.5C114.1 123.8 118.8 127.8 121.1 131.5C123.4 135.2 125.1 139.5 126.1 143.5C127.1 147.5 127.3 151.5 127.1 155.5C126.9 159.5 125.9 164.2 125.1 167.5C124.3 170.8 123.3 173.8 122.1 175.5C120.9 177.2 119.6 177.7 118.1 177.9C116.6 178.1 113.9 176.7 113.1 176.5" fill="none" stroke="#222" stroke-width="0.5"/>
<path d="M105.1 127.5C104.7 129.5 103.0 135.5 102.7 139.5C102.4 143.5 102.7 147.8 103.1 151.5C103.5 155.2 104.1 158.5 105.1 161.5C106.1 164.5 107.8 167.0 109.1 169.5C110.4 172.0 112.4 175.3 113.1 176.5" fill="none" stroke="#222" stroke-width="0.5"/>
<path d="M28.5 209.5C29.6 208.2 32.0 204.5 35.1 201.5C38.2 198.5 43.4 194.5 47.1 191.5C50.8 188.5 54.1 185.7 57.1 183.5C60.1 181.3 62.1 179.8 65.1 178.5C68.1 177.2 71.4 176.4 75.1 175.9C78.8 175.4 83.9 175.2 87.1 175.5C90.3 175.8 91.9 177.2 94.1 177.9C96.3 178.6 96.9 179.7 100.1 179.5C103.3 179.3 110.9 177.0 113.1 176.5" fill="none" stroke="#222" stroke-width="0.5"/>
<path d="M100.1 179.5C100.6 180.8 102.1 184.7 103.1 187.5C104.1 190.3 104.8 193.8 106.1 196.5C107.4 199.2 109.4 201.3 111.1 203.5C112.8 205.7 114.9 208.1 116.1 209.5C117.3 210.9 117.8 211.5 118.1 211.9" fill="none" stroke="#222" stroke-width="0.5"/>
<path d="M115.1 207.5C116.7 206.3 121.9 203.2 124.5 200.5C127.1 197.8 128.8 194.2 130.5 191.5C132.2 188.8 133.5 187.1 135.0 184.5C136.5 181.9 138.4 178.7 139.6 176.0C140.8 173.3 141.1 171.2 142.2 168.6C143.3 166.0 144.2 163.5 146.2 160.6C148.2 157.7 151.4 154.1 154.0 151.4C156.6 148.7 159.2 146.9 162.0 144.6C164.8 142.3 167.1 140.1 170.5 137.6C173.9 135.1 180.7 130.8 182.7 129.5" fill="none" stroke="#222" stroke-width="0.5"/>
<path d="M104.7 33.9 L114.1 47.5 L135.5 54.1 L162.1 37.9 L182.7 33.9" fill="none" stroke="#222" stroke-width="0.5"/>
<path d="M135.2 212.5C135.6 211.6 136.7 208.7 137.4 207.0C138.1 205.3 138.8 204.5 139.6 202.4C140.4 200.3 140.9 196.8 142.0 194.4C143.1 192.0 144.8 190.4 146.0 188.0C147.2 185.6 148.3 182.3 149.2 180.0C150.1 177.7 150.5 175.7 151.6 174.4C152.7 173.1 154.1 172.5 155.6 172.0C157.1 171.5 159.2 171.9 160.4 171.2C161.6 170.5 162.1 169.2 162.8 168.0C163.5 166.8 163.2 165.1 164.4 164.0C165.6 162.9 168.3 162.8 170.0 161.6C171.7 160.4 173.2 158.5 174.8 156.8C176.4 155.1 178.2 152.9 179.6 151.2C181.0 149.5 182.6 147.5 183.2 146.8" fill="none" stroke="#111" stroke-width="1.0"/>
<path d="M162.6 165.8L167.6 160.6M163.4 161.2L167.4 165.6M162.2 163.6L168.6 162.8M165.2 160.2L165.4 166.4M168.6 162.8L170.6 161.0" fill="none" stroke="#111" stroke-width="0.55"/>
<path d="M138.6 203.4L140.4 200.6L139.4 199.4L141.2 198.2M141.6 196.0L143.0 194.6L142.6 193.0L144.0 191.4M146.6 187.0L147.6 185.4M161.0 171.4L165.4 171.8L169.4 167.4L171.6 163.4" fill="none" stroke="#111" stroke-width="0.5"/>
<polygon points="90.9,128.0 96.1,128.0 93.5,123.2" fill="#222"/>
<polygon points="91.6,177.3 96.8,177.3 94.2,182.1" fill="#222"/>
</g>
<rect x="28.5" y="33.5" width="154.3" height="178.3" fill="none" stroke="#333" stroke-width="0.6"/>
<text x="5.5" y="9.7" class="lab">e)</text>
<text x="28.90 35.10 39.33 45.62 48.47 54.80 60.45 64.48 70.80 77.33 80.60 86.90 93.42 98.78 105.07 107.92 114.44 118.47 124.79 128.06 133.71 140.23 146.53 153.04 159.57 165.89 169.16 172.02" y="6.6" class="ttl">Projected absolute change in</text>
<text x="28.90 35.43 39.65 45.98 51.63 54.48 61.01 63.87 67.90 74.20 78.23 81.08 87.37 93.89 97.16 103.45 107.06 110.33 116.86 121.08 123.94 130.26 135.62 139.65 142.92 152.93 159.22 165.74 169.77" y="17.6" class="ttl">precipitation of driest month</text>
<text x="28.90 35.95 38.81 45.10 48.37 54.91 61.45 64.71 68.72 78.74 88.75 92.02 102.03 108.32 114.84 118.87" y="30.7" class="ttl">Bio 14 [mm month</text><text x="125.39 131.67" y="27.2" class="ttl" style="font-size:7.8px"><tspan class="mn">−</tspan>1</text><text x="136.45" y="30.7" class="ttl">]</text>
<text x="18.26 24.05 29.84 34.39" y="221.9" class="tk">34°E</text>
<text x="43.22 49.01 54.80 57.69 63.48 68.03" y="221.9" class="tk">35.5°E</text>
<text x="76.86 82.65 88.44 92.99" y="221.9" class="tk">37°E</text>
<text x="101.72 107.51 113.30 116.19 121.98 126.53" y="221.9" class="tk">38.5°E</text>
<text x="135.26 141.05 146.84 151.39" y="221.9" class="tk">40°E</text>
<text x="160.02 165.81 171.60 174.49 180.28 184.83" y="221.9" class="tk">41.5°E</text>
<polygon points="192.1,45.1 200.7,45.1 196.4,37.3" fill="#003c30"/>
<polygon points="192.1,200.9 200.7,200.9 196.4,208.4" fill="#b87a22"/>
<rect x="192.1" y="186.64" width="8.6" height="14.36" fill="#c8923e"/>
<rect x="192.1" y="172.47" width="8.6" height="14.36" fill="#ddbc73"/>
<rect x="192.1" y="158.31" width="8.6" height="14.36" fill="#efdcaa"/>
<rect x="192.1" y="144.15" width="8.6" height="14.36" fill="#f4ecd8"/>
<rect x="192.1" y="129.98" width="8.6" height="14.36" fill="#e4efee"/>
<rect x="192.1" y="115.82" width="8.6" height="14.36" fill="#b5e2db"/>
<rect x="192.1" y="101.65" width="8.6" height="14.36" fill="#8fd3c8"/>
<rect x="192.1" y="87.49" width="8.6" height="14.36" fill="#5ab4a8"/>
<rect x="192.1" y="73.33" width="8.6" height="14.36" fill="#2a8a80"/>
<rect x="192.1" y="59.16" width="8.6" height="14.36" fill="#01665e"/>
<rect x="192.1" y="45.00" width="8.6" height="14.36" fill="#004c3f"/>
<polygon points="192.1,45.1 196.4,37.3 200.7,45.1 200.7,200.9 196.4,208.4 192.1,200.9" fill="none" stroke="#555" stroke-width="0.5"/>
<line x1="200.7" y1="200.90" x2="202.9" y2="200.90" stroke="#222" stroke-width="0.6"/>
<text x="204.10 211.72 217.51" y="204.2" class="tk"><tspan class="mn">−</tspan>12</text>
<line x1="200.7" y1="172.57" x2="202.9" y2="172.57" stroke="#222" stroke-width="0.6"/>
<text x="204.10 211.72" y="175.9" class="tk"><tspan class="mn">−</tspan>6</text>
<line x1="200.7" y1="144.25" x2="202.9" y2="144.25" stroke="#222" stroke-width="0.6"/>
<text x="204.10" y="147.5" class="tk">0</text>
<line x1="200.7" y1="115.92" x2="202.9" y2="115.92" stroke="#222" stroke-width="0.6"/>
<text x="204.10" y="119.2" class="tk">6</text>
<line x1="200.7" y1="87.59" x2="202.9" y2="87.59" stroke="#222" stroke-width="0.6"/>
<text x="204.10 209.89" y="90.9" class="tk">12</text>
<line x1="200.7" y1="59.26" x2="202.9" y2="59.26" stroke="#222" stroke-width="0.6"/>
<text x="204.10 209.89" y="62.6" class="tk">18</text>
</g>
</svg></body></html>
